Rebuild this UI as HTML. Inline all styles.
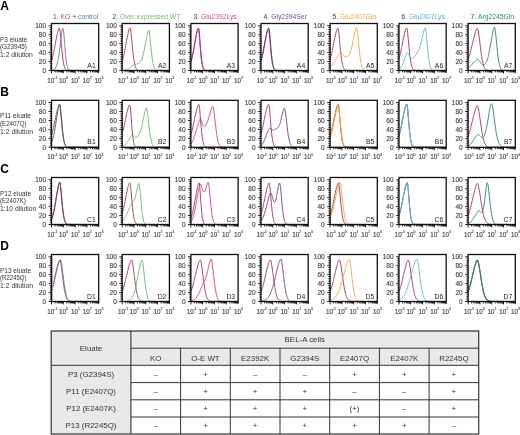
<!DOCTYPE html>
<html><head><meta charset="utf-8"><style>
html,body{margin:0;padding:0;background:#fff;}
body{width:520px;height:435px;overflow:hidden;position:relative;}
.e{stroke:#444;stroke-width:0.14px;fill:#444;}
svg{position:absolute;left:0;top:0;font-family:"Liberation Sans",sans-serif;will-change:transform;}
</style></head><body>
<svg width="520" height="435" viewBox="0 0 520 435">
<text x="0.2" y="10.0" font-size="12" font-weight="bold" fill="#000">A</text>
<text x="0" y="41.50" font-size="6.6" fill="#333" textLength="27.2" lengthAdjust="spacingAndGlyphs">P3 eluate</text>
<text x="0" y="49.10" font-size="6.6" fill="#333" textLength="26.8" lengthAdjust="spacingAndGlyphs">(G23945)</text>
<text x="0" y="56.70" font-size="6.6" fill="#333" textLength="32.9" lengthAdjust="spacingAndGlyphs">1:2 dilution</text>
<text x="0.2" y="95.7" font-size="12" font-weight="bold" fill="#000">B</text>
<text x="0" y="118.30" font-size="6.6" fill="#333" textLength="31.0" lengthAdjust="spacingAndGlyphs">P11 eluate</text>
<text x="0" y="125.90" font-size="6.6" fill="#333" textLength="26.6" lengthAdjust="spacingAndGlyphs">(E2407Q)</text>
<text x="0" y="133.50" font-size="6.6" fill="#333" textLength="33.1" lengthAdjust="spacingAndGlyphs">1:2 dilution</text>
<text x="0.2" y="173.0" font-size="12" font-weight="bold" fill="#000">C</text>
<text x="0" y="195.50" font-size="6.6" fill="#333" textLength="31.0" lengthAdjust="spacingAndGlyphs">P12 eluate</text>
<text x="0" y="203.10" font-size="6.6" fill="#333" textLength="25.8" lengthAdjust="spacingAndGlyphs">(E2407K)</text>
<text x="0" y="210.70" font-size="6.6" fill="#333" textLength="36.2" lengthAdjust="spacingAndGlyphs">1:10 dilution</text>
<text x="0.2" y="250.1" font-size="12" font-weight="bold" fill="#000">D</text>
<text x="0" y="272.50" font-size="6.6" fill="#333" textLength="31.0" lengthAdjust="spacingAndGlyphs">P13 eluate</text>
<text x="0" y="280.10" font-size="6.6" fill="#333" textLength="26.6" lengthAdjust="spacingAndGlyphs">(R2245Q)</text>
<text x="0" y="287.70" font-size="6.6" fill="#333" textLength="33.1" lengthAdjust="spacingAndGlyphs">1:2 dilution</text>
<text x="75.70" y="18.9" font-size="6.75" text-anchor="middle"><tspan fill="#444">1.&#160;</tspan><tspan fill="#d0405f">KO</tspan><tspan fill="#555">&#160;+&#160;</tspan><tspan fill="#5a7db0">control</tspan></text>
<text x="146.40" y="18.9" font-size="6.75" text-anchor="middle"><tspan fill="#444">2.&#160;</tspan><tspan fill="#6cbf6a">Over-expressed&#160;WT</tspan></text>
<text x="215.10" y="18.9" font-size="6.75" text-anchor="middle"><tspan fill="#444">3.&#160;</tspan><tspan fill="#e0409a">Glu2392Lys</tspan></text>
<text x="285.20" y="18.9" font-size="6.75" text-anchor="middle"><tspan fill="#444">4.&#160;</tspan><tspan fill="#7a4a9c">Gly2394Ser</tspan></text>
<text x="354.30" y="18.9" font-size="6.75" text-anchor="middle"><tspan fill="#444">5.&#160;</tspan><tspan fill="#f0a43c">Glu2407Gln</tspan></text>
<text x="423.20" y="18.9" font-size="6.75" text-anchor="middle"><tspan fill="#444">6.&#160;</tspan><tspan fill="#5ab0dc">Glu2407Lys</tspan></text>
<text x="492.30" y="18.9" font-size="6.75" text-anchor="middle"><tspan fill="#444">7.&#160;</tspan><tspan fill="#2f8a6c">Arg2245Gln</tspan></text>
<path d="M51.5,60.9 L51.8,59.9 L52.1,58.9 L52.4,57.8 L52.7,56.6 L53.0,55.4 L53.3,54.1 L53.6,52.8 L53.9,51.4 L54.2,49.9 L54.5,48.4 L54.7,46.9 L55.0,45.4 L55.3,43.8 L55.6,42.2 L55.9,40.7 L56.2,39.1 L56.5,37.6 L56.8,36.1 L57.1,34.7 L57.4,33.4 L57.7,32.1 L58.0,31.0 L58.3,30.0 L58.6,29.2 L58.9,28.6 L59.2,28.2 L59.5,28.1 L59.8,29.0 L60.1,30.9 L60.4,33.3 L60.6,36.3 L60.9,39.4 L61.2,42.7 L61.5,46.1 L61.8,49.3 L62.1,52.3 L62.4,55.1 L62.7,57.7 L63.0,59.9 L63.3,61.9 L63.6,63.6 L63.9,65.0 L64.2,66.2 L64.5,67.1 L64.8,67.9 L65.1,68.5 L65.4,69.0 L65.7,69.4 L66.0,69.7 L66.2,69.9 L66.5,70.1 L66.8,70.2 L67.1,70.3 L67.4,70.4 L67.7,70.4 L68.0,70.4 L98.7,70.5" fill="none" stroke="#a82e58" stroke-width="0.9" stroke-linejoin="round"/>
<path d="M51.5,70.4 L51.8,70.4 L52.1,70.4 L52.4,70.3 L52.7,70.2 L53.0,70.2 L53.3,70.1 L53.6,70.0 L53.9,69.8 L54.2,69.6 L54.5,69.4 L54.7,69.2 L55.0,68.8 L55.3,68.5 L55.6,68.0 L55.9,67.5 L56.2,66.8 L56.5,66.1 L56.8,65.2 L57.1,64.2 L57.4,63.1 L57.7,61.8 L58.0,60.4 L58.3,58.8 L58.6,57.0 L58.9,55.1 L59.2,53.1 L59.5,50.9 L59.8,48.6 L60.1,46.2 L60.4,43.8 L60.6,41.3 L60.9,38.9 L61.2,36.5 L61.5,34.3 L61.8,32.3 L62.1,30.6 L62.4,29.2 L62.7,28.3 L63.0,28.1 L63.3,29.3 L63.6,31.5 L63.9,34.5 L64.2,38.0 L64.5,41.7 L64.8,45.5 L65.1,49.2 L65.4,52.6 L65.7,55.7 L66.0,58.5 L66.2,60.9 L66.5,63.0 L66.8,64.7 L67.1,66.1 L67.4,67.2 L67.7,68.0 L68.0,68.7 L68.3,69.2 L68.6,69.6 L68.9,69.9 L69.2,70.1 L69.5,70.2 L69.8,70.3 L70.1,70.4 L70.4,70.4 L70.7,70.4 L98.7,70.5" fill="none" stroke="#5d7f9c" stroke-width="0.9" stroke-linejoin="round"/>
<rect x="51.50" y="23.50" width="47.20" height="47.00" fill="none" stroke="#111" stroke-width="1.3"/>
<path d="M48.60,70.50H51.50M49.90,68.71H51.50M49.90,66.92H51.50M49.90,65.14H51.50M49.90,63.35H51.50M48.60,61.56H51.50M49.90,59.77H51.50M49.90,57.98H51.50M49.90,56.20H51.50M49.90,54.41H51.50M48.60,52.62H51.50M49.90,50.83H51.50M49.90,49.04H51.50M49.90,47.26H51.50M49.90,45.47H51.50M48.60,43.68H51.50M49.90,41.89H51.50M49.90,40.10H51.50M49.90,38.32H51.50M49.90,36.53H51.50M48.60,34.74H51.50M49.90,32.95H51.50M49.90,31.16H51.50M49.90,29.38H51.50M49.90,27.59H51.50M48.60,25.80H51.50M51.50,70.50V73.40M55.05,70.50V72.40M57.13,70.50V72.40M58.60,70.50V72.40M59.75,70.50V72.40M60.68,70.50V72.40M61.47,70.50V72.40M62.16,70.50V72.40M62.76,70.50V72.40M63.30,70.50V73.40M66.85,70.50V72.40M68.93,70.50V72.40M70.40,70.50V72.40M71.55,70.50V72.40M72.48,70.50V72.40M73.27,70.50V72.40M73.96,70.50V72.40M74.56,70.50V72.40M75.10,70.50V73.40M78.65,70.50V72.40M80.73,70.50V72.40M82.20,70.50V72.40M83.35,70.50V72.40M84.28,70.50V72.40M85.07,70.50V72.40M85.76,70.50V72.40M86.36,70.50V72.40M86.90,70.50V73.40M90.45,70.50V72.40M92.53,70.50V72.40M94.00,70.50V72.40M95.15,70.50V72.40M96.08,70.50V72.40M96.87,70.50V72.40M97.56,70.50V72.40M98.16,70.50V72.40M98.70,70.50V73.10" stroke="#111" stroke-width="0.95" fill="none"/>
<text x="46.10" y="72.80" font-size="6.5" text-anchor="end" fill="#333" class="e">0</text>
<text x="46.10" y="63.86" font-size="6.5" text-anchor="end" fill="#333" class="e">20</text>
<text x="46.10" y="54.92" font-size="6.5" text-anchor="end" fill="#333" class="e">40</text>
<text x="46.10" y="45.98" font-size="6.5" text-anchor="end" fill="#333" class="e">60</text>
<text x="46.10" y="37.04" font-size="6.5" text-anchor="end" fill="#333" class="e">80</text>
<text x="46.10" y="28.10" font-size="6.5" text-anchor="end" fill="#333" class="e">100</text>
<text x="47.30" y="82.50" font-size="6.3" fill="#333" class="e">10<tspan font-size="3.4" dy="-3.2">-1</tspan></text>
<text x="59.10" y="82.50" font-size="6.3" fill="#333" class="e">10<tspan font-size="3.4" dy="-3.2">0</tspan></text>
<text x="70.90" y="82.50" font-size="6.3" fill="#333" class="e">10<tspan font-size="3.4" dy="-3.2">1</tspan></text>
<text x="82.70" y="82.50" font-size="6.3" fill="#333" class="e">10<tspan font-size="3.4" dy="-3.2">2</tspan></text>
<text x="94.50" y="82.50" font-size="6.3" fill="#333" class="e">10<tspan font-size="3.4" dy="-3.2">3</tspan></text>
<text x="95.70" y="67.50" font-size="6.8" text-anchor="end" fill="#222">A1</text>
<path d="M122.2,60.9 L122.5,59.9 L122.8,58.9 L123.1,57.8 L123.4,56.6 L123.7,55.4 L124.0,54.1 L124.3,52.8 L124.6,51.4 L124.9,49.9 L125.2,48.4 L125.4,46.9 L125.7,45.4 L126.0,43.8 L126.3,42.2 L126.6,40.7 L126.9,39.1 L127.2,37.6 L127.5,36.1 L127.8,34.7 L128.1,33.4 L128.4,32.1 L128.7,31.0 L129.0,30.0 L129.3,29.2 L129.6,28.6 L129.9,28.2 L130.2,28.1 L130.5,28.9 L130.8,30.6 L131.1,32.9 L131.3,35.5 L131.6,38.5 L131.9,41.6 L132.2,44.7 L132.5,47.8 L132.8,50.8 L133.1,53.6 L133.4,56.1 L133.7,58.4 L134.0,60.5 L134.3,62.3 L134.6,63.8 L134.9,65.1 L135.2,66.2 L135.5,67.1 L135.8,67.9 L136.1,68.5 L136.4,68.9 L136.7,69.3 L136.9,69.6 L137.2,69.8 L137.5,70.0 L137.8,70.1 L138.1,70.2 L138.4,70.3 L138.7,70.4 L139.0,70.4 L169.4,70.5" fill="none" stroke="#a82e58" stroke-width="0.9" stroke-linejoin="round"/>
<path d="M122.2,70.4 L122.5,70.4 L122.8,70.4 L123.1,70.3 L123.4,70.3 L123.7,70.3 L124.0,70.2 L124.3,70.2 L124.6,70.2 L124.9,70.1 L125.2,70.0 L125.4,70.0 L125.7,69.9 L126.0,69.8 L126.3,69.7 L126.6,69.6 L126.9,69.5 L127.2,69.4 L127.5,69.3 L127.8,69.1 L128.1,69.0 L128.4,68.8 L128.7,68.7 L129.0,68.5 L129.3,68.3 L129.6,68.1 L129.9,67.8 L130.2,67.6 L130.5,67.4 L130.8,67.1 L131.1,66.9 L131.3,66.6 L131.6,66.4 L131.9,66.1 L132.2,65.9 L132.5,65.6 L132.8,65.4 L133.1,65.2 L133.4,64.9 L133.7,64.7 L134.0,64.5 L134.3,64.4 L134.6,64.2 L134.9,64.1 L135.2,64.1 L135.5,64.0 L135.8,64.0 L136.1,64.0 L136.4,64.0 L136.7,63.9 L136.9,63.9 L137.2,63.9 L137.5,63.8 L137.8,63.8 L138.1,63.7 L138.4,63.6 L138.7,63.5 L139.0,63.3 L139.3,63.1 L139.6,62.8 L139.9,62.6 L140.2,62.2 L140.5,61.8 L140.8,61.3 L141.1,60.8 L141.4,60.2 L141.7,59.5 L142.0,58.8 L142.3,57.9 L142.6,57.0 L142.8,56.0 L143.1,54.9 L143.4,53.7 L143.7,52.5 L144.0,51.1 L144.3,49.7 L144.6,48.2 L144.9,46.7 L145.2,45.1 L145.5,43.5 L145.8,41.9 L146.1,40.3 L146.4,38.7 L146.7,37.2 L147.0,35.7 L147.3,34.4 L147.6,33.2 L147.9,32.1 L148.2,31.3 L148.5,30.7 L148.8,30.3 L149.0,30.7 L149.3,32.0 L149.6,34.0 L149.9,36.5 L150.2,39.3 L150.5,42.4 L150.8,45.5 L151.1,48.5 L151.4,51.5 L151.7,54.2 L152.0,56.7 L152.3,59.0 L152.6,61.0 L152.9,62.7 L153.2,64.2 L153.5,65.5 L153.8,66.5 L154.1,67.3 L154.4,68.0 L154.7,68.6 L154.9,69.0 L155.2,69.3 L155.5,69.6 L155.8,69.8 L156.1,69.9 L156.4,70.1 L156.7,70.1 L157.0,70.2 L157.3,70.3 L157.6,70.3 L157.9,70.3 L158.2,70.4 L158.5,70.4 L158.8,70.4 L169.4,70.5" fill="none" stroke="#62b868" stroke-width="0.9" stroke-linejoin="round"/>
<rect x="122.20" y="23.50" width="47.20" height="47.00" fill="none" stroke="#111" stroke-width="1.3"/>
<path d="M119.30,70.50H122.20M120.60,68.71H122.20M120.60,66.92H122.20M120.60,65.14H122.20M120.60,63.35H122.20M119.30,61.56H122.20M120.60,59.77H122.20M120.60,57.98H122.20M120.60,56.20H122.20M120.60,54.41H122.20M119.30,52.62H122.20M120.60,50.83H122.20M120.60,49.04H122.20M120.60,47.26H122.20M120.60,45.47H122.20M119.30,43.68H122.20M120.60,41.89H122.20M120.60,40.10H122.20M120.60,38.32H122.20M120.60,36.53H122.20M119.30,34.74H122.20M120.60,32.95H122.20M120.60,31.16H122.20M120.60,29.38H122.20M120.60,27.59H122.20M119.30,25.80H122.20M122.20,70.50V73.40M125.75,70.50V72.40M127.83,70.50V72.40M129.30,70.50V72.40M130.45,70.50V72.40M131.38,70.50V72.40M132.17,70.50V72.40M132.86,70.50V72.40M133.46,70.50V72.40M134.00,70.50V73.40M137.55,70.50V72.40M139.63,70.50V72.40M141.10,70.50V72.40M142.25,70.50V72.40M143.18,70.50V72.40M143.97,70.50V72.40M144.66,70.50V72.40M145.26,70.50V72.40M145.80,70.50V73.40M149.35,70.50V72.40M151.43,70.50V72.40M152.90,70.50V72.40M154.05,70.50V72.40M154.98,70.50V72.40M155.77,70.50V72.40M156.46,70.50V72.40M157.06,70.50V72.40M157.60,70.50V73.40M161.15,70.50V72.40M163.23,70.50V72.40M164.70,70.50V72.40M165.85,70.50V72.40M166.78,70.50V72.40M167.57,70.50V72.40M168.26,70.50V72.40M168.86,70.50V72.40M169.40,70.50V73.10" stroke="#111" stroke-width="0.95" fill="none"/>
<text x="116.80" y="72.80" font-size="6.5" text-anchor="end" fill="#333" class="e">0</text>
<text x="116.80" y="63.86" font-size="6.5" text-anchor="end" fill="#333" class="e">20</text>
<text x="116.80" y="54.92" font-size="6.5" text-anchor="end" fill="#333" class="e">40</text>
<text x="116.80" y="45.98" font-size="6.5" text-anchor="end" fill="#333" class="e">60</text>
<text x="116.80" y="37.04" font-size="6.5" text-anchor="end" fill="#333" class="e">80</text>
<text x="116.80" y="28.10" font-size="6.5" text-anchor="end" fill="#333" class="e">100</text>
<text x="118.00" y="82.50" font-size="6.3" fill="#333" class="e">10<tspan font-size="3.4" dy="-3.2">-1</tspan></text>
<text x="129.80" y="82.50" font-size="6.3" fill="#333" class="e">10<tspan font-size="3.4" dy="-3.2">0</tspan></text>
<text x="141.60" y="82.50" font-size="6.3" fill="#333" class="e">10<tspan font-size="3.4" dy="-3.2">1</tspan></text>
<text x="153.40" y="82.50" font-size="6.3" fill="#333" class="e">10<tspan font-size="3.4" dy="-3.2">2</tspan></text>
<text x="165.20" y="82.50" font-size="6.3" fill="#333" class="e">10<tspan font-size="3.4" dy="-3.2">3</tspan></text>
<text x="166.40" y="67.50" font-size="6.8" text-anchor="end" fill="#222">A2</text>
<path d="M190.9,61.2 L191.2,60.2 L191.5,59.1 L191.8,57.9 L192.1,56.6 L192.4,55.3 L192.7,53.9 L193.0,52.4 L193.3,50.9 L193.6,49.3 L193.8,47.7 L194.1,46.0 L194.4,44.3 L194.7,42.6 L195.0,40.9 L195.3,39.3 L195.6,37.6 L195.9,36.1 L196.2,34.6 L196.5,33.2 L196.8,31.9 L197.1,30.8 L197.4,29.9 L197.7,29.1 L198.0,28.6 L198.3,28.5 L198.6,29.7 L198.9,32.0 L199.2,34.9 L199.5,38.4 L199.8,42.0 L200.0,45.8 L200.3,49.4 L200.6,52.8 L200.9,55.9 L201.2,58.6 L201.5,61.0 L201.8,63.1 L202.1,64.7 L202.4,66.1 L202.7,67.2 L203.0,68.1 L203.3,68.7 L203.6,69.2 L203.9,69.6 L204.2,69.9 L204.5,70.1 L204.8,70.2 L205.1,70.3 L205.4,70.4 L205.7,70.4 L205.9,70.4 L238.1,70.5" fill="none" stroke="#d8348c" stroke-width="0.9" stroke-linejoin="round"/>
<path d="M190.9,62.2 L191.2,61.3 L191.5,60.3 L191.8,59.2 L192.1,58.0 L192.4,56.7 L192.7,55.4 L193.0,54.0 L193.3,52.5 L193.6,51.0 L193.8,49.4 L194.1,47.8 L194.4,46.1 L194.7,44.4 L195.0,42.7 L195.3,41.0 L195.6,39.3 L195.9,37.6 L196.2,36.0 L196.5,34.5 L196.8,33.1 L197.1,31.7 L197.4,30.6 L197.7,29.6 L198.0,28.8 L198.3,28.3 L198.6,28.0 L198.9,28.9 L199.2,31.0 L199.5,33.9 L199.8,37.3 L200.0,41.0 L200.3,44.7 L200.6,48.4 L200.9,51.9 L201.2,55.1 L201.5,58.0 L201.8,60.5 L202.1,62.6 L202.4,64.4 L202.7,65.8 L203.0,67.0 L203.3,67.9 L203.6,68.6 L203.9,69.1 L204.2,69.5 L204.5,69.8 L204.8,70.0 L205.1,70.2 L205.4,70.3 L205.7,70.4 L205.9,70.4 L206.2,70.4 L238.1,70.5" fill="none" stroke="#9a2862" stroke-width="0.9" stroke-linejoin="round"/>
<rect x="190.90" y="23.50" width="47.20" height="47.00" fill="none" stroke="#111" stroke-width="1.3"/>
<path d="M188.00,70.50H190.90M189.30,68.71H190.90M189.30,66.92H190.90M189.30,65.14H190.90M189.30,63.35H190.90M188.00,61.56H190.90M189.30,59.77H190.90M189.30,57.98H190.90M189.30,56.20H190.90M189.30,54.41H190.90M188.00,52.62H190.90M189.30,50.83H190.90M189.30,49.04H190.90M189.30,47.26H190.90M189.30,45.47H190.90M188.00,43.68H190.90M189.30,41.89H190.90M189.30,40.10H190.90M189.30,38.32H190.90M189.30,36.53H190.90M188.00,34.74H190.90M189.30,32.95H190.90M189.30,31.16H190.90M189.30,29.38H190.90M189.30,27.59H190.90M188.00,25.80H190.90M190.90,70.50V73.40M194.45,70.50V72.40M196.53,70.50V72.40M198.00,70.50V72.40M199.15,70.50V72.40M200.08,70.50V72.40M200.87,70.50V72.40M201.56,70.50V72.40M202.16,70.50V72.40M202.70,70.50V73.40M206.25,70.50V72.40M208.33,70.50V72.40M209.80,70.50V72.40M210.95,70.50V72.40M211.88,70.50V72.40M212.67,70.50V72.40M213.36,70.50V72.40M213.96,70.50V72.40M214.50,70.50V73.40M218.05,70.50V72.40M220.13,70.50V72.40M221.60,70.50V72.40M222.75,70.50V72.40M223.68,70.50V72.40M224.47,70.50V72.40M225.16,70.50V72.40M225.76,70.50V72.40M226.30,70.50V73.40M229.85,70.50V72.40M231.93,70.50V72.40M233.40,70.50V72.40M234.55,70.50V72.40M235.48,70.50V72.40M236.27,70.50V72.40M236.96,70.50V72.40M237.56,70.50V72.40M238.10,70.50V73.10" stroke="#111" stroke-width="0.95" fill="none"/>
<text x="185.50" y="72.80" font-size="6.5" text-anchor="end" fill="#333" class="e">0</text>
<text x="185.50" y="63.86" font-size="6.5" text-anchor="end" fill="#333" class="e">20</text>
<text x="185.50" y="54.92" font-size="6.5" text-anchor="end" fill="#333" class="e">40</text>
<text x="185.50" y="45.98" font-size="6.5" text-anchor="end" fill="#333" class="e">60</text>
<text x="185.50" y="37.04" font-size="6.5" text-anchor="end" fill="#333" class="e">80</text>
<text x="185.50" y="28.10" font-size="6.5" text-anchor="end" fill="#333" class="e">100</text>
<text x="186.70" y="82.50" font-size="6.3" fill="#333" class="e">10<tspan font-size="3.4" dy="-3.2">-1</tspan></text>
<text x="198.50" y="82.50" font-size="6.3" fill="#333" class="e">10<tspan font-size="3.4" dy="-3.2">0</tspan></text>
<text x="210.30" y="82.50" font-size="6.3" fill="#333" class="e">10<tspan font-size="3.4" dy="-3.2">1</tspan></text>
<text x="222.10" y="82.50" font-size="6.3" fill="#333" class="e">10<tspan font-size="3.4" dy="-3.2">2</tspan></text>
<text x="233.90" y="82.50" font-size="6.3" fill="#333" class="e">10<tspan font-size="3.4" dy="-3.2">3</tspan></text>
<text x="235.10" y="67.50" font-size="6.8" text-anchor="end" fill="#222">A3</text>
<path d="M261.0,60.1 L261.3,59.1 L261.6,58.0 L261.9,56.8 L262.2,55.6 L262.5,54.2 L262.8,52.9 L263.1,51.5 L263.4,50.0 L263.7,48.5 L263.9,46.9 L264.2,45.3 L264.5,43.7 L264.8,42.1 L265.1,40.5 L265.4,39.0 L265.7,37.4 L266.0,36.0 L266.3,34.6 L266.6,33.2 L266.9,32.0 L267.2,31.0 L267.5,30.0 L267.8,29.3 L268.1,28.8 L268.4,28.5 L268.7,29.0 L269.0,30.7 L269.3,33.1 L269.6,36.1 L269.9,39.4 L270.1,42.9 L270.4,46.4 L270.7,49.8 L271.0,52.9 L271.3,55.9 L271.6,58.5 L271.9,60.7 L272.2,62.7 L272.5,64.3 L272.8,65.7 L273.1,66.8 L273.4,67.7 L273.7,68.4 L274.0,68.9 L274.3,69.4 L274.6,69.7 L274.9,69.9 L275.2,70.1 L275.5,70.2 L275.8,70.3 L276.0,70.4 L276.3,70.4 L276.6,70.4 L308.2,70.5" fill="none" stroke="#6b3f8c" stroke-width="0.9" stroke-linejoin="round"/>
<path d="M261.0,61.2 L261.3,60.2 L261.6,59.2 L261.9,58.1 L262.2,56.9 L262.5,55.6 L262.8,54.3 L263.1,53.0 L263.4,51.5 L263.7,50.1 L263.9,48.5 L264.2,47.0 L264.5,45.4 L264.8,43.8 L265.1,42.2 L265.4,40.5 L265.7,39.0 L266.0,37.4 L266.3,35.9 L266.6,34.5 L266.9,33.1 L267.2,31.9 L267.5,30.7 L267.8,29.8 L268.1,29.0 L268.4,28.4 L268.7,28.1 L269.0,28.4 L269.3,29.9 L269.6,32.2 L269.9,35.1 L270.1,38.4 L270.4,41.9 L270.7,45.4 L271.0,48.9 L271.3,52.1 L271.6,55.1 L271.9,57.8 L272.2,60.2 L272.5,62.2 L272.8,64.0 L273.1,65.4 L273.4,66.6 L273.7,67.5 L274.0,68.2 L274.3,68.8 L274.6,69.3 L274.9,69.6 L275.2,69.9 L275.5,70.1 L275.8,70.2 L276.0,70.3 L276.3,70.4 L276.6,70.4 L276.9,70.4 L308.2,70.5" fill="none" stroke="#74304f" stroke-width="0.9" stroke-linejoin="round"/>
<rect x="261.00" y="23.50" width="47.20" height="47.00" fill="none" stroke="#111" stroke-width="1.3"/>
<path d="M258.10,70.50H261.00M259.40,68.71H261.00M259.40,66.92H261.00M259.40,65.14H261.00M259.40,63.35H261.00M258.10,61.56H261.00M259.40,59.77H261.00M259.40,57.98H261.00M259.40,56.20H261.00M259.40,54.41H261.00M258.10,52.62H261.00M259.40,50.83H261.00M259.40,49.04H261.00M259.40,47.26H261.00M259.40,45.47H261.00M258.10,43.68H261.00M259.40,41.89H261.00M259.40,40.10H261.00M259.40,38.32H261.00M259.40,36.53H261.00M258.10,34.74H261.00M259.40,32.95H261.00M259.40,31.16H261.00M259.40,29.38H261.00M259.40,27.59H261.00M258.10,25.80H261.00M261.00,70.50V73.40M264.55,70.50V72.40M266.63,70.50V72.40M268.10,70.50V72.40M269.25,70.50V72.40M270.18,70.50V72.40M270.97,70.50V72.40M271.66,70.50V72.40M272.26,70.50V72.40M272.80,70.50V73.40M276.35,70.50V72.40M278.43,70.50V72.40M279.90,70.50V72.40M281.05,70.50V72.40M281.98,70.50V72.40M282.77,70.50V72.40M283.46,70.50V72.40M284.06,70.50V72.40M284.60,70.50V73.40M288.15,70.50V72.40M290.23,70.50V72.40M291.70,70.50V72.40M292.85,70.50V72.40M293.78,70.50V72.40M294.57,70.50V72.40M295.26,70.50V72.40M295.86,70.50V72.40M296.40,70.50V73.40M299.95,70.50V72.40M302.03,70.50V72.40M303.50,70.50V72.40M304.65,70.50V72.40M305.58,70.50V72.40M306.37,70.50V72.40M307.06,70.50V72.40M307.66,70.50V72.40M308.20,70.50V73.10" stroke="#111" stroke-width="0.95" fill="none"/>
<text x="255.60" y="72.80" font-size="6.5" text-anchor="end" fill="#333" class="e">0</text>
<text x="255.60" y="63.86" font-size="6.5" text-anchor="end" fill="#333" class="e">20</text>
<text x="255.60" y="54.92" font-size="6.5" text-anchor="end" fill="#333" class="e">40</text>
<text x="255.60" y="45.98" font-size="6.5" text-anchor="end" fill="#333" class="e">60</text>
<text x="255.60" y="37.04" font-size="6.5" text-anchor="end" fill="#333" class="e">80</text>
<text x="255.60" y="28.10" font-size="6.5" text-anchor="end" fill="#333" class="e">100</text>
<text x="256.80" y="82.50" font-size="6.3" fill="#333" class="e">10<tspan font-size="3.4" dy="-3.2">-1</tspan></text>
<text x="268.60" y="82.50" font-size="6.3" fill="#333" class="e">10<tspan font-size="3.4" dy="-3.2">0</tspan></text>
<text x="280.40" y="82.50" font-size="6.3" fill="#333" class="e">10<tspan font-size="3.4" dy="-3.2">1</tspan></text>
<text x="292.20" y="82.50" font-size="6.3" fill="#333" class="e">10<tspan font-size="3.4" dy="-3.2">2</tspan></text>
<text x="304.00" y="82.50" font-size="6.3" fill="#333" class="e">10<tspan font-size="3.4" dy="-3.2">3</tspan></text>
<text x="305.20" y="67.50" font-size="6.8" text-anchor="end" fill="#222">A4</text>
<path d="M330.1,59.1 L330.4,58.1 L330.7,57.0 L331.0,55.8 L331.3,54.7 L331.6,53.4 L331.9,52.1 L332.2,50.8 L332.5,49.4 L332.8,48.0 L333.1,46.5 L333.3,45.0 L333.6,43.6 L333.9,42.1 L334.2,40.6 L334.5,39.1 L334.8,37.7 L335.1,36.3 L335.4,34.9 L335.7,33.7 L336.0,32.5 L336.3,31.4 L336.6,30.4 L336.9,29.6 L337.2,28.9 L337.5,28.4 L337.8,28.1 L338.1,28.3 L338.4,29.5 L338.7,31.5 L339.0,33.9 L339.2,36.7 L339.5,39.7 L339.8,42.9 L340.1,46.0 L340.4,49.0 L340.7,51.9 L341.0,54.6 L341.3,57.1 L341.6,59.3 L341.9,61.2 L342.2,62.9 L342.5,64.4 L342.8,65.6 L343.1,66.6 L343.4,67.4 L343.7,68.1 L344.0,68.7 L344.3,69.1 L344.6,69.5 L344.9,69.7 L345.1,69.9 L345.4,70.1 L345.7,70.2 L346.0,70.3 L346.3,70.3 L346.6,70.4 L346.9,70.4 L377.3,70.5" fill="none" stroke="#a82e58" stroke-width="0.9" stroke-linejoin="round"/>
<path d="M330.1,67.3 L330.4,67.0 L330.7,66.7 L331.0,66.5 L331.3,66.1 L331.6,65.8 L331.9,65.5 L332.2,65.1 L332.5,64.7 L332.8,64.3 L333.1,63.9 L333.3,63.5 L333.6,63.1 L333.9,62.6 L334.2,62.1 L334.5,61.7 L334.8,61.2 L335.1,60.7 L335.4,60.2 L335.7,59.6 L336.0,59.1 L336.3,58.6 L336.6,58.1 L336.9,57.5 L337.2,57.0 L337.5,56.5 L337.8,56.0 L338.1,55.5 L338.4,55.0 L338.7,54.5 L339.0,54.1 L339.2,53.7 L339.5,53.3 L339.8,52.9 L340.1,52.6 L340.4,52.5 L340.7,52.5 L341.0,52.6 L341.3,52.8 L341.6,53.1 L341.9,53.4 L342.2,53.8 L342.5,54.2 L342.8,54.6 L343.1,55.0 L343.4,55.4 L343.7,55.7 L344.0,56.0 L344.3,56.3 L344.6,56.6 L344.9,56.8 L345.1,56.9 L345.4,57.0 L345.7,57.1 L346.0,57.1 L346.3,57.0 L346.6,57.0 L346.9,56.9 L347.2,56.7 L347.5,56.6 L347.8,56.4 L348.1,56.1 L348.4,55.9 L348.7,55.5 L349.0,55.1 L349.3,54.6 L349.6,54.1 L349.9,53.4 L350.2,52.7 L350.5,51.9 L350.8,51.0 L351.0,50.0 L351.3,48.9 L351.6,47.8 L351.9,46.5 L352.2,45.2 L352.5,43.8 L352.8,42.3 L353.1,40.8 L353.4,39.3 L353.7,37.8 L354.0,36.3 L354.3,34.8 L354.6,33.3 L354.9,32.0 L355.2,30.8 L355.5,29.7 L355.8,28.8 L356.1,28.1 L356.4,27.6 L356.7,27.5 L356.9,28.4 L357.2,30.0 L357.5,32.2 L357.8,34.9 L358.1,37.8 L358.4,40.9 L358.7,44.0 L359.0,47.1 L359.3,50.1 L359.6,52.9 L359.9,55.5 L360.2,57.9 L360.5,60.0 L360.8,61.8 L361.1,63.4 L361.4,64.7 L361.7,65.9 L362.0,66.8 L362.3,67.6 L362.6,68.2 L362.8,68.7 L363.1,69.1 L363.4,69.5 L363.7,69.7 L364.0,69.9 L364.3,70.1 L364.6,70.2 L364.9,70.2 L365.2,70.3 L365.5,70.4 L365.8,70.4 L366.1,70.4 L377.3,70.5" fill="none" stroke="#f2a43a" stroke-width="0.9" stroke-linejoin="round"/>
<rect x="330.10" y="23.50" width="47.20" height="47.00" fill="none" stroke="#111" stroke-width="1.3"/>
<path d="M327.20,70.50H330.10M328.50,68.71H330.10M328.50,66.92H330.10M328.50,65.14H330.10M328.50,63.35H330.10M327.20,61.56H330.10M328.50,59.77H330.10M328.50,57.98H330.10M328.50,56.20H330.10M328.50,54.41H330.10M327.20,52.62H330.10M328.50,50.83H330.10M328.50,49.04H330.10M328.50,47.26H330.10M328.50,45.47H330.10M327.20,43.68H330.10M328.50,41.89H330.10M328.50,40.10H330.10M328.50,38.32H330.10M328.50,36.53H330.10M327.20,34.74H330.10M328.50,32.95H330.10M328.50,31.16H330.10M328.50,29.38H330.10M328.50,27.59H330.10M327.20,25.80H330.10M330.10,70.50V73.40M333.65,70.50V72.40M335.73,70.50V72.40M337.20,70.50V72.40M338.35,70.50V72.40M339.28,70.50V72.40M340.07,70.50V72.40M340.76,70.50V72.40M341.36,70.50V72.40M341.90,70.50V73.40M345.45,70.50V72.40M347.53,70.50V72.40M349.00,70.50V72.40M350.15,70.50V72.40M351.08,70.50V72.40M351.87,70.50V72.40M352.56,70.50V72.40M353.16,70.50V72.40M353.70,70.50V73.40M357.25,70.50V72.40M359.33,70.50V72.40M360.80,70.50V72.40M361.95,70.50V72.40M362.88,70.50V72.40M363.67,70.50V72.40M364.36,70.50V72.40M364.96,70.50V72.40M365.50,70.50V73.40M369.05,70.50V72.40M371.13,70.50V72.40M372.60,70.50V72.40M373.75,70.50V72.40M374.68,70.50V72.40M375.47,70.50V72.40M376.16,70.50V72.40M376.76,70.50V72.40M377.30,70.50V73.10" stroke="#111" stroke-width="0.95" fill="none"/>
<text x="324.70" y="72.80" font-size="6.5" text-anchor="end" fill="#333" class="e">0</text>
<text x="324.70" y="63.86" font-size="6.5" text-anchor="end" fill="#333" class="e">20</text>
<text x="324.70" y="54.92" font-size="6.5" text-anchor="end" fill="#333" class="e">40</text>
<text x="324.70" y="45.98" font-size="6.5" text-anchor="end" fill="#333" class="e">60</text>
<text x="324.70" y="37.04" font-size="6.5" text-anchor="end" fill="#333" class="e">80</text>
<text x="324.70" y="28.10" font-size="6.5" text-anchor="end" fill="#333" class="e">100</text>
<text x="325.90" y="82.50" font-size="6.3" fill="#333" class="e">10<tspan font-size="3.4" dy="-3.2">-1</tspan></text>
<text x="337.70" y="82.50" font-size="6.3" fill="#333" class="e">10<tspan font-size="3.4" dy="-3.2">0</tspan></text>
<text x="349.50" y="82.50" font-size="6.3" fill="#333" class="e">10<tspan font-size="3.4" dy="-3.2">1</tspan></text>
<text x="361.30" y="82.50" font-size="6.3" fill="#333" class="e">10<tspan font-size="3.4" dy="-3.2">2</tspan></text>
<text x="373.10" y="82.50" font-size="6.3" fill="#333" class="e">10<tspan font-size="3.4" dy="-3.2">3</tspan></text>
<text x="374.30" y="67.50" font-size="6.8" text-anchor="end" fill="#222">A5</text>
<path d="M399.0,58.7 L399.3,57.6 L399.6,56.5 L399.9,55.4 L400.2,54.2 L400.5,52.9 L400.8,51.6 L401.1,50.2 L401.4,48.8 L401.7,47.4 L401.9,45.9 L402.2,44.4 L402.5,43.0 L402.8,41.5 L403.1,40.0 L403.4,38.5 L403.7,37.1 L404.0,35.7 L404.3,34.4 L404.6,33.2 L404.9,32.0 L405.2,31.0 L405.5,30.0 L405.8,29.3 L406.1,28.6 L406.4,28.2 L406.7,28.0 L407.0,28.7 L407.3,30.2 L407.6,32.4 L407.9,35.0 L408.1,37.9 L408.4,41.0 L408.7,44.1 L409.0,47.2 L409.3,50.2 L409.6,53.0 L409.9,55.6 L410.2,58.0 L410.5,60.1 L410.8,61.9 L411.1,63.5 L411.4,64.9 L411.7,66.0 L412.0,67.0 L412.3,67.7 L412.6,68.4 L412.9,68.9 L413.2,69.3 L413.5,69.6 L413.8,69.8 L414.0,70.0 L414.3,70.1 L414.6,70.2 L414.9,70.3 L415.2,70.4 L415.5,70.4 L415.8,70.4 L446.2,70.5" fill="none" stroke="#a82e58" stroke-width="0.9" stroke-linejoin="round"/>
<path d="M399.0,69.4 L399.3,69.2 L399.6,69.0 L399.9,68.7 L400.2,68.4 L400.5,68.1 L400.8,67.8 L401.1,67.4 L401.4,66.9 L401.7,66.4 L401.9,65.9 L402.2,65.3 L402.5,64.7 L402.8,64.0 L403.1,63.2 L403.4,62.5 L403.7,61.6 L404.0,60.8 L404.3,59.9 L404.6,59.0 L404.9,58.2 L405.2,57.3 L405.5,56.4 L405.8,55.6 L406.1,54.9 L406.4,54.2 L406.7,53.6 L407.0,53.1 L407.3,52.8 L407.6,52.8 L407.9,53.0 L408.1,53.3 L408.4,53.8 L408.7,54.3 L409.0,54.8 L409.3,55.4 L409.6,55.9 L409.9,56.5 L410.2,56.9 L410.5,57.3 L410.8,57.7 L411.1,58.0 L411.4,58.2 L411.7,58.3 L412.0,58.4 L412.3,58.4 L412.6,58.3 L412.9,58.2 L413.2,58.0 L413.5,57.8 L413.8,57.5 L414.0,57.2 L414.3,56.9 L414.6,56.5 L414.9,56.1 L415.2,55.7 L415.5,55.3 L415.8,54.8 L416.1,54.3 L416.4,53.8 L416.7,53.3 L417.0,52.8 L417.3,52.3 L417.6,51.9 L417.9,51.4 L418.2,50.8 L418.5,50.3 L418.8,49.7 L419.1,49.0 L419.4,48.3 L419.6,47.4 L419.9,46.6 L420.2,45.6 L420.5,44.6 L420.8,43.5 L421.1,42.3 L421.4,41.1 L421.7,39.8 L422.0,38.5 L422.3,37.2 L422.6,35.8 L422.9,34.5 L423.2,33.3 L423.5,32.1 L423.8,31.0 L424.1,30.0 L424.4,29.2 L424.7,28.5 L425.0,28.1 L425.3,28.0 L425.6,28.7 L425.8,30.4 L426.1,32.7 L426.4,35.5 L426.7,38.6 L427.0,41.8 L427.3,45.1 L427.6,48.3 L427.9,51.4 L428.2,54.2 L428.5,56.8 L428.8,59.2 L429.1,61.2 L429.4,63.0 L429.7,64.4 L430.0,65.7 L430.3,66.7 L430.6,67.6 L430.9,68.2 L431.2,68.8 L431.4,69.2 L431.7,69.5 L432.0,69.8 L432.3,70.0 L432.6,70.1 L432.9,70.2 L433.2,70.3 L433.5,70.3 L433.8,70.4 L434.1,70.4 L446.2,70.5" fill="none" stroke="#5ab0dc" stroke-width="0.9" stroke-linejoin="round"/>
<rect x="399.00" y="23.50" width="47.20" height="47.00" fill="none" stroke="#111" stroke-width="1.3"/>
<path d="M396.10,70.50H399.00M397.40,68.71H399.00M397.40,66.92H399.00M397.40,65.14H399.00M397.40,63.35H399.00M396.10,61.56H399.00M397.40,59.77H399.00M397.40,57.98H399.00M397.40,56.20H399.00M397.40,54.41H399.00M396.10,52.62H399.00M397.40,50.83H399.00M397.40,49.04H399.00M397.40,47.26H399.00M397.40,45.47H399.00M396.10,43.68H399.00M397.40,41.89H399.00M397.40,40.10H399.00M397.40,38.32H399.00M397.40,36.53H399.00M396.10,34.74H399.00M397.40,32.95H399.00M397.40,31.16H399.00M397.40,29.38H399.00M397.40,27.59H399.00M396.10,25.80H399.00M399.00,70.50V73.40M402.55,70.50V72.40M404.63,70.50V72.40M406.10,70.50V72.40M407.25,70.50V72.40M408.18,70.50V72.40M408.97,70.50V72.40M409.66,70.50V72.40M410.26,70.50V72.40M410.80,70.50V73.40M414.35,70.50V72.40M416.43,70.50V72.40M417.90,70.50V72.40M419.05,70.50V72.40M419.98,70.50V72.40M420.77,70.50V72.40M421.46,70.50V72.40M422.06,70.50V72.40M422.60,70.50V73.40M426.15,70.50V72.40M428.23,70.50V72.40M429.70,70.50V72.40M430.85,70.50V72.40M431.78,70.50V72.40M432.57,70.50V72.40M433.26,70.50V72.40M433.86,70.50V72.40M434.40,70.50V73.40M437.95,70.50V72.40M440.03,70.50V72.40M441.50,70.50V72.40M442.65,70.50V72.40M443.58,70.50V72.40M444.37,70.50V72.40M445.06,70.50V72.40M445.66,70.50V72.40M446.20,70.50V73.10" stroke="#111" stroke-width="0.95" fill="none"/>
<text x="393.60" y="72.80" font-size="6.5" text-anchor="end" fill="#333" class="e">0</text>
<text x="393.60" y="63.86" font-size="6.5" text-anchor="end" fill="#333" class="e">20</text>
<text x="393.60" y="54.92" font-size="6.5" text-anchor="end" fill="#333" class="e">40</text>
<text x="393.60" y="45.98" font-size="6.5" text-anchor="end" fill="#333" class="e">60</text>
<text x="393.60" y="37.04" font-size="6.5" text-anchor="end" fill="#333" class="e">80</text>
<text x="393.60" y="28.10" font-size="6.5" text-anchor="end" fill="#333" class="e">100</text>
<text x="394.80" y="82.50" font-size="6.3" fill="#333" class="e">10<tspan font-size="3.4" dy="-3.2">-1</tspan></text>
<text x="406.60" y="82.50" font-size="6.3" fill="#333" class="e">10<tspan font-size="3.4" dy="-3.2">0</tspan></text>
<text x="418.40" y="82.50" font-size="6.3" fill="#333" class="e">10<tspan font-size="3.4" dy="-3.2">1</tspan></text>
<text x="430.20" y="82.50" font-size="6.3" fill="#333" class="e">10<tspan font-size="3.4" dy="-3.2">2</tspan></text>
<text x="442.00" y="82.50" font-size="6.3" fill="#333" class="e">10<tspan font-size="3.4" dy="-3.2">3</tspan></text>
<text x="443.20" y="67.50" font-size="6.8" text-anchor="end" fill="#222">A6</text>
<path d="M468.1,59.5 L468.4,58.6 L468.7,57.8 L469.0,56.8 L469.3,55.9 L469.6,54.9 L469.9,53.9 L470.2,52.8 L470.5,51.7 L470.8,50.5 L471.1,49.4 L471.3,48.2 L471.6,47.0 L471.9,45.8 L472.2,44.5 L472.5,43.3 L472.8,42.0 L473.1,40.8 L473.4,39.6 L473.7,38.4 L474.0,37.2 L474.3,36.0 L474.6,34.9 L474.9,33.9 L475.2,32.9 L475.5,32.0 L475.8,31.1 L476.1,30.4 L476.4,29.7 L476.7,29.2 L477.0,28.8 L477.2,28.5 L477.5,28.6 L477.8,29.3 L478.1,30.4 L478.4,32.0 L478.7,33.9 L479.0,36.0 L479.3,38.3 L479.6,40.6 L479.9,43.1 L480.2,45.5 L480.5,47.9 L480.8,50.2 L481.1,52.4 L481.4,54.5 L481.7,56.4 L482.0,58.2 L482.3,59.9 L482.6,61.4 L482.9,62.7 L483.1,63.9 L483.4,64.9 L483.7,65.8 L484.0,66.6 L484.3,67.3 L484.6,67.8 L484.9,68.3 L485.2,68.7 L485.5,69.1 L485.8,69.3 L486.1,69.6 L486.4,69.8 L486.7,69.9 L487.0,70.0 L487.3,70.1 L487.6,70.2 L487.9,70.3 L488.2,70.3 L488.5,70.4 L488.8,70.4 L515.3,70.5" fill="none" stroke="#a82e58" stroke-width="0.9" stroke-linejoin="round"/>
<path d="M468.1,67.9 L468.4,67.7 L468.7,67.4 L469.0,67.2 L469.3,67.0 L469.6,66.7 L469.9,66.5 L470.2,66.2 L470.5,65.9 L470.8,65.6 L471.1,65.3 L471.3,65.0 L471.6,64.7 L471.9,64.4 L472.2,64.1 L472.5,63.8 L472.8,63.4 L473.1,63.1 L473.4,62.8 L473.7,62.4 L474.0,62.1 L474.3,61.8 L474.6,61.5 L474.9,61.2 L475.2,60.9 L475.5,60.6 L475.8,60.3 L476.1,60.0 L476.4,59.8 L476.7,59.6 L477.0,59.4 L477.2,59.3 L477.5,59.2 L477.8,59.2 L478.1,59.4 L478.4,59.7 L478.7,60.0 L479.0,60.5 L479.3,60.9 L479.6,61.3 L479.9,61.8 L480.2,62.3 L480.5,62.7 L480.8,63.1 L481.1,63.5 L481.4,63.8 L481.7,64.1 L482.0,64.3 L482.3,64.5 L482.6,64.7 L482.9,64.8 L483.1,64.8 L483.4,64.8 L483.7,64.8 L484.0,64.7 L484.3,64.5 L484.6,64.4 L484.9,64.1 L485.2,63.8 L485.5,63.4 L485.8,63.0 L486.1,62.5 L486.4,61.9 L486.7,61.2 L487.0,60.5 L487.3,59.7 L487.6,58.8 L487.9,57.8 L488.2,56.7 L488.5,55.5 L488.8,54.3 L489.0,52.9 L489.3,51.5 L489.6,50.0 L489.9,48.4 L490.2,46.8 L490.5,45.1 L490.8,43.4 L491.1,41.7 L491.4,39.9 L491.7,38.2 L492.0,36.5 L492.3,34.9 L492.6,33.3 L492.9,31.9 L493.2,30.6 L493.5,29.4 L493.8,28.5 L494.1,27.8 L494.4,27.3 L494.7,27.4 L494.9,28.4 L495.2,30.2 L495.5,32.5 L495.8,35.2 L496.1,38.1 L496.4,41.2 L496.7,44.3 L497.0,47.4 L497.3,50.3 L497.6,53.1 L497.9,55.6 L498.2,57.9 L498.5,60.0 L498.8,61.8 L499.1,63.4 L499.4,64.7 L499.7,65.9 L500.0,66.8 L500.3,67.6 L500.6,68.2 L500.8,68.7 L501.1,69.1 L501.4,69.5 L501.7,69.7 L502.0,69.9 L502.3,70.1 L502.6,70.2 L502.9,70.3 L503.2,70.3 L503.5,70.4 L503.8,70.4 L515.3,70.5" fill="none" stroke="#2c7e66" stroke-width="0.9" stroke-linejoin="round"/>
<rect x="468.10" y="23.50" width="47.20" height="47.00" fill="none" stroke="#111" stroke-width="1.3"/>
<path d="M465.20,70.50H468.10M466.50,68.71H468.10M466.50,66.92H468.10M466.50,65.14H468.10M466.50,63.35H468.10M465.20,61.56H468.10M466.50,59.77H468.10M466.50,57.98H468.10M466.50,56.20H468.10M466.50,54.41H468.10M465.20,52.62H468.10M466.50,50.83H468.10M466.50,49.04H468.10M466.50,47.26H468.10M466.50,45.47H468.10M465.20,43.68H468.10M466.50,41.89H468.10M466.50,40.10H468.10M466.50,38.32H468.10M466.50,36.53H468.10M465.20,34.74H468.10M466.50,32.95H468.10M466.50,31.16H468.10M466.50,29.38H468.10M466.50,27.59H468.10M465.20,25.80H468.10M468.10,70.50V73.40M471.65,70.50V72.40M473.73,70.50V72.40M475.20,70.50V72.40M476.35,70.50V72.40M477.28,70.50V72.40M478.07,70.50V72.40M478.76,70.50V72.40M479.36,70.50V72.40M479.90,70.50V73.40M483.45,70.50V72.40M485.53,70.50V72.40M487.00,70.50V72.40M488.15,70.50V72.40M489.08,70.50V72.40M489.87,70.50V72.40M490.56,70.50V72.40M491.16,70.50V72.40M491.70,70.50V73.40M495.25,70.50V72.40M497.33,70.50V72.40M498.80,70.50V72.40M499.95,70.50V72.40M500.88,70.50V72.40M501.67,70.50V72.40M502.36,70.50V72.40M502.96,70.50V72.40M503.50,70.50V73.40M507.05,70.50V72.40M509.13,70.50V72.40M510.60,70.50V72.40M511.75,70.50V72.40M512.68,70.50V72.40M513.47,70.50V72.40M514.16,70.50V72.40M514.76,70.50V72.40M515.30,70.50V73.10" stroke="#111" stroke-width="0.95" fill="none"/>
<text x="462.70" y="72.80" font-size="6.5" text-anchor="end" fill="#333" class="e">0</text>
<text x="462.70" y="63.86" font-size="6.5" text-anchor="end" fill="#333" class="e">20</text>
<text x="462.70" y="54.92" font-size="6.5" text-anchor="end" fill="#333" class="e">40</text>
<text x="462.70" y="45.98" font-size="6.5" text-anchor="end" fill="#333" class="e">60</text>
<text x="462.70" y="37.04" font-size="6.5" text-anchor="end" fill="#333" class="e">80</text>
<text x="462.70" y="28.10" font-size="6.5" text-anchor="end" fill="#333" class="e">100</text>
<text x="463.90" y="82.50" font-size="6.3" fill="#333" class="e">10<tspan font-size="3.4" dy="-3.2">-1</tspan></text>
<text x="475.70" y="82.50" font-size="6.3" fill="#333" class="e">10<tspan font-size="3.4" dy="-3.2">0</tspan></text>
<text x="487.50" y="82.50" font-size="6.3" fill="#333" class="e">10<tspan font-size="3.4" dy="-3.2">1</tspan></text>
<text x="499.30" y="82.50" font-size="6.3" fill="#333" class="e">10<tspan font-size="3.4" dy="-3.2">2</tspan></text>
<text x="511.10" y="82.50" font-size="6.3" fill="#333" class="e">10<tspan font-size="3.4" dy="-3.2">3</tspan></text>
<text x="512.30" y="67.50" font-size="6.8" text-anchor="end" fill="#222">A7</text>
<path d="M51.5,135.3 L51.8,134.3 L52.1,133.3 L52.4,132.2 L52.7,131.0 L53.0,129.8 L53.3,128.6 L53.6,127.3 L53.9,126.0 L54.2,124.6 L54.5,123.2 L54.7,121.8 L55.0,120.4 L55.3,119.0 L55.6,117.6 L55.9,116.2 L56.2,114.8 L56.5,113.5 L56.8,112.2 L57.1,110.9 L57.4,109.8 L57.7,108.7 L58.0,107.7 L58.3,106.8 L58.6,106.1 L58.9,105.5 L59.2,105.1 L59.5,104.8 L59.8,105.3 L60.1,106.9 L60.4,109.1 L60.6,111.9 L60.9,114.9 L61.2,118.2 L61.5,121.5 L61.8,124.8 L62.1,127.9 L62.4,130.8 L62.7,133.5 L63.0,135.9 L63.3,137.9 L63.6,139.7 L63.9,141.3 L64.2,142.5 L64.5,143.6 L64.8,144.4 L65.1,145.1 L65.4,145.6 L65.7,146.1 L66.0,146.4 L66.2,146.6 L66.5,146.8 L66.8,147.0 L67.1,147.1 L67.4,147.1 L67.7,147.2 L68.0,147.2 L98.7,147.3" fill="none" stroke="#a82e58" stroke-width="0.9" stroke-linejoin="round"/>
<path d="M51.5,142.5 L51.8,141.8 L52.1,141.0 L52.4,140.2 L52.7,139.2 L53.0,138.2 L53.3,137.1 L53.6,135.8 L53.9,134.5 L54.2,133.1 L54.5,131.6 L54.7,130.0 L55.0,128.3 L55.3,126.6 L55.6,124.8 L55.9,122.9 L56.2,121.0 L56.5,119.1 L56.8,117.2 L57.1,115.3 L57.4,113.4 L57.7,111.6 L58.0,109.9 L58.3,108.4 L58.6,107.0 L58.9,105.8 L59.2,104.9 L59.5,104.2 L59.8,103.9 L60.1,104.7 L60.4,106.4 L60.6,108.8 L60.9,111.7 L61.2,114.9 L61.5,118.3 L61.8,121.7 L62.1,125.0 L62.4,128.1 L62.7,131.1 L63.0,133.7 L63.3,136.1 L63.6,138.1 L63.9,139.9 L64.2,141.4 L64.5,142.7 L64.8,143.7 L65.1,144.5 L65.4,145.2 L65.7,145.7 L66.0,146.1 L66.2,146.4 L66.5,146.7 L66.8,146.8 L67.1,147.0 L67.4,147.1 L67.7,147.1 L68.0,147.2 L68.3,147.2 L98.7,147.3" fill="none" stroke="#3d5a62" stroke-width="0.9" stroke-linejoin="round"/>
<rect x="51.50" y="100.30" width="47.20" height="47.00" fill="none" stroke="#111" stroke-width="1.3"/>
<path d="M48.60,147.30H51.50M49.90,145.51H51.50M49.90,143.72H51.50M49.90,141.94H51.50M49.90,140.15H51.50M48.60,138.36H51.50M49.90,136.57H51.50M49.90,134.78H51.50M49.90,133.00H51.50M49.90,131.21H51.50M48.60,129.42H51.50M49.90,127.63H51.50M49.90,125.84H51.50M49.90,124.06H51.50M49.90,122.27H51.50M48.60,120.48H51.50M49.90,118.69H51.50M49.90,116.90H51.50M49.90,115.12H51.50M49.90,113.33H51.50M48.60,111.54H51.50M49.90,109.75H51.50M49.90,107.96H51.50M49.90,106.18H51.50M49.90,104.39H51.50M48.60,102.60H51.50M51.50,147.30V150.20M55.05,147.30V149.20M57.13,147.30V149.20M58.60,147.30V149.20M59.75,147.30V149.20M60.68,147.30V149.20M61.47,147.30V149.20M62.16,147.30V149.20M62.76,147.30V149.20M63.30,147.30V150.20M66.85,147.30V149.20M68.93,147.30V149.20M70.40,147.30V149.20M71.55,147.30V149.20M72.48,147.30V149.20M73.27,147.30V149.20M73.96,147.30V149.20M74.56,147.30V149.20M75.10,147.30V150.20M78.65,147.30V149.20M80.73,147.30V149.20M82.20,147.30V149.20M83.35,147.30V149.20M84.28,147.30V149.20M85.07,147.30V149.20M85.76,147.30V149.20M86.36,147.30V149.20M86.90,147.30V150.20M90.45,147.30V149.20M92.53,147.30V149.20M94.00,147.30V149.20M95.15,147.30V149.20M96.08,147.30V149.20M96.87,147.30V149.20M97.56,147.30V149.20M98.16,147.30V149.20M98.70,147.30V149.90" stroke="#111" stroke-width="0.95" fill="none"/>
<text x="46.10" y="149.60" font-size="6.5" text-anchor="end" fill="#333" class="e">0</text>
<text x="46.10" y="140.66" font-size="6.5" text-anchor="end" fill="#333" class="e">20</text>
<text x="46.10" y="131.72" font-size="6.5" text-anchor="end" fill="#333" class="e">40</text>
<text x="46.10" y="122.78" font-size="6.5" text-anchor="end" fill="#333" class="e">60</text>
<text x="46.10" y="113.84" font-size="6.5" text-anchor="end" fill="#333" class="e">80</text>
<text x="46.10" y="104.90" font-size="6.5" text-anchor="end" fill="#333" class="e">100</text>
<text x="47.30" y="159.30" font-size="6.3" fill="#333" class="e">10<tspan font-size="3.4" dy="-3.2">-1</tspan></text>
<text x="59.10" y="159.30" font-size="6.3" fill="#333" class="e">10<tspan font-size="3.4" dy="-3.2">0</tspan></text>
<text x="70.90" y="159.30" font-size="6.3" fill="#333" class="e">10<tspan font-size="3.4" dy="-3.2">1</tspan></text>
<text x="82.70" y="159.30" font-size="6.3" fill="#333" class="e">10<tspan font-size="3.4" dy="-3.2">2</tspan></text>
<text x="94.50" y="159.30" font-size="6.3" fill="#333" class="e">10<tspan font-size="3.4" dy="-3.2">3</tspan></text>
<text x="95.70" y="144.30" font-size="6.8" text-anchor="end" fill="#222">B1</text>
<path d="M122.2,133.7 L122.5,132.6 L122.8,131.5 L123.1,130.3 L123.4,129.1 L123.7,127.8 L124.0,126.5 L124.3,125.1 L124.6,123.8 L124.9,122.4 L125.2,121.0 L125.4,119.6 L125.7,118.2 L126.0,116.7 L126.3,115.4 L126.6,114.0 L126.9,112.7 L127.2,111.4 L127.5,110.2 L127.8,109.1 L128.1,108.1 L128.4,107.2 L128.7,106.4 L129.0,105.7 L129.3,105.2 L129.6,104.9 L129.9,105.0 L130.2,106.6 L130.5,109.1 L130.8,112.4 L131.1,116.1 L131.3,120.0 L131.6,123.9 L131.9,127.6 L132.2,131.0 L132.5,134.0 L132.8,136.7 L133.1,139.0 L133.4,140.9 L133.7,142.4 L134.0,143.7 L134.3,144.6 L134.6,145.4 L134.9,145.9 L135.2,146.3 L135.5,146.6 L135.8,146.8 L136.1,147.0 L136.4,147.1 L136.7,147.2 L136.9,147.2 L137.2,147.2 L169.4,147.3" fill="none" stroke="#a82e58" stroke-width="0.9" stroke-linejoin="round"/>
<path d="M122.2,146.7 L122.5,146.6 L122.8,146.4 L123.1,146.3 L123.4,146.2 L123.7,146.0 L124.0,145.8 L124.3,145.6 L124.6,145.4 L124.9,145.1 L125.2,144.9 L125.4,144.6 L125.7,144.2 L126.0,143.9 L126.3,143.5 L126.6,143.1 L126.9,142.7 L127.2,142.3 L127.5,141.8 L127.8,141.3 L128.1,140.8 L128.4,140.3 L128.7,139.8 L129.0,139.3 L129.3,138.8 L129.6,138.3 L129.9,137.8 L130.2,137.3 L130.5,136.9 L130.8,136.5 L131.1,136.1 L131.3,135.8 L131.6,135.6 L131.9,135.5 L132.2,135.5 L132.5,135.5 L132.8,135.7 L133.1,135.8 L133.4,136.0 L133.7,136.3 L134.0,136.5 L134.3,136.7 L134.6,136.9 L134.9,137.1 L135.2,137.2 L135.5,137.4 L135.8,137.4 L136.1,137.5 L136.4,137.4 L136.7,137.4 L136.9,137.3 L137.2,137.1 L137.5,136.9 L137.8,136.6 L138.1,136.2 L138.4,135.8 L138.7,135.4 L139.0,134.9 L139.3,134.4 L139.6,133.8 L139.9,133.1 L140.2,132.4 L140.5,131.5 L140.8,130.6 L141.1,129.6 L141.4,128.5 L141.7,127.3 L142.0,126.0 L142.3,124.7 L142.6,123.3 L142.8,121.8 L143.1,120.3 L143.4,118.8 L143.7,117.3 L144.0,115.7 L144.3,114.3 L144.6,112.9 L144.9,111.6 L145.2,110.5 L145.5,109.5 L145.8,108.8 L146.1,108.3 L146.4,108.2 L146.7,108.9 L147.0,110.1 L147.3,111.9 L147.6,113.9 L147.9,116.3 L148.2,118.7 L148.5,121.3 L148.8,123.9 L149.0,126.4 L149.3,128.9 L149.6,131.2 L149.9,133.3 L150.2,135.3 L150.5,137.1 L150.8,138.7 L151.1,140.1 L151.4,141.3 L151.7,142.4 L152.0,143.3 L152.3,144.1 L152.6,144.7 L152.9,145.2 L153.2,145.7 L153.5,146.0 L153.8,146.3 L154.1,146.5 L154.4,146.7 L154.7,146.8 L154.9,147.0 L155.2,147.0 L155.5,147.1 L155.8,147.2 L156.1,147.2 L156.4,147.2 L169.4,147.3" fill="none" stroke="#62b868" stroke-width="0.9" stroke-linejoin="round"/>
<rect x="122.20" y="100.30" width="47.20" height="47.00" fill="none" stroke="#111" stroke-width="1.3"/>
<path d="M119.30,147.30H122.20M120.60,145.51H122.20M120.60,143.72H122.20M120.60,141.94H122.20M120.60,140.15H122.20M119.30,138.36H122.20M120.60,136.57H122.20M120.60,134.78H122.20M120.60,133.00H122.20M120.60,131.21H122.20M119.30,129.42H122.20M120.60,127.63H122.20M120.60,125.84H122.20M120.60,124.06H122.20M120.60,122.27H122.20M119.30,120.48H122.20M120.60,118.69H122.20M120.60,116.90H122.20M120.60,115.12H122.20M120.60,113.33H122.20M119.30,111.54H122.20M120.60,109.75H122.20M120.60,107.96H122.20M120.60,106.18H122.20M120.60,104.39H122.20M119.30,102.60H122.20M122.20,147.30V150.20M125.75,147.30V149.20M127.83,147.30V149.20M129.30,147.30V149.20M130.45,147.30V149.20M131.38,147.30V149.20M132.17,147.30V149.20M132.86,147.30V149.20M133.46,147.30V149.20M134.00,147.30V150.20M137.55,147.30V149.20M139.63,147.30V149.20M141.10,147.30V149.20M142.25,147.30V149.20M143.18,147.30V149.20M143.97,147.30V149.20M144.66,147.30V149.20M145.26,147.30V149.20M145.80,147.30V150.20M149.35,147.30V149.20M151.43,147.30V149.20M152.90,147.30V149.20M154.05,147.30V149.20M154.98,147.30V149.20M155.77,147.30V149.20M156.46,147.30V149.20M157.06,147.30V149.20M157.60,147.30V150.20M161.15,147.30V149.20M163.23,147.30V149.20M164.70,147.30V149.20M165.85,147.30V149.20M166.78,147.30V149.20M167.57,147.30V149.20M168.26,147.30V149.20M168.86,147.30V149.20M169.40,147.30V149.90" stroke="#111" stroke-width="0.95" fill="none"/>
<text x="116.80" y="149.60" font-size="6.5" text-anchor="end" fill="#333" class="e">0</text>
<text x="116.80" y="140.66" font-size="6.5" text-anchor="end" fill="#333" class="e">20</text>
<text x="116.80" y="131.72" font-size="6.5" text-anchor="end" fill="#333" class="e">40</text>
<text x="116.80" y="122.78" font-size="6.5" text-anchor="end" fill="#333" class="e">60</text>
<text x="116.80" y="113.84" font-size="6.5" text-anchor="end" fill="#333" class="e">80</text>
<text x="116.80" y="104.90" font-size="6.5" text-anchor="end" fill="#333" class="e">100</text>
<text x="118.00" y="159.30" font-size="6.3" fill="#333" class="e">10<tspan font-size="3.4" dy="-3.2">-1</tspan></text>
<text x="129.80" y="159.30" font-size="6.3" fill="#333" class="e">10<tspan font-size="3.4" dy="-3.2">0</tspan></text>
<text x="141.60" y="159.30" font-size="6.3" fill="#333" class="e">10<tspan font-size="3.4" dy="-3.2">1</tspan></text>
<text x="153.40" y="159.30" font-size="6.3" fill="#333" class="e">10<tspan font-size="3.4" dy="-3.2">2</tspan></text>
<text x="165.20" y="159.30" font-size="6.3" fill="#333" class="e">10<tspan font-size="3.4" dy="-3.2">3</tspan></text>
<text x="166.40" y="144.30" font-size="6.8" text-anchor="end" fill="#222">B2</text>
<path d="M190.9,134.8 L191.2,133.8 L191.5,132.7 L191.8,131.5 L192.1,130.4 L192.4,129.1 L192.7,127.9 L193.0,126.5 L193.3,125.2 L193.6,123.8 L193.8,122.4 L194.1,121.0 L194.4,119.6 L194.7,118.1 L195.0,116.7 L195.3,115.3 L195.6,113.9 L195.9,112.6 L196.2,111.3 L196.5,110.1 L196.8,108.9 L197.1,107.9 L197.4,106.9 L197.7,106.1 L198.0,105.4 L198.3,104.9 L198.6,104.5 L198.9,104.4 L199.2,105.5 L199.5,107.6 L199.8,110.3 L200.0,113.5 L200.3,117.0 L200.6,120.6 L200.9,124.1 L201.2,127.5 L201.5,130.6 L201.8,133.4 L202.1,136.0 L202.4,138.2 L202.7,140.0 L203.0,141.6 L203.3,142.9 L203.6,143.9 L203.9,144.7 L204.2,145.4 L204.5,145.9 L204.8,146.3 L205.1,146.6 L205.4,146.8 L205.7,146.9 L205.9,147.0 L206.2,147.1 L206.5,147.2 L206.8,147.2 L238.1,147.3" fill="none" stroke="#a82e58" stroke-width="0.9" stroke-linejoin="round"/>
<path d="M190.9,143.9 L191.2,143.5 L191.5,143.1 L191.8,142.6 L192.1,142.1 L192.4,141.5 L192.7,140.9 L193.0,140.3 L193.3,139.6 L193.6,138.9 L193.8,138.1 L194.1,137.3 L194.4,136.4 L194.7,135.5 L195.0,134.6 L195.3,133.7 L195.6,132.7 L195.9,131.7 L196.2,130.6 L196.5,129.6 L196.8,128.5 L197.1,127.5 L197.4,126.4 L197.7,125.4 L198.0,124.4 L198.3,123.4 L198.6,122.5 L198.9,121.6 L199.2,120.8 L199.5,120.0 L199.8,119.4 L200.0,118.9 L200.3,118.8 L200.6,119.1 L200.9,119.7 L201.2,120.4 L201.5,121.2 L201.8,122.1 L202.1,123.0 L202.4,123.9 L202.7,124.7 L203.0,125.4 L203.3,125.9 L203.6,126.3 L203.9,126.6 L204.2,126.7 L204.5,126.7 L204.8,126.5 L205.1,126.2 L205.4,125.8 L205.7,125.3 L205.9,124.8 L206.2,124.2 L206.5,123.6 L206.8,122.9 L207.1,122.3 L207.4,121.6 L207.7,120.8 L208.0,120.0 L208.3,119.1 L208.6,118.2 L208.9,117.2 L209.2,116.2 L209.5,115.1 L209.8,114.0 L210.1,113.0 L210.4,111.9 L210.7,110.8 L211.0,109.8 L211.3,108.9 L211.6,108.1 L211.8,107.4 L212.1,106.8 L212.4,106.4 L212.7,106.3 L213.0,106.5 L213.3,107.5 L213.6,109.0 L213.9,111.0 L214.2,113.3 L214.5,115.8 L214.8,118.4 L215.1,121.1 L215.4,123.8 L215.7,126.4 L216.0,128.9 L216.3,131.3 L216.6,133.4 L216.9,135.4 L217.2,137.2 L217.5,138.8 L217.7,140.2 L218.0,141.4 L218.3,142.5 L218.6,143.4 L218.9,144.1 L219.2,144.8 L219.5,145.3 L219.8,145.7 L220.1,146.1 L220.4,146.3 L220.7,146.6 L221.0,146.7 L221.3,146.9 L221.6,147.0 L221.9,147.1 L222.2,147.1 L222.5,147.2 L222.8,147.2 L223.1,147.2 L238.1,147.3" fill="none" stroke="#d8348c" stroke-width="0.9" stroke-linejoin="round"/>
<rect x="190.90" y="100.30" width="47.20" height="47.00" fill="none" stroke="#111" stroke-width="1.3"/>
<path d="M188.00,147.30H190.90M189.30,145.51H190.90M189.30,143.72H190.90M189.30,141.94H190.90M189.30,140.15H190.90M188.00,138.36H190.90M189.30,136.57H190.90M189.30,134.78H190.90M189.30,133.00H190.90M189.30,131.21H190.90M188.00,129.42H190.90M189.30,127.63H190.90M189.30,125.84H190.90M189.30,124.06H190.90M189.30,122.27H190.90M188.00,120.48H190.90M189.30,118.69H190.90M189.30,116.90H190.90M189.30,115.12H190.90M189.30,113.33H190.90M188.00,111.54H190.90M189.30,109.75H190.90M189.30,107.96H190.90M189.30,106.18H190.90M189.30,104.39H190.90M188.00,102.60H190.90M190.90,147.30V150.20M194.45,147.30V149.20M196.53,147.30V149.20M198.00,147.30V149.20M199.15,147.30V149.20M200.08,147.30V149.20M200.87,147.30V149.20M201.56,147.30V149.20M202.16,147.30V149.20M202.70,147.30V150.20M206.25,147.30V149.20M208.33,147.30V149.20M209.80,147.30V149.20M210.95,147.30V149.20M211.88,147.30V149.20M212.67,147.30V149.20M213.36,147.30V149.20M213.96,147.30V149.20M214.50,147.30V150.20M218.05,147.30V149.20M220.13,147.30V149.20M221.60,147.30V149.20M222.75,147.30V149.20M223.68,147.30V149.20M224.47,147.30V149.20M225.16,147.30V149.20M225.76,147.30V149.20M226.30,147.30V150.20M229.85,147.30V149.20M231.93,147.30V149.20M233.40,147.30V149.20M234.55,147.30V149.20M235.48,147.30V149.20M236.27,147.30V149.20M236.96,147.30V149.20M237.56,147.30V149.20M238.10,147.30V149.90" stroke="#111" stroke-width="0.95" fill="none"/>
<text x="185.50" y="149.60" font-size="6.5" text-anchor="end" fill="#333" class="e">0</text>
<text x="185.50" y="140.66" font-size="6.5" text-anchor="end" fill="#333" class="e">20</text>
<text x="185.50" y="131.72" font-size="6.5" text-anchor="end" fill="#333" class="e">40</text>
<text x="185.50" y="122.78" font-size="6.5" text-anchor="end" fill="#333" class="e">60</text>
<text x="185.50" y="113.84" font-size="6.5" text-anchor="end" fill="#333" class="e">80</text>
<text x="185.50" y="104.90" font-size="6.5" text-anchor="end" fill="#333" class="e">100</text>
<text x="186.70" y="159.30" font-size="6.3" fill="#333" class="e">10<tspan font-size="3.4" dy="-3.2">-1</tspan></text>
<text x="198.50" y="159.30" font-size="6.3" fill="#333" class="e">10<tspan font-size="3.4" dy="-3.2">0</tspan></text>
<text x="210.30" y="159.30" font-size="6.3" fill="#333" class="e">10<tspan font-size="3.4" dy="-3.2">1</tspan></text>
<text x="222.10" y="159.30" font-size="6.3" fill="#333" class="e">10<tspan font-size="3.4" dy="-3.2">2</tspan></text>
<text x="233.90" y="159.30" font-size="6.3" fill="#333" class="e">10<tspan font-size="3.4" dy="-3.2">3</tspan></text>
<text x="235.10" y="144.30" font-size="6.8" text-anchor="end" fill="#222">B3</text>
<path d="M261.0,134.0 L261.3,132.9 L261.6,131.8 L261.9,130.6 L262.2,129.4 L262.5,128.1 L262.8,126.8 L263.1,125.5 L263.4,124.1 L263.7,122.7 L263.9,121.3 L264.2,119.8 L264.5,118.4 L264.8,117.0 L265.1,115.6 L265.4,114.2 L265.7,112.9 L266.0,111.6 L266.3,110.3 L266.6,109.2 L266.9,108.1 L267.2,107.1 L267.5,106.2 L267.8,105.5 L268.1,104.9 L268.4,104.6 L268.7,104.4 L269.0,105.2 L269.3,107.1 L269.6,109.7 L269.9,112.9 L270.1,116.3 L270.4,119.8 L270.7,123.4 L271.0,126.8 L271.3,130.0 L271.6,132.9 L271.9,135.5 L272.2,137.7 L272.5,139.7 L272.8,141.3 L273.1,142.6 L273.4,143.7 L273.7,144.6 L274.0,145.3 L274.3,145.8 L274.6,146.2 L274.9,146.5 L275.2,146.7 L275.5,146.9 L275.8,147.0 L276.0,147.1 L276.3,147.2 L276.6,147.2 L308.2,147.3" fill="none" stroke="#a82e58" stroke-width="0.9" stroke-linejoin="round"/>
<path d="M261.0,145.4 L261.3,145.1 L261.6,144.8 L261.9,144.5 L262.2,144.1 L262.5,143.7 L262.8,143.3 L263.1,142.8 L263.4,142.3 L263.7,141.7 L263.9,141.1 L264.2,140.5 L264.5,139.8 L264.8,139.1 L265.1,138.4 L265.4,137.6 L265.7,136.8 L266.0,136.1 L266.3,135.3 L266.6,134.5 L266.9,133.7 L267.2,132.9 L267.5,132.1 L267.8,131.4 L268.1,130.8 L268.4,130.2 L268.7,129.6 L269.0,129.2 L269.3,128.9 L269.6,128.7 L269.9,128.7 L270.1,128.7 L270.4,128.8 L270.7,128.9 L271.0,129.0 L271.3,129.2 L271.6,129.3 L271.9,129.5 L272.2,129.6 L272.5,129.7 L272.8,129.8 L273.1,129.9 L273.4,129.9 L273.7,129.9 L274.0,129.9 L274.3,129.8 L274.6,129.7 L274.9,129.5 L275.2,129.4 L275.5,129.2 L275.8,129.0 L276.0,128.8 L276.3,128.6 L276.6,128.5 L276.9,128.4 L277.2,128.2 L277.5,128.0 L277.8,127.8 L278.1,127.5 L278.4,127.1 L278.7,126.7 L279.0,126.1 L279.3,125.4 L279.6,124.7 L279.9,123.8 L280.2,122.9 L280.5,121.8 L280.8,120.7 L281.1,119.5 L281.4,118.3 L281.6,117.0 L281.9,115.7 L282.2,114.4 L282.5,113.1 L282.8,111.9 L283.1,110.8 L283.4,109.9 L283.7,109.1 L284.0,108.5 L284.3,108.3 L284.6,108.4 L284.9,109.4 L285.2,110.9 L285.5,112.8 L285.8,115.0 L286.1,117.4 L286.4,120.0 L286.7,122.5 L287.0,125.1 L287.3,127.6 L287.6,130.0 L287.8,132.2 L288.1,134.3 L288.4,136.2 L288.7,137.9 L289.0,139.4 L289.3,140.7 L289.6,141.9 L289.9,142.9 L290.2,143.7 L290.5,144.4 L290.8,145.0 L291.1,145.5 L291.4,145.9 L291.7,146.2 L292.0,146.4 L292.3,146.6 L292.6,146.8 L292.9,146.9 L293.2,147.0 L293.4,147.1 L293.7,147.1 L294.0,147.2 L294.3,147.2 L308.2,147.3" fill="none" stroke="#6b3f8c" stroke-width="0.9" stroke-linejoin="round"/>
<rect x="261.00" y="100.30" width="47.20" height="47.00" fill="none" stroke="#111" stroke-width="1.3"/>
<path d="M258.10,147.30H261.00M259.40,145.51H261.00M259.40,143.72H261.00M259.40,141.94H261.00M259.40,140.15H261.00M258.10,138.36H261.00M259.40,136.57H261.00M259.40,134.78H261.00M259.40,133.00H261.00M259.40,131.21H261.00M258.10,129.42H261.00M259.40,127.63H261.00M259.40,125.84H261.00M259.40,124.06H261.00M259.40,122.27H261.00M258.10,120.48H261.00M259.40,118.69H261.00M259.40,116.90H261.00M259.40,115.12H261.00M259.40,113.33H261.00M258.10,111.54H261.00M259.40,109.75H261.00M259.40,107.96H261.00M259.40,106.18H261.00M259.40,104.39H261.00M258.10,102.60H261.00M261.00,147.30V150.20M264.55,147.30V149.20M266.63,147.30V149.20M268.10,147.30V149.20M269.25,147.30V149.20M270.18,147.30V149.20M270.97,147.30V149.20M271.66,147.30V149.20M272.26,147.30V149.20M272.80,147.30V150.20M276.35,147.30V149.20M278.43,147.30V149.20M279.90,147.30V149.20M281.05,147.30V149.20M281.98,147.30V149.20M282.77,147.30V149.20M283.46,147.30V149.20M284.06,147.30V149.20M284.60,147.30V150.20M288.15,147.30V149.20M290.23,147.30V149.20M291.70,147.30V149.20M292.85,147.30V149.20M293.78,147.30V149.20M294.57,147.30V149.20M295.26,147.30V149.20M295.86,147.30V149.20M296.40,147.30V150.20M299.95,147.30V149.20M302.03,147.30V149.20M303.50,147.30V149.20M304.65,147.30V149.20M305.58,147.30V149.20M306.37,147.30V149.20M307.06,147.30V149.20M307.66,147.30V149.20M308.20,147.30V149.90" stroke="#111" stroke-width="0.95" fill="none"/>
<text x="255.60" y="149.60" font-size="6.5" text-anchor="end" fill="#333" class="e">0</text>
<text x="255.60" y="140.66" font-size="6.5" text-anchor="end" fill="#333" class="e">20</text>
<text x="255.60" y="131.72" font-size="6.5" text-anchor="end" fill="#333" class="e">40</text>
<text x="255.60" y="122.78" font-size="6.5" text-anchor="end" fill="#333" class="e">60</text>
<text x="255.60" y="113.84" font-size="6.5" text-anchor="end" fill="#333" class="e">80</text>
<text x="255.60" y="104.90" font-size="6.5" text-anchor="end" fill="#333" class="e">100</text>
<text x="256.80" y="159.30" font-size="6.3" fill="#333" class="e">10<tspan font-size="3.4" dy="-3.2">-1</tspan></text>
<text x="268.60" y="159.30" font-size="6.3" fill="#333" class="e">10<tspan font-size="3.4" dy="-3.2">0</tspan></text>
<text x="280.40" y="159.30" font-size="6.3" fill="#333" class="e">10<tspan font-size="3.4" dy="-3.2">1</tspan></text>
<text x="292.20" y="159.30" font-size="6.3" fill="#333" class="e">10<tspan font-size="3.4" dy="-3.2">2</tspan></text>
<text x="304.00" y="159.30" font-size="6.3" fill="#333" class="e">10<tspan font-size="3.4" dy="-3.2">3</tspan></text>
<text x="305.20" y="144.30" font-size="6.8" text-anchor="end" fill="#222">B4</text>
<path d="M330.1,135.6 L330.4,134.6 L330.7,133.5 L331.0,132.5 L331.3,131.3 L331.6,130.1 L331.9,128.9 L332.2,127.6 L332.5,126.3 L332.8,124.9 L333.1,123.5 L333.3,122.1 L333.6,120.7 L333.9,119.3 L334.2,117.8 L334.5,116.4 L334.8,115.0 L335.1,113.7 L335.4,112.3 L335.7,111.0 L336.0,109.8 L336.3,108.7 L336.6,107.7 L336.9,106.7 L337.2,105.9 L337.5,105.3 L337.8,104.8 L338.1,104.5 L338.4,104.6 L338.7,105.9 L339.0,108.1 L339.2,110.9 L339.5,114.2 L339.8,117.7 L340.1,121.3 L340.4,124.8 L340.7,128.1 L341.0,131.2 L341.3,134.0 L341.6,136.4 L341.9,138.6 L342.2,140.4 L342.5,141.9 L342.8,143.1 L343.1,144.1 L343.4,144.9 L343.7,145.5 L344.0,146.0 L344.3,146.3 L344.6,146.6 L344.9,146.8 L345.1,147.0 L345.4,147.1 L345.7,147.1 L346.0,147.2 L346.3,147.2 L377.3,147.3" fill="none" stroke="#a82e58" stroke-width="0.9" stroke-linejoin="round"/>
<path d="M330.1,137.4 L330.4,136.4 L330.7,135.5 L331.0,134.4 L331.3,133.3 L331.6,132.2 L331.9,131.0 L332.2,129.7 L332.5,128.5 L332.8,127.1 L333.1,125.8 L333.3,124.4 L333.6,122.9 L333.9,121.5 L334.2,120.1 L334.5,118.6 L334.8,117.2 L335.1,115.8 L335.4,114.4 L335.7,113.1 L336.0,111.9 L336.3,110.7 L336.6,109.6 L336.9,108.6 L337.2,107.8 L337.5,107.1 L337.8,106.6 L338.1,106.2 L338.4,106.3 L338.7,107.4 L339.0,109.4 L339.2,111.9 L339.5,114.7 L339.8,117.9 L340.1,121.1 L340.4,124.3 L340.7,127.4 L341.0,130.3 L341.3,132.9 L341.6,135.3 L341.9,137.5 L342.2,139.3 L342.5,140.9 L342.8,142.2 L343.1,143.3 L343.4,144.2 L343.7,144.9 L344.0,145.5 L344.3,146.0 L344.6,146.3 L344.9,146.6 L345.1,146.8 L345.4,146.9 L345.7,147.0 L346.0,147.1 L346.3,147.2 L346.6,147.2 L377.3,147.3" fill="none" stroke="#f2a43a" stroke-width="1.15" stroke-linejoin="round"/>
<rect x="330.10" y="100.30" width="47.20" height="47.00" fill="none" stroke="#111" stroke-width="1.3"/>
<path d="M327.20,147.30H330.10M328.50,145.51H330.10M328.50,143.72H330.10M328.50,141.94H330.10M328.50,140.15H330.10M327.20,138.36H330.10M328.50,136.57H330.10M328.50,134.78H330.10M328.50,133.00H330.10M328.50,131.21H330.10M327.20,129.42H330.10M328.50,127.63H330.10M328.50,125.84H330.10M328.50,124.06H330.10M328.50,122.27H330.10M327.20,120.48H330.10M328.50,118.69H330.10M328.50,116.90H330.10M328.50,115.12H330.10M328.50,113.33H330.10M327.20,111.54H330.10M328.50,109.75H330.10M328.50,107.96H330.10M328.50,106.18H330.10M328.50,104.39H330.10M327.20,102.60H330.10M330.10,147.30V150.20M333.65,147.30V149.20M335.73,147.30V149.20M337.20,147.30V149.20M338.35,147.30V149.20M339.28,147.30V149.20M340.07,147.30V149.20M340.76,147.30V149.20M341.36,147.30V149.20M341.90,147.30V150.20M345.45,147.30V149.20M347.53,147.30V149.20M349.00,147.30V149.20M350.15,147.30V149.20M351.08,147.30V149.20M351.87,147.30V149.20M352.56,147.30V149.20M353.16,147.30V149.20M353.70,147.30V150.20M357.25,147.30V149.20M359.33,147.30V149.20M360.80,147.30V149.20M361.95,147.30V149.20M362.88,147.30V149.20M363.67,147.30V149.20M364.36,147.30V149.20M364.96,147.30V149.20M365.50,147.30V150.20M369.05,147.30V149.20M371.13,147.30V149.20M372.60,147.30V149.20M373.75,147.30V149.20M374.68,147.30V149.20M375.47,147.30V149.20M376.16,147.30V149.20M376.76,147.30V149.20M377.30,147.30V149.90" stroke="#111" stroke-width="0.95" fill="none"/>
<text x="324.70" y="149.60" font-size="6.5" text-anchor="end" fill="#333" class="e">0</text>
<text x="324.70" y="140.66" font-size="6.5" text-anchor="end" fill="#333" class="e">20</text>
<text x="324.70" y="131.72" font-size="6.5" text-anchor="end" fill="#333" class="e">40</text>
<text x="324.70" y="122.78" font-size="6.5" text-anchor="end" fill="#333" class="e">60</text>
<text x="324.70" y="113.84" font-size="6.5" text-anchor="end" fill="#333" class="e">80</text>
<text x="324.70" y="104.90" font-size="6.5" text-anchor="end" fill="#333" class="e">100</text>
<text x="325.90" y="159.30" font-size="6.3" fill="#333" class="e">10<tspan font-size="3.4" dy="-3.2">-1</tspan></text>
<text x="337.70" y="159.30" font-size="6.3" fill="#333" class="e">10<tspan font-size="3.4" dy="-3.2">0</tspan></text>
<text x="349.50" y="159.30" font-size="6.3" fill="#333" class="e">10<tspan font-size="3.4" dy="-3.2">1</tspan></text>
<text x="361.30" y="159.30" font-size="6.3" fill="#333" class="e">10<tspan font-size="3.4" dy="-3.2">2</tspan></text>
<text x="373.10" y="159.30" font-size="6.3" fill="#333" class="e">10<tspan font-size="3.4" dy="-3.2">3</tspan></text>
<text x="374.30" y="144.30" font-size="6.8" text-anchor="end" fill="#222">B5</text>
<path d="M399.0,135.6 L399.3,134.6 L399.6,133.5 L399.9,132.3 L400.2,131.1 L400.5,129.8 L400.8,128.5 L401.1,127.1 L401.4,125.7 L401.7,124.3 L401.9,122.8 L402.2,121.3 L402.5,119.8 L402.8,118.3 L403.1,116.7 L403.4,115.3 L403.7,113.8 L404.0,112.4 L404.3,111.0 L404.6,109.7 L404.9,108.5 L405.2,107.3 L405.5,106.3 L405.8,105.5 L406.1,104.8 L406.4,104.3 L406.7,104.0 L407.0,104.3 L407.3,105.8 L407.6,108.2 L407.9,111.2 L408.1,114.5 L408.4,118.1 L408.7,121.7 L409.0,125.2 L409.3,128.6 L409.6,131.6 L409.9,134.4 L410.2,136.8 L410.5,138.9 L410.8,140.6 L411.1,142.1 L411.4,143.3 L411.7,144.2 L412.0,145.0 L412.3,145.6 L412.6,146.0 L412.9,146.4 L413.2,146.7 L413.5,146.8 L413.8,147.0 L414.0,147.1 L414.3,147.1 L414.6,147.2 L414.9,147.2 L446.2,147.3" fill="none" stroke="#a82e58" stroke-width="0.9" stroke-linejoin="round"/>
<path d="M399.0,135.8 L399.3,134.7 L399.6,133.6 L399.9,132.5 L400.2,131.3 L400.5,130.0 L400.8,128.7 L401.1,127.4 L401.4,126.0 L401.7,124.5 L401.9,123.1 L402.2,121.6 L402.5,120.1 L402.8,118.6 L403.1,117.1 L403.4,115.6 L403.7,114.1 L404.0,112.7 L404.3,111.4 L404.6,110.1 L404.9,108.9 L405.2,107.8 L405.5,106.8 L405.8,105.9 L406.1,105.2 L406.4,104.7 L406.7,104.4 L407.0,104.7 L407.3,106.2 L407.6,108.6 L407.9,111.6 L408.1,114.9 L408.4,118.4 L408.7,122.0 L409.0,125.5 L409.3,128.7 L409.6,131.8 L409.9,134.5 L410.2,136.9 L410.5,138.9 L410.8,140.7 L411.1,142.1 L411.4,143.3 L411.7,144.3 L412.0,145.0 L412.3,145.6 L412.6,146.1 L412.9,146.4 L413.2,146.7 L413.5,146.8 L413.8,147.0 L414.0,147.1 L414.3,147.2 L414.6,147.2 L414.9,147.2 L446.2,147.3" fill="none" stroke="#5ab0dc" stroke-width="1.15" stroke-linejoin="round"/>
<rect x="399.00" y="100.30" width="47.20" height="47.00" fill="none" stroke="#111" stroke-width="1.3"/>
<path d="M396.10,147.30H399.00M397.40,145.51H399.00M397.40,143.72H399.00M397.40,141.94H399.00M397.40,140.15H399.00M396.10,138.36H399.00M397.40,136.57H399.00M397.40,134.78H399.00M397.40,133.00H399.00M397.40,131.21H399.00M396.10,129.42H399.00M397.40,127.63H399.00M397.40,125.84H399.00M397.40,124.06H399.00M397.40,122.27H399.00M396.10,120.48H399.00M397.40,118.69H399.00M397.40,116.90H399.00M397.40,115.12H399.00M397.40,113.33H399.00M396.10,111.54H399.00M397.40,109.75H399.00M397.40,107.96H399.00M397.40,106.18H399.00M397.40,104.39H399.00M396.10,102.60H399.00M399.00,147.30V150.20M402.55,147.30V149.20M404.63,147.30V149.20M406.10,147.30V149.20M407.25,147.30V149.20M408.18,147.30V149.20M408.97,147.30V149.20M409.66,147.30V149.20M410.26,147.30V149.20M410.80,147.30V150.20M414.35,147.30V149.20M416.43,147.30V149.20M417.90,147.30V149.20M419.05,147.30V149.20M419.98,147.30V149.20M420.77,147.30V149.20M421.46,147.30V149.20M422.06,147.30V149.20M422.60,147.30V150.20M426.15,147.30V149.20M428.23,147.30V149.20M429.70,147.30V149.20M430.85,147.30V149.20M431.78,147.30V149.20M432.57,147.30V149.20M433.26,147.30V149.20M433.86,147.30V149.20M434.40,147.30V150.20M437.95,147.30V149.20M440.03,147.30V149.20M441.50,147.30V149.20M442.65,147.30V149.20M443.58,147.30V149.20M444.37,147.30V149.20M445.06,147.30V149.20M445.66,147.30V149.20M446.20,147.30V149.90" stroke="#111" stroke-width="0.95" fill="none"/>
<text x="393.60" y="149.60" font-size="6.5" text-anchor="end" fill="#333" class="e">0</text>
<text x="393.60" y="140.66" font-size="6.5" text-anchor="end" fill="#333" class="e">20</text>
<text x="393.60" y="131.72" font-size="6.5" text-anchor="end" fill="#333" class="e">40</text>
<text x="393.60" y="122.78" font-size="6.5" text-anchor="end" fill="#333" class="e">60</text>
<text x="393.60" y="113.84" font-size="6.5" text-anchor="end" fill="#333" class="e">80</text>
<text x="393.60" y="104.90" font-size="6.5" text-anchor="end" fill="#333" class="e">100</text>
<text x="394.80" y="159.30" font-size="6.3" fill="#333" class="e">10<tspan font-size="3.4" dy="-3.2">-1</tspan></text>
<text x="406.60" y="159.30" font-size="6.3" fill="#333" class="e">10<tspan font-size="3.4" dy="-3.2">0</tspan></text>
<text x="418.40" y="159.30" font-size="6.3" fill="#333" class="e">10<tspan font-size="3.4" dy="-3.2">1</tspan></text>
<text x="430.20" y="159.30" font-size="6.3" fill="#333" class="e">10<tspan font-size="3.4" dy="-3.2">2</tspan></text>
<text x="442.00" y="159.30" font-size="6.3" fill="#333" class="e">10<tspan font-size="3.4" dy="-3.2">3</tspan></text>
<text x="443.20" y="144.30" font-size="6.8" text-anchor="end" fill="#222">B6</text>
<path d="M468.1,136.4 L468.4,135.6 L468.7,134.7 L469.0,133.8 L469.3,132.8 L469.6,131.9 L469.9,130.8 L470.2,129.8 L470.5,128.7 L470.8,127.6 L471.1,126.4 L471.3,125.2 L471.6,124.0 L471.9,122.8 L472.2,121.6 L472.5,120.4 L472.8,119.1 L473.1,117.9 L473.4,116.7 L473.7,115.5 L474.0,114.3 L474.3,113.2 L474.6,112.1 L474.9,111.1 L475.2,110.1 L475.5,109.2 L475.8,108.3 L476.1,107.6 L476.4,107.0 L476.7,106.4 L477.0,106.0 L477.2,105.8 L477.5,105.8 L477.8,106.3 L478.1,107.3 L478.4,108.6 L478.7,110.1 L479.0,111.8 L479.3,113.7 L479.6,115.7 L479.9,117.8 L480.2,120.0 L480.5,122.1 L480.8,124.2 L481.1,126.2 L481.4,128.2 L481.7,130.1 L482.0,131.9 L482.3,133.6 L482.6,135.2 L482.9,136.6 L483.1,137.9 L483.4,139.1 L483.7,140.2 L484.0,141.2 L484.3,142.0 L484.6,142.8 L484.9,143.5 L485.2,144.1 L485.5,144.6 L485.8,145.0 L486.1,145.4 L486.4,145.7 L486.7,146.0 L487.0,146.2 L487.3,146.4 L487.6,146.6 L487.9,146.7 L488.2,146.8 L488.5,146.9 L488.8,147.0 L489.0,147.1 L489.3,147.1 L489.6,147.1 L489.9,147.2 L490.2,147.2 L515.3,147.3" fill="none" stroke="#a82e58" stroke-width="0.9" stroke-linejoin="round"/>
<path d="M468.1,146.0 L468.4,145.9 L468.7,145.7 L469.0,145.5 L469.3,145.3 L469.6,145.1 L469.9,144.8 L470.2,144.6 L470.5,144.3 L470.8,144.0 L471.1,143.7 L471.3,143.3 L471.6,143.0 L471.9,142.6 L472.2,142.2 L472.5,141.8 L472.8,141.3 L473.1,140.9 L473.4,140.4 L473.7,140.0 L474.0,139.5 L474.3,139.0 L474.6,138.5 L474.9,138.0 L475.2,137.6 L475.5,137.1 L475.8,136.7 L476.1,136.2 L476.4,135.8 L476.7,135.5 L477.0,135.1 L477.2,134.8 L477.5,134.6 L477.8,134.4 L478.1,134.4 L478.4,134.5 L478.7,134.7 L479.0,134.9 L479.3,135.2 L479.6,135.5 L479.9,135.8 L480.2,136.2 L480.5,136.5 L480.8,136.8 L481.1,137.1 L481.4,137.3 L481.7,137.4 L482.0,137.5 L482.3,137.5 L482.6,137.5 L482.9,137.4 L483.1,137.2 L483.4,136.9 L483.7,136.5 L484.0,136.1 L484.3,135.5 L484.6,134.8 L484.9,134.0 L485.2,133.1 L485.5,132.0 L485.8,130.9 L486.1,129.6 L486.4,128.3 L486.7,126.8 L487.0,125.3 L487.3,123.6 L487.6,121.9 L487.9,120.2 L488.2,118.4 L488.5,116.6 L488.8,114.8 L489.0,113.0 L489.3,111.3 L489.6,109.7 L489.9,108.2 L490.2,106.8 L490.5,105.6 L490.8,104.7 L491.1,104.0 L491.4,103.7 L491.7,104.0 L492.0,104.7 L492.3,105.9 L492.6,107.4 L492.9,109.1 L493.2,111.0 L493.5,113.0 L493.8,115.2 L494.1,117.4 L494.4,119.6 L494.7,121.8 L494.9,124.0 L495.2,126.1 L495.5,128.2 L495.8,130.1 L496.1,131.9 L496.4,133.7 L496.7,135.2 L497.0,136.7 L497.3,138.0 L497.6,139.2 L497.9,140.3 L498.2,141.3 L498.5,142.1 L498.8,142.9 L499.1,143.6 L499.4,144.1 L499.7,144.6 L500.0,145.1 L500.3,145.5 L500.6,145.8 L500.8,146.0 L501.1,146.3 L501.4,146.5 L501.7,146.6 L502.0,146.7 L502.3,146.8 L502.6,146.9 L502.9,147.0 L503.2,147.1 L503.5,147.1 L503.8,147.2 L504.1,147.2 L504.4,147.2 L515.3,147.3" fill="none" stroke="#2c7e66" stroke-width="0.9" stroke-linejoin="round"/>
<rect x="468.10" y="100.30" width="47.20" height="47.00" fill="none" stroke="#111" stroke-width="1.3"/>
<path d="M465.20,147.30H468.10M466.50,145.51H468.10M466.50,143.72H468.10M466.50,141.94H468.10M466.50,140.15H468.10M465.20,138.36H468.10M466.50,136.57H468.10M466.50,134.78H468.10M466.50,133.00H468.10M466.50,131.21H468.10M465.20,129.42H468.10M466.50,127.63H468.10M466.50,125.84H468.10M466.50,124.06H468.10M466.50,122.27H468.10M465.20,120.48H468.10M466.50,118.69H468.10M466.50,116.90H468.10M466.50,115.12H468.10M466.50,113.33H468.10M465.20,111.54H468.10M466.50,109.75H468.10M466.50,107.96H468.10M466.50,106.18H468.10M466.50,104.39H468.10M465.20,102.60H468.10M468.10,147.30V150.20M471.65,147.30V149.20M473.73,147.30V149.20M475.20,147.30V149.20M476.35,147.30V149.20M477.28,147.30V149.20M478.07,147.30V149.20M478.76,147.30V149.20M479.36,147.30V149.20M479.90,147.30V150.20M483.45,147.30V149.20M485.53,147.30V149.20M487.00,147.30V149.20M488.15,147.30V149.20M489.08,147.30V149.20M489.87,147.30V149.20M490.56,147.30V149.20M491.16,147.30V149.20M491.70,147.30V150.20M495.25,147.30V149.20M497.33,147.30V149.20M498.80,147.30V149.20M499.95,147.30V149.20M500.88,147.30V149.20M501.67,147.30V149.20M502.36,147.30V149.20M502.96,147.30V149.20M503.50,147.30V150.20M507.05,147.30V149.20M509.13,147.30V149.20M510.60,147.30V149.20M511.75,147.30V149.20M512.68,147.30V149.20M513.47,147.30V149.20M514.16,147.30V149.20M514.76,147.30V149.20M515.30,147.30V149.90" stroke="#111" stroke-width="0.95" fill="none"/>
<text x="462.70" y="149.60" font-size="6.5" text-anchor="end" fill="#333" class="e">0</text>
<text x="462.70" y="140.66" font-size="6.5" text-anchor="end" fill="#333" class="e">20</text>
<text x="462.70" y="131.72" font-size="6.5" text-anchor="end" fill="#333" class="e">40</text>
<text x="462.70" y="122.78" font-size="6.5" text-anchor="end" fill="#333" class="e">60</text>
<text x="462.70" y="113.84" font-size="6.5" text-anchor="end" fill="#333" class="e">80</text>
<text x="462.70" y="104.90" font-size="6.5" text-anchor="end" fill="#333" class="e">100</text>
<text x="463.90" y="159.30" font-size="6.3" fill="#333" class="e">10<tspan font-size="3.4" dy="-3.2">-1</tspan></text>
<text x="475.70" y="159.30" font-size="6.3" fill="#333" class="e">10<tspan font-size="3.4" dy="-3.2">0</tspan></text>
<text x="487.50" y="159.30" font-size="6.3" fill="#333" class="e">10<tspan font-size="3.4" dy="-3.2">1</tspan></text>
<text x="499.30" y="159.30" font-size="6.3" fill="#333" class="e">10<tspan font-size="3.4" dy="-3.2">2</tspan></text>
<text x="511.10" y="159.30" font-size="6.3" fill="#333" class="e">10<tspan font-size="3.4" dy="-3.2">3</tspan></text>
<text x="512.30" y="144.30" font-size="6.8" text-anchor="end" fill="#222">B7</text>
<path d="M51.5,219.5 L51.8,218.8 L52.1,218.1 L52.4,217.2 L52.7,216.3 L53.0,215.3 L53.3,214.2 L53.6,213.0 L53.9,211.8 L54.2,210.4 L54.5,209.0 L54.7,207.5 L55.0,205.9 L55.3,204.3 L55.6,202.6 L55.9,200.8 L56.2,199.0 L56.5,197.2 L56.8,195.4 L57.1,193.6 L57.4,191.9 L57.7,190.2 L58.0,188.6 L58.3,187.1 L58.6,185.8 L58.9,184.6 L59.2,183.7 L59.5,182.9 L59.8,182.5 L60.1,182.8 L60.4,184.1 L60.6,186.2 L60.9,188.8 L61.2,191.9 L61.5,195.1 L61.8,198.4 L62.1,201.6 L62.4,204.7 L62.7,207.7 L63.0,210.3 L63.3,212.7 L63.6,214.9 L63.9,216.7 L64.2,218.2 L64.5,219.5 L64.8,220.6 L65.1,221.5 L65.4,222.2 L65.7,222.8 L66.0,223.2 L66.2,223.5 L66.5,223.8 L66.8,224.0 L67.1,224.1 L67.4,224.2 L67.7,224.3 L68.0,224.4 L68.3,224.4 L98.7,224.5" fill="none" stroke="#4a4048" stroke-width="0.9" stroke-linejoin="round"/>
<path d="M51.5,218.9 L51.8,218.2 L52.1,217.3 L52.4,216.4 L52.7,215.4 L53.0,214.3 L53.3,213.2 L53.6,211.9 L53.9,210.6 L54.2,209.1 L54.5,207.6 L54.7,206.0 L55.0,204.4 L55.3,202.7 L55.6,200.9 L55.9,199.1 L56.2,197.3 L56.5,195.5 L56.8,193.6 L57.1,191.9 L57.4,190.2 L57.7,188.5 L58.0,187.0 L58.3,185.6 L58.6,184.4 L58.9,183.4 L59.2,182.6 L59.5,182.1 L59.8,182.2 L60.1,183.4 L60.4,185.3 L60.6,187.9 L60.9,190.9 L61.2,194.1 L61.5,197.4 L61.8,200.7 L62.1,203.9 L62.4,206.9 L62.7,209.7 L63.0,212.1 L63.3,214.3 L63.6,216.3 L63.9,217.9 L64.2,219.3 L64.5,220.4 L64.8,221.3 L65.1,222.1 L65.4,222.6 L65.7,223.1 L66.0,223.5 L66.2,223.7 L66.5,224.0 L66.8,224.1 L67.1,224.2 L67.4,224.3 L67.7,224.4 L68.0,224.4 L68.3,224.4 L98.7,224.5" fill="none" stroke="#9a2c52" stroke-width="0.9" stroke-linejoin="round"/>
<rect x="51.50" y="177.50" width="47.20" height="47.00" fill="none" stroke="#111" stroke-width="1.3"/>
<path d="M48.60,224.50H51.50M49.90,222.71H51.50M49.90,220.92H51.50M49.90,219.14H51.50M49.90,217.35H51.50M48.60,215.56H51.50M49.90,213.77H51.50M49.90,211.98H51.50M49.90,210.20H51.50M49.90,208.41H51.50M48.60,206.62H51.50M49.90,204.83H51.50M49.90,203.04H51.50M49.90,201.26H51.50M49.90,199.47H51.50M48.60,197.68H51.50M49.90,195.89H51.50M49.90,194.10H51.50M49.90,192.32H51.50M49.90,190.53H51.50M48.60,188.74H51.50M49.90,186.95H51.50M49.90,185.16H51.50M49.90,183.38H51.50M49.90,181.59H51.50M48.60,179.80H51.50M51.50,224.50V227.40M55.05,224.50V226.40M57.13,224.50V226.40M58.60,224.50V226.40M59.75,224.50V226.40M60.68,224.50V226.40M61.47,224.50V226.40M62.16,224.50V226.40M62.76,224.50V226.40M63.30,224.50V227.40M66.85,224.50V226.40M68.93,224.50V226.40M70.40,224.50V226.40M71.55,224.50V226.40M72.48,224.50V226.40M73.27,224.50V226.40M73.96,224.50V226.40M74.56,224.50V226.40M75.10,224.50V227.40M78.65,224.50V226.40M80.73,224.50V226.40M82.20,224.50V226.40M83.35,224.50V226.40M84.28,224.50V226.40M85.07,224.50V226.40M85.76,224.50V226.40M86.36,224.50V226.40M86.90,224.50V227.40M90.45,224.50V226.40M92.53,224.50V226.40M94.00,224.50V226.40M95.15,224.50V226.40M96.08,224.50V226.40M96.87,224.50V226.40M97.56,224.50V226.40M98.16,224.50V226.40M98.70,224.50V227.10" stroke="#111" stroke-width="0.95" fill="none"/>
<text x="46.10" y="226.80" font-size="6.5" text-anchor="end" fill="#333" class="e">0</text>
<text x="46.10" y="217.86" font-size="6.5" text-anchor="end" fill="#333" class="e">20</text>
<text x="46.10" y="208.92" font-size="6.5" text-anchor="end" fill="#333" class="e">40</text>
<text x="46.10" y="199.98" font-size="6.5" text-anchor="end" fill="#333" class="e">60</text>
<text x="46.10" y="191.04" font-size="6.5" text-anchor="end" fill="#333" class="e">80</text>
<text x="46.10" y="182.10" font-size="6.5" text-anchor="end" fill="#333" class="e">100</text>
<text x="47.30" y="236.50" font-size="6.3" fill="#333" class="e">10<tspan font-size="3.4" dy="-3.2">-1</tspan></text>
<text x="59.10" y="236.50" font-size="6.3" fill="#333" class="e">10<tspan font-size="3.4" dy="-3.2">0</tspan></text>
<text x="70.90" y="236.50" font-size="6.3" fill="#333" class="e">10<tspan font-size="3.4" dy="-3.2">1</tspan></text>
<text x="82.70" y="236.50" font-size="6.3" fill="#333" class="e">10<tspan font-size="3.4" dy="-3.2">2</tspan></text>
<text x="94.50" y="236.50" font-size="6.3" fill="#333" class="e">10<tspan font-size="3.4" dy="-3.2">3</tspan></text>
<text x="95.70" y="221.50" font-size="6.8" text-anchor="end" fill="#222">C1</text>
<path d="M122.2,213.2 L122.5,212.2 L122.8,211.1 L123.1,209.9 L123.4,208.7 L123.7,207.5 L124.0,206.1 L124.3,204.8 L124.6,203.4 L124.9,201.9 L125.2,200.5 L125.4,199.0 L125.7,197.5 L126.0,196.0 L126.3,194.5 L126.6,193.0 L126.9,191.6 L127.2,190.2 L127.5,188.9 L127.8,187.7 L128.1,186.6 L128.4,185.5 L128.7,184.6 L129.0,183.9 L129.3,183.4 L129.6,183.0 L129.9,183.1 L130.2,184.2 L130.5,186.2 L130.8,188.7 L131.1,191.6 L131.3,194.7 L131.6,198.0 L131.9,201.2 L132.2,204.3 L132.5,207.3 L132.8,210.0 L133.1,212.4 L133.4,214.6 L133.7,216.4 L134.0,218.0 L134.3,219.4 L134.6,220.5 L134.9,221.4 L135.2,222.1 L135.5,222.7 L135.8,223.1 L136.1,223.5 L136.4,223.8 L136.7,224.0 L136.9,224.1 L137.2,224.2 L137.5,224.3 L137.8,224.4 L138.1,224.4 L138.4,224.4 L169.4,224.5" fill="none" stroke="#a82e58" stroke-width="0.9" stroke-linejoin="round"/>
<path d="M122.2,221.2 L122.5,220.9 L122.8,220.5 L123.1,220.2 L123.4,219.8 L123.7,219.4 L124.0,218.9 L124.3,218.5 L124.6,218.0 L124.9,217.5 L125.2,217.0 L125.4,216.5 L125.7,215.9 L126.0,215.3 L126.3,214.8 L126.6,214.2 L126.9,213.5 L127.2,212.9 L127.5,212.3 L127.8,211.6 L128.1,211.0 L128.4,210.3 L128.7,209.7 L129.0,209.0 L129.3,208.4 L129.6,207.7 L129.9,207.1 L130.2,206.4 L130.5,205.8 L130.8,205.1 L131.1,204.5 L131.3,203.8 L131.6,203.2 L131.9,202.8 L132.2,202.4 L132.5,202.1 L132.8,201.8 L133.1,201.6 L133.4,201.2 L133.7,200.8 L134.0,200.4 L134.3,199.8 L134.6,199.1 L134.9,198.3 L135.2,197.3 L135.5,196.2 L135.8,195.0 L136.1,193.8 L136.4,192.4 L136.7,191.0 L136.9,189.6 L137.2,188.2 L137.5,186.9 L137.8,185.8 L138.1,184.8 L138.4,184.0 L138.7,183.6 L139.0,183.7 L139.3,184.9 L139.6,187.0 L139.9,189.6 L140.2,192.6 L140.5,195.8 L140.8,199.1 L141.1,202.4 L141.4,205.5 L141.7,208.5 L142.0,211.1 L142.3,213.5 L142.6,215.6 L142.8,217.3 L143.1,218.8 L143.4,220.1 L143.7,221.1 L144.0,221.9 L144.3,222.5 L144.6,223.0 L144.9,223.4 L145.2,223.7 L145.5,223.9 L145.8,224.1 L146.1,224.2 L146.4,224.3 L146.7,224.4 L147.0,224.4 L147.3,224.4 L169.4,224.5" fill="none" stroke="#62b868" stroke-width="0.9" stroke-linejoin="round"/>
<rect x="122.20" y="177.50" width="47.20" height="47.00" fill="none" stroke="#111" stroke-width="1.3"/>
<path d="M119.30,224.50H122.20M120.60,222.71H122.20M120.60,220.92H122.20M120.60,219.14H122.20M120.60,217.35H122.20M119.30,215.56H122.20M120.60,213.77H122.20M120.60,211.98H122.20M120.60,210.20H122.20M120.60,208.41H122.20M119.30,206.62H122.20M120.60,204.83H122.20M120.60,203.04H122.20M120.60,201.26H122.20M120.60,199.47H122.20M119.30,197.68H122.20M120.60,195.89H122.20M120.60,194.10H122.20M120.60,192.32H122.20M120.60,190.53H122.20M119.30,188.74H122.20M120.60,186.95H122.20M120.60,185.16H122.20M120.60,183.38H122.20M120.60,181.59H122.20M119.30,179.80H122.20M122.20,224.50V227.40M125.75,224.50V226.40M127.83,224.50V226.40M129.30,224.50V226.40M130.45,224.50V226.40M131.38,224.50V226.40M132.17,224.50V226.40M132.86,224.50V226.40M133.46,224.50V226.40M134.00,224.50V227.40M137.55,224.50V226.40M139.63,224.50V226.40M141.10,224.50V226.40M142.25,224.50V226.40M143.18,224.50V226.40M143.97,224.50V226.40M144.66,224.50V226.40M145.26,224.50V226.40M145.80,224.50V227.40M149.35,224.50V226.40M151.43,224.50V226.40M152.90,224.50V226.40M154.05,224.50V226.40M154.98,224.50V226.40M155.77,224.50V226.40M156.46,224.50V226.40M157.06,224.50V226.40M157.60,224.50V227.40M161.15,224.50V226.40M163.23,224.50V226.40M164.70,224.50V226.40M165.85,224.50V226.40M166.78,224.50V226.40M167.57,224.50V226.40M168.26,224.50V226.40M168.86,224.50V226.40M169.40,224.50V227.10" stroke="#111" stroke-width="0.95" fill="none"/>
<text x="116.80" y="226.80" font-size="6.5" text-anchor="end" fill="#333" class="e">0</text>
<text x="116.80" y="217.86" font-size="6.5" text-anchor="end" fill="#333" class="e">20</text>
<text x="116.80" y="208.92" font-size="6.5" text-anchor="end" fill="#333" class="e">40</text>
<text x="116.80" y="199.98" font-size="6.5" text-anchor="end" fill="#333" class="e">60</text>
<text x="116.80" y="191.04" font-size="6.5" text-anchor="end" fill="#333" class="e">80</text>
<text x="116.80" y="182.10" font-size="6.5" text-anchor="end" fill="#333" class="e">100</text>
<text x="118.00" y="236.50" font-size="6.3" fill="#333" class="e">10<tspan font-size="3.4" dy="-3.2">-1</tspan></text>
<text x="129.80" y="236.50" font-size="6.3" fill="#333" class="e">10<tspan font-size="3.4" dy="-3.2">0</tspan></text>
<text x="141.60" y="236.50" font-size="6.3" fill="#333" class="e">10<tspan font-size="3.4" dy="-3.2">1</tspan></text>
<text x="153.40" y="236.50" font-size="6.3" fill="#333" class="e">10<tspan font-size="3.4" dy="-3.2">2</tspan></text>
<text x="165.20" y="236.50" font-size="6.3" fill="#333" class="e">10<tspan font-size="3.4" dy="-3.2">3</tspan></text>
<text x="166.40" y="221.50" font-size="6.8" text-anchor="end" fill="#222">C2</text>
<path d="M190.9,218.1 L191.2,217.3 L191.5,216.4 L191.8,215.5 L192.1,214.5 L192.4,213.4 L192.7,212.3 L193.0,211.0 L193.3,209.7 L193.6,208.4 L193.8,206.9 L194.1,205.4 L194.4,203.9 L194.7,202.3 L195.0,200.6 L195.3,199.0 L195.6,197.3 L195.9,195.6 L196.2,193.9 L196.5,192.3 L196.8,190.7 L197.1,189.2 L197.4,187.8 L197.7,186.6 L198.0,185.4 L198.3,184.5 L198.6,183.7 L198.9,183.2 L199.2,182.9 L199.5,184.1 L199.8,186.7 L200.0,190.2 L200.3,194.2 L200.6,198.4 L200.9,202.6 L201.2,206.6 L201.5,210.1 L201.8,213.2 L202.1,215.9 L202.4,218.0 L202.7,219.7 L203.0,221.0 L203.3,222.0 L203.6,222.8 L203.9,223.3 L204.2,223.7 L204.5,224.0 L204.8,224.2 L205.1,224.3 L205.4,224.4 L205.7,224.4 L238.1,224.5" fill="none" stroke="#a82e58" stroke-width="0.9" stroke-linejoin="round"/>
<path d="M190.9,221.8 L191.2,221.4 L191.5,220.9 L191.8,220.4 L192.1,219.8 L192.4,219.1 L192.7,218.4 L193.0,217.6 L193.3,216.7 L193.6,215.7 L193.8,214.7 L194.1,213.5 L194.4,212.3 L194.7,211.0 L195.0,209.6 L195.3,208.1 L195.6,206.6 L195.9,205.0 L196.2,203.3 L196.5,201.6 L196.8,199.9 L197.1,198.2 L197.4,196.4 L197.7,194.7 L198.0,193.1 L198.3,191.4 L198.6,189.9 L198.9,188.5 L199.2,187.2 L199.5,186.1 L199.8,185.2 L200.0,184.5 L200.3,184.3 L200.6,184.5 L200.9,185.0 L201.2,185.7 L201.5,186.6 L201.8,187.5 L202.1,188.4 L202.4,189.3 L202.7,190.1 L203.0,190.8 L203.3,191.4 L203.6,191.8 L203.9,192.0 L204.2,192.0 L204.5,191.8 L204.8,191.4 L205.1,190.8 L205.4,190.0 L205.7,189.1 L205.9,188.1 L206.2,187.0 L206.5,185.9 L206.8,184.9 L207.1,183.9 L207.4,183.1 L207.7,182.5 L208.0,182.2 L208.3,182.4 L208.6,183.6 L208.9,185.5 L209.2,188.0 L209.5,190.8 L209.8,193.8 L210.1,197.0 L210.4,200.1 L210.7,203.2 L211.0,206.1 L211.3,208.8 L211.6,211.3 L211.8,213.5 L212.1,215.4 L212.4,217.1 L212.7,218.6 L213.0,219.8 L213.3,220.8 L213.6,221.6 L213.9,222.3 L214.2,222.8 L214.5,223.2 L214.8,223.5 L215.1,223.8 L215.4,224.0 L215.7,224.1 L216.0,224.2 L216.3,224.3 L216.6,224.4 L216.9,224.4 L217.2,224.4 L238.1,224.5" fill="none" stroke="#d8348c" stroke-width="0.9" stroke-linejoin="round"/>
<rect x="190.90" y="177.50" width="47.20" height="47.00" fill="none" stroke="#111" stroke-width="1.3"/>
<path d="M188.00,224.50H190.90M189.30,222.71H190.90M189.30,220.92H190.90M189.30,219.14H190.90M189.30,217.35H190.90M188.00,215.56H190.90M189.30,213.77H190.90M189.30,211.98H190.90M189.30,210.20H190.90M189.30,208.41H190.90M188.00,206.62H190.90M189.30,204.83H190.90M189.30,203.04H190.90M189.30,201.26H190.90M189.30,199.47H190.90M188.00,197.68H190.90M189.30,195.89H190.90M189.30,194.10H190.90M189.30,192.32H190.90M189.30,190.53H190.90M188.00,188.74H190.90M189.30,186.95H190.90M189.30,185.16H190.90M189.30,183.38H190.90M189.30,181.59H190.90M188.00,179.80H190.90M190.90,224.50V227.40M194.45,224.50V226.40M196.53,224.50V226.40M198.00,224.50V226.40M199.15,224.50V226.40M200.08,224.50V226.40M200.87,224.50V226.40M201.56,224.50V226.40M202.16,224.50V226.40M202.70,224.50V227.40M206.25,224.50V226.40M208.33,224.50V226.40M209.80,224.50V226.40M210.95,224.50V226.40M211.88,224.50V226.40M212.67,224.50V226.40M213.36,224.50V226.40M213.96,224.50V226.40M214.50,224.50V227.40M218.05,224.50V226.40M220.13,224.50V226.40M221.60,224.50V226.40M222.75,224.50V226.40M223.68,224.50V226.40M224.47,224.50V226.40M225.16,224.50V226.40M225.76,224.50V226.40M226.30,224.50V227.40M229.85,224.50V226.40M231.93,224.50V226.40M233.40,224.50V226.40M234.55,224.50V226.40M235.48,224.50V226.40M236.27,224.50V226.40M236.96,224.50V226.40M237.56,224.50V226.40M238.10,224.50V227.10" stroke="#111" stroke-width="0.95" fill="none"/>
<text x="185.50" y="226.80" font-size="6.5" text-anchor="end" fill="#333" class="e">0</text>
<text x="185.50" y="217.86" font-size="6.5" text-anchor="end" fill="#333" class="e">20</text>
<text x="185.50" y="208.92" font-size="6.5" text-anchor="end" fill="#333" class="e">40</text>
<text x="185.50" y="199.98" font-size="6.5" text-anchor="end" fill="#333" class="e">60</text>
<text x="185.50" y="191.04" font-size="6.5" text-anchor="end" fill="#333" class="e">80</text>
<text x="185.50" y="182.10" font-size="6.5" text-anchor="end" fill="#333" class="e">100</text>
<text x="186.70" y="236.50" font-size="6.3" fill="#333" class="e">10<tspan font-size="3.4" dy="-3.2">-1</tspan></text>
<text x="198.50" y="236.50" font-size="6.3" fill="#333" class="e">10<tspan font-size="3.4" dy="-3.2">0</tspan></text>
<text x="210.30" y="236.50" font-size="6.3" fill="#333" class="e">10<tspan font-size="3.4" dy="-3.2">1</tspan></text>
<text x="222.10" y="236.50" font-size="6.3" fill="#333" class="e">10<tspan font-size="3.4" dy="-3.2">2</tspan></text>
<text x="233.90" y="236.50" font-size="6.3" fill="#333" class="e">10<tspan font-size="3.4" dy="-3.2">3</tspan></text>
<text x="235.10" y="221.50" font-size="6.8" text-anchor="end" fill="#222">C3</text>
<path d="M261.0,214.5 L261.3,213.5 L261.6,212.5 L261.9,211.5 L262.2,210.4 L262.5,209.2 L262.8,208.0 L263.1,206.8 L263.4,205.4 L263.7,204.1 L263.9,202.7 L264.2,201.3 L264.5,199.9 L264.8,198.4 L265.1,197.0 L265.4,195.5 L265.7,194.1 L266.0,192.6 L266.3,191.3 L266.6,189.9 L266.9,188.7 L267.2,187.5 L267.5,186.4 L267.8,185.4 L268.1,184.6 L268.4,183.9 L268.7,183.3 L269.0,183.0 L269.3,183.1 L269.6,184.4 L269.9,186.5 L270.1,189.3 L270.4,192.4 L270.7,195.8 L271.0,199.3 L271.3,202.7 L271.6,205.9 L271.9,208.9 L272.2,211.6 L272.5,214.0 L272.8,216.0 L273.1,217.8 L273.4,219.2 L273.7,220.4 L274.0,221.4 L274.3,222.2 L274.6,222.8 L274.9,223.2 L275.2,223.6 L275.5,223.8 L275.8,224.0 L276.0,224.2 L276.3,224.3 L276.6,224.3 L276.9,224.4 L277.2,224.4 L308.2,224.5" fill="none" stroke="#a82e58" stroke-width="0.9" stroke-linejoin="round"/>
<path d="M261.0,221.2 L261.3,220.8 L261.6,220.3 L261.9,219.8 L262.2,219.3 L262.5,218.7 L262.8,218.1 L263.1,217.4 L263.4,216.7 L263.7,215.9 L263.9,215.1 L264.2,214.2 L264.5,213.3 L264.8,212.3 L265.1,211.3 L265.4,210.3 L265.7,209.2 L266.0,208.1 L266.3,206.9 L266.6,205.8 L266.9,204.6 L267.2,203.4 L267.5,202.3 L267.8,201.1 L268.1,200.0 L268.4,198.9 L268.7,197.8 L269.0,196.8 L269.3,195.9 L269.6,195.1 L269.9,194.3 L270.1,193.7 L270.4,193.1 L270.7,192.8 L271.0,193.0 L271.3,193.5 L271.6,194.3 L271.9,195.2 L272.2,196.3 L272.5,197.4 L272.8,198.5 L273.1,199.5 L273.4,200.4 L273.7,201.2 L274.0,201.7 L274.3,202.1 L274.6,202.2 L274.9,202.1 L275.2,201.7 L275.5,201.1 L275.8,200.2 L276.0,199.1 L276.3,197.9 L276.6,196.4 L276.9,194.8 L277.2,193.2 L277.5,191.5 L277.8,189.8 L278.1,188.1 L278.4,186.6 L278.7,185.3 L279.0,184.1 L279.3,183.4 L279.6,183.0 L279.9,183.5 L280.2,185.1 L280.5,187.3 L280.8,190.0 L281.1,193.1 L281.4,196.3 L281.6,199.5 L281.9,202.7 L282.2,205.7 L282.5,208.5 L282.8,211.1 L283.1,213.4 L283.4,215.4 L283.7,217.2 L284.0,218.6 L284.3,219.9 L284.6,220.9 L284.9,221.7 L285.2,222.4 L285.5,222.9 L285.8,223.3 L286.1,223.6 L286.4,223.9 L286.7,224.0 L287.0,224.2 L287.3,224.3 L287.6,224.3 L287.8,224.4 L288.1,224.4 L308.2,224.5" fill="none" stroke="#6b3f8c" stroke-width="0.9" stroke-linejoin="round"/>
<rect x="261.00" y="177.50" width="47.20" height="47.00" fill="none" stroke="#111" stroke-width="1.3"/>
<path d="M258.10,224.50H261.00M259.40,222.71H261.00M259.40,220.92H261.00M259.40,219.14H261.00M259.40,217.35H261.00M258.10,215.56H261.00M259.40,213.77H261.00M259.40,211.98H261.00M259.40,210.20H261.00M259.40,208.41H261.00M258.10,206.62H261.00M259.40,204.83H261.00M259.40,203.04H261.00M259.40,201.26H261.00M259.40,199.47H261.00M258.10,197.68H261.00M259.40,195.89H261.00M259.40,194.10H261.00M259.40,192.32H261.00M259.40,190.53H261.00M258.10,188.74H261.00M259.40,186.95H261.00M259.40,185.16H261.00M259.40,183.38H261.00M259.40,181.59H261.00M258.10,179.80H261.00M261.00,224.50V227.40M264.55,224.50V226.40M266.63,224.50V226.40M268.10,224.50V226.40M269.25,224.50V226.40M270.18,224.50V226.40M270.97,224.50V226.40M271.66,224.50V226.40M272.26,224.50V226.40M272.80,224.50V227.40M276.35,224.50V226.40M278.43,224.50V226.40M279.90,224.50V226.40M281.05,224.50V226.40M281.98,224.50V226.40M282.77,224.50V226.40M283.46,224.50V226.40M284.06,224.50V226.40M284.60,224.50V227.40M288.15,224.50V226.40M290.23,224.50V226.40M291.70,224.50V226.40M292.85,224.50V226.40M293.78,224.50V226.40M294.57,224.50V226.40M295.26,224.50V226.40M295.86,224.50V226.40M296.40,224.50V227.40M299.95,224.50V226.40M302.03,224.50V226.40M303.50,224.50V226.40M304.65,224.50V226.40M305.58,224.50V226.40M306.37,224.50V226.40M307.06,224.50V226.40M307.66,224.50V226.40M308.20,224.50V227.10" stroke="#111" stroke-width="0.95" fill="none"/>
<text x="255.60" y="226.80" font-size="6.5" text-anchor="end" fill="#333" class="e">0</text>
<text x="255.60" y="217.86" font-size="6.5" text-anchor="end" fill="#333" class="e">20</text>
<text x="255.60" y="208.92" font-size="6.5" text-anchor="end" fill="#333" class="e">40</text>
<text x="255.60" y="199.98" font-size="6.5" text-anchor="end" fill="#333" class="e">60</text>
<text x="255.60" y="191.04" font-size="6.5" text-anchor="end" fill="#333" class="e">80</text>
<text x="255.60" y="182.10" font-size="6.5" text-anchor="end" fill="#333" class="e">100</text>
<text x="256.80" y="236.50" font-size="6.3" fill="#333" class="e">10<tspan font-size="3.4" dy="-3.2">-1</tspan></text>
<text x="268.60" y="236.50" font-size="6.3" fill="#333" class="e">10<tspan font-size="3.4" dy="-3.2">0</tspan></text>
<text x="280.40" y="236.50" font-size="6.3" fill="#333" class="e">10<tspan font-size="3.4" dy="-3.2">1</tspan></text>
<text x="292.20" y="236.50" font-size="6.3" fill="#333" class="e">10<tspan font-size="3.4" dy="-3.2">2</tspan></text>
<text x="304.00" y="236.50" font-size="6.3" fill="#333" class="e">10<tspan font-size="3.4" dy="-3.2">3</tspan></text>
<text x="305.20" y="221.50" font-size="6.8" text-anchor="end" fill="#222">C4</text>
<path d="M330.1,215.2 L330.4,214.3 L330.7,213.3 L331.0,212.3 L331.3,211.3 L331.6,210.2 L331.9,209.0 L332.2,207.8 L332.5,206.5 L332.8,205.2 L333.1,203.8 L333.3,202.4 L333.6,201.0 L333.9,199.6 L334.2,198.1 L334.5,196.7 L334.8,195.2 L335.1,193.8 L335.4,192.4 L335.7,191.0 L336.0,189.7 L336.3,188.4 L336.6,187.3 L336.9,186.2 L337.2,185.2 L337.5,184.4 L337.8,183.7 L338.1,183.2 L338.4,183.0 L338.7,183.2 L339.0,184.5 L339.2,186.6 L339.5,189.2 L339.8,192.2 L340.1,195.4 L340.4,198.6 L340.7,201.9 L341.0,204.9 L341.3,207.8 L341.6,210.5 L341.9,212.9 L342.2,215.0 L342.5,216.8 L342.8,218.3 L343.1,219.6 L343.4,220.7 L343.7,221.5 L344.0,222.2 L344.3,222.8 L344.6,223.2 L344.9,223.6 L345.1,223.8 L345.4,224.0 L345.7,224.1 L346.0,224.2 L346.3,224.3 L346.6,224.4 L346.9,224.4 L377.3,224.5" fill="none" stroke="#a82e58" stroke-width="0.9" stroke-linejoin="round"/>
<path d="M330.1,218.0 L330.4,217.4 L330.7,216.7 L331.0,215.9 L331.3,215.1 L331.6,214.3 L331.9,213.4 L332.2,212.5 L332.5,211.5 L332.8,210.4 L333.1,209.3 L333.3,208.1 L333.6,206.9 L333.9,205.7 L334.2,204.4 L334.5,203.1 L334.8,201.8 L335.1,200.4 L335.4,199.0 L335.7,197.6 L336.0,196.2 L336.3,194.8 L336.6,193.4 L336.9,192.1 L337.2,190.8 L337.5,189.5 L337.8,188.3 L338.1,187.1 L338.4,186.1 L338.7,185.1 L339.0,184.3 L339.2,183.6 L339.5,183.0 L339.8,182.6 L340.1,182.5 L340.4,183.1 L340.7,184.5 L341.0,186.4 L341.3,188.8 L341.6,191.5 L341.9,194.3 L342.2,197.2 L342.5,200.2 L342.8,203.0 L343.1,205.8 L343.4,208.3 L343.7,210.7 L344.0,212.8 L344.3,214.7 L344.6,216.4 L344.9,217.8 L345.1,219.1 L345.4,220.1 L345.7,221.0 L346.0,221.7 L346.3,222.3 L346.6,222.8 L346.9,223.2 L347.2,223.5 L347.5,223.7 L347.8,223.9 L348.1,224.1 L348.4,224.2 L348.7,224.3 L349.0,224.3 L349.3,224.4 L349.6,224.4 L377.3,224.5" fill="none" stroke="#f2a43a" stroke-width="0.9" stroke-linejoin="round"/>
<rect x="330.10" y="177.50" width="47.20" height="47.00" fill="none" stroke="#111" stroke-width="1.3"/>
<path d="M327.20,224.50H330.10M328.50,222.71H330.10M328.50,220.92H330.10M328.50,219.14H330.10M328.50,217.35H330.10M327.20,215.56H330.10M328.50,213.77H330.10M328.50,211.98H330.10M328.50,210.20H330.10M328.50,208.41H330.10M327.20,206.62H330.10M328.50,204.83H330.10M328.50,203.04H330.10M328.50,201.26H330.10M328.50,199.47H330.10M327.20,197.68H330.10M328.50,195.89H330.10M328.50,194.10H330.10M328.50,192.32H330.10M328.50,190.53H330.10M327.20,188.74H330.10M328.50,186.95H330.10M328.50,185.16H330.10M328.50,183.38H330.10M328.50,181.59H330.10M327.20,179.80H330.10M330.10,224.50V227.40M333.65,224.50V226.40M335.73,224.50V226.40M337.20,224.50V226.40M338.35,224.50V226.40M339.28,224.50V226.40M340.07,224.50V226.40M340.76,224.50V226.40M341.36,224.50V226.40M341.90,224.50V227.40M345.45,224.50V226.40M347.53,224.50V226.40M349.00,224.50V226.40M350.15,224.50V226.40M351.08,224.50V226.40M351.87,224.50V226.40M352.56,224.50V226.40M353.16,224.50V226.40M353.70,224.50V227.40M357.25,224.50V226.40M359.33,224.50V226.40M360.80,224.50V226.40M361.95,224.50V226.40M362.88,224.50V226.40M363.67,224.50V226.40M364.36,224.50V226.40M364.96,224.50V226.40M365.50,224.50V227.40M369.05,224.50V226.40M371.13,224.50V226.40M372.60,224.50V226.40M373.75,224.50V226.40M374.68,224.50V226.40M375.47,224.50V226.40M376.16,224.50V226.40M376.76,224.50V226.40M377.30,224.50V227.10" stroke="#111" stroke-width="0.95" fill="none"/>
<text x="324.70" y="226.80" font-size="6.5" text-anchor="end" fill="#333" class="e">0</text>
<text x="324.70" y="217.86" font-size="6.5" text-anchor="end" fill="#333" class="e">20</text>
<text x="324.70" y="208.92" font-size="6.5" text-anchor="end" fill="#333" class="e">40</text>
<text x="324.70" y="199.98" font-size="6.5" text-anchor="end" fill="#333" class="e">60</text>
<text x="324.70" y="191.04" font-size="6.5" text-anchor="end" fill="#333" class="e">80</text>
<text x="324.70" y="182.10" font-size="6.5" text-anchor="end" fill="#333" class="e">100</text>
<text x="325.90" y="236.50" font-size="6.3" fill="#333" class="e">10<tspan font-size="3.4" dy="-3.2">-1</tspan></text>
<text x="337.70" y="236.50" font-size="6.3" fill="#333" class="e">10<tspan font-size="3.4" dy="-3.2">0</tspan></text>
<text x="349.50" y="236.50" font-size="6.3" fill="#333" class="e">10<tspan font-size="3.4" dy="-3.2">1</tspan></text>
<text x="361.30" y="236.50" font-size="6.3" fill="#333" class="e">10<tspan font-size="3.4" dy="-3.2">2</tspan></text>
<text x="373.10" y="236.50" font-size="6.3" fill="#333" class="e">10<tspan font-size="3.4" dy="-3.2">3</tspan></text>
<text x="374.30" y="221.50" font-size="6.8" text-anchor="end" fill="#222">C5</text>
<path d="M399.0,215.4 L399.3,214.5 L399.6,213.5 L399.9,212.5 L400.2,211.4 L400.5,210.3 L400.8,209.1 L401.1,207.8 L401.4,206.5 L401.7,205.1 L401.9,203.7 L402.2,202.3 L402.5,200.8 L402.8,199.3 L403.1,197.8 L403.4,196.3 L403.7,194.8 L404.0,193.3 L404.3,191.8 L404.6,190.4 L404.9,189.1 L405.2,187.8 L405.5,186.6 L405.8,185.5 L406.1,184.6 L406.4,183.7 L406.7,183.1 L407.0,182.7 L407.3,182.5 L407.6,183.4 L407.9,185.4 L408.1,188.3 L408.4,191.6 L408.7,195.3 L409.0,199.0 L409.3,202.7 L409.6,206.1 L409.9,209.3 L410.2,212.1 L410.5,214.6 L410.8,216.7 L411.1,218.4 L411.4,219.9 L411.7,221.0 L412.0,221.9 L412.3,222.6 L412.6,223.1 L412.9,223.5 L413.2,223.8 L413.5,224.0 L413.8,224.2 L414.0,224.3 L414.3,224.4 L414.6,224.4 L414.9,224.4 L446.2,224.5" fill="none" stroke="#a82e58" stroke-width="0.9" stroke-linejoin="round"/>
<path d="M399.0,215.5 L399.3,214.6 L399.6,213.6 L399.9,212.6 L400.2,211.5 L400.5,210.4 L400.8,209.2 L401.1,208.0 L401.4,206.7 L401.7,205.3 L401.9,203.9 L402.2,202.5 L402.5,201.1 L402.8,199.6 L403.1,198.1 L403.4,196.6 L403.7,195.1 L404.0,193.6 L404.3,192.2 L404.6,190.8 L404.9,189.4 L405.2,188.2 L405.5,187.0 L405.8,185.9 L406.1,185.0 L406.4,184.2 L406.7,183.6 L407.0,183.1 L407.3,182.9 L407.6,183.8 L407.9,185.9 L408.1,188.7 L408.4,192.0 L408.7,195.6 L409.0,199.3 L409.3,202.9 L409.6,206.3 L409.9,209.5 L410.2,212.3 L410.5,214.7 L410.8,216.8 L411.1,218.5 L411.4,219.9 L411.7,221.0 L412.0,221.9 L412.3,222.6 L412.6,223.1 L412.9,223.5 L413.2,223.8 L413.5,224.0 L413.8,224.2 L414.0,224.3 L414.3,224.4 L414.6,224.4 L414.9,224.4 L446.2,224.5" fill="none" stroke="#5ab0dc" stroke-width="1.15" stroke-linejoin="round"/>
<rect x="399.00" y="177.50" width="47.20" height="47.00" fill="none" stroke="#111" stroke-width="1.3"/>
<path d="M396.10,224.50H399.00M397.40,222.71H399.00M397.40,220.92H399.00M397.40,219.14H399.00M397.40,217.35H399.00M396.10,215.56H399.00M397.40,213.77H399.00M397.40,211.98H399.00M397.40,210.20H399.00M397.40,208.41H399.00M396.10,206.62H399.00M397.40,204.83H399.00M397.40,203.04H399.00M397.40,201.26H399.00M397.40,199.47H399.00M396.10,197.68H399.00M397.40,195.89H399.00M397.40,194.10H399.00M397.40,192.32H399.00M397.40,190.53H399.00M396.10,188.74H399.00M397.40,186.95H399.00M397.40,185.16H399.00M397.40,183.38H399.00M397.40,181.59H399.00M396.10,179.80H399.00M399.00,224.50V227.40M402.55,224.50V226.40M404.63,224.50V226.40M406.10,224.50V226.40M407.25,224.50V226.40M408.18,224.50V226.40M408.97,224.50V226.40M409.66,224.50V226.40M410.26,224.50V226.40M410.80,224.50V227.40M414.35,224.50V226.40M416.43,224.50V226.40M417.90,224.50V226.40M419.05,224.50V226.40M419.98,224.50V226.40M420.77,224.50V226.40M421.46,224.50V226.40M422.06,224.50V226.40M422.60,224.50V227.40M426.15,224.50V226.40M428.23,224.50V226.40M429.70,224.50V226.40M430.85,224.50V226.40M431.78,224.50V226.40M432.57,224.50V226.40M433.26,224.50V226.40M433.86,224.50V226.40M434.40,224.50V227.40M437.95,224.50V226.40M440.03,224.50V226.40M441.50,224.50V226.40M442.65,224.50V226.40M443.58,224.50V226.40M444.37,224.50V226.40M445.06,224.50V226.40M445.66,224.50V226.40M446.20,224.50V227.10" stroke="#111" stroke-width="0.95" fill="none"/>
<text x="393.60" y="226.80" font-size="6.5" text-anchor="end" fill="#333" class="e">0</text>
<text x="393.60" y="217.86" font-size="6.5" text-anchor="end" fill="#333" class="e">20</text>
<text x="393.60" y="208.92" font-size="6.5" text-anchor="end" fill="#333" class="e">40</text>
<text x="393.60" y="199.98" font-size="6.5" text-anchor="end" fill="#333" class="e">60</text>
<text x="393.60" y="191.04" font-size="6.5" text-anchor="end" fill="#333" class="e">80</text>
<text x="393.60" y="182.10" font-size="6.5" text-anchor="end" fill="#333" class="e">100</text>
<text x="394.80" y="236.50" font-size="6.3" fill="#333" class="e">10<tspan font-size="3.4" dy="-3.2">-1</tspan></text>
<text x="406.60" y="236.50" font-size="6.3" fill="#333" class="e">10<tspan font-size="3.4" dy="-3.2">0</tspan></text>
<text x="418.40" y="236.50" font-size="6.3" fill="#333" class="e">10<tspan font-size="3.4" dy="-3.2">1</tspan></text>
<text x="430.20" y="236.50" font-size="6.3" fill="#333" class="e">10<tspan font-size="3.4" dy="-3.2">2</tspan></text>
<text x="442.00" y="236.50" font-size="6.3" fill="#333" class="e">10<tspan font-size="3.4" dy="-3.2">3</tspan></text>
<text x="443.20" y="221.50" font-size="6.8" text-anchor="end" fill="#222">C6</text>
<path d="M468.1,215.4 L468.4,214.6 L468.7,213.8 L469.0,212.9 L469.3,212.0 L469.6,211.0 L469.9,210.0 L470.2,209.0 L470.5,207.9 L470.8,206.7 L471.1,205.6 L471.3,204.4 L471.6,203.1 L471.9,201.9 L472.2,200.6 L472.5,199.3 L472.8,198.0 L473.1,196.7 L473.4,195.4 L473.7,194.1 L474.0,192.8 L474.3,191.6 L474.6,190.4 L474.9,189.3 L475.2,188.2 L475.5,187.2 L475.8,186.3 L476.1,185.5 L476.4,184.7 L476.7,184.2 L477.0,183.7 L477.2,183.4 L477.5,183.4 L477.8,183.9 L478.1,184.7 L478.4,185.9 L478.7,187.2 L479.0,188.7 L479.3,190.4 L479.6,192.2 L479.9,194.1 L480.2,196.0 L480.5,198.0 L480.8,199.9 L481.1,201.9 L481.4,203.8 L481.7,205.6 L482.0,207.3 L482.3,209.0 L482.6,210.5 L482.9,212.0 L483.1,213.4 L483.4,214.6 L483.7,215.8 L484.0,216.8 L484.3,217.8 L484.6,218.7 L484.9,219.4 L485.2,220.1 L485.5,220.7 L485.8,221.3 L486.1,221.8 L486.4,222.2 L486.7,222.5 L487.0,222.8 L487.3,223.1 L487.6,223.3 L487.9,223.5 L488.2,223.7 L488.5,223.8 L488.8,224.0 L489.0,224.1 L489.3,224.1 L489.6,224.2 L489.9,224.3 L490.2,224.3 L490.5,224.3 L490.8,224.4 L491.1,224.4 L515.3,224.5" fill="none" stroke="#a82e58" stroke-width="0.9" stroke-linejoin="round"/>
<path d="M468.1,223.5 L468.4,223.4 L468.7,223.2 L469.0,223.1 L469.3,222.9 L469.6,222.7 L469.9,222.5 L470.2,222.3 L470.5,222.0 L470.8,221.7 L471.1,221.5 L471.3,221.2 L471.6,220.8 L471.9,220.5 L472.2,220.1 L472.5,219.7 L472.8,219.3 L473.1,218.9 L473.4,218.5 L473.7,218.0 L474.0,217.5 L474.3,217.1 L474.6,216.6 L474.9,216.1 L475.2,215.6 L475.5,215.1 L475.8,214.6 L476.1,214.1 L476.4,213.6 L476.7,213.2 L477.0,212.7 L477.2,212.3 L477.5,211.9 L477.8,211.6 L478.1,211.3 L478.4,211.0 L478.7,210.8 L479.0,210.7 L479.3,210.7 L479.6,210.9 L479.9,211.2 L480.2,211.5 L480.5,211.9 L480.8,212.2 L481.1,212.4 L481.4,212.6 L481.7,212.6 L482.0,212.4 L482.3,212.1 L482.6,211.5 L482.9,210.7 L483.1,209.7 L483.4,208.3 L483.7,206.8 L484.0,204.9 L484.3,202.9 L484.6,200.7 L484.9,198.3 L485.2,195.8 L485.5,193.2 L485.8,190.8 L486.1,188.4 L486.4,186.3 L486.7,184.6 L487.0,183.3 L487.3,182.7 L487.6,183.1 L487.9,184.3 L488.2,186.0 L488.5,188.1 L488.8,190.5 L489.0,193.2 L489.3,195.9 L489.6,198.7 L489.9,201.4 L490.2,204.1 L490.5,206.6 L490.8,209.0 L491.1,211.2 L491.4,213.1 L491.7,214.9 L492.0,216.5 L492.3,217.8 L492.6,219.0 L492.9,220.0 L493.2,220.9 L493.5,221.6 L493.8,222.2 L494.1,222.7 L494.4,223.1 L494.7,223.4 L494.9,223.6 L495.2,223.8 L495.5,224.0 L495.8,224.1 L496.1,224.2 L496.4,224.3 L496.7,224.3 L497.0,224.4 L497.3,224.4 L515.3,224.5" fill="none" stroke="#2c7e66" stroke-width="0.9" stroke-linejoin="round"/>
<rect x="468.10" y="177.50" width="47.20" height="47.00" fill="none" stroke="#111" stroke-width="1.3"/>
<path d="M465.20,224.50H468.10M466.50,222.71H468.10M466.50,220.92H468.10M466.50,219.14H468.10M466.50,217.35H468.10M465.20,215.56H468.10M466.50,213.77H468.10M466.50,211.98H468.10M466.50,210.20H468.10M466.50,208.41H468.10M465.20,206.62H468.10M466.50,204.83H468.10M466.50,203.04H468.10M466.50,201.26H468.10M466.50,199.47H468.10M465.20,197.68H468.10M466.50,195.89H468.10M466.50,194.10H468.10M466.50,192.32H468.10M466.50,190.53H468.10M465.20,188.74H468.10M466.50,186.95H468.10M466.50,185.16H468.10M466.50,183.38H468.10M466.50,181.59H468.10M465.20,179.80H468.10M468.10,224.50V227.40M471.65,224.50V226.40M473.73,224.50V226.40M475.20,224.50V226.40M476.35,224.50V226.40M477.28,224.50V226.40M478.07,224.50V226.40M478.76,224.50V226.40M479.36,224.50V226.40M479.90,224.50V227.40M483.45,224.50V226.40M485.53,224.50V226.40M487.00,224.50V226.40M488.15,224.50V226.40M489.08,224.50V226.40M489.87,224.50V226.40M490.56,224.50V226.40M491.16,224.50V226.40M491.70,224.50V227.40M495.25,224.50V226.40M497.33,224.50V226.40M498.80,224.50V226.40M499.95,224.50V226.40M500.88,224.50V226.40M501.67,224.50V226.40M502.36,224.50V226.40M502.96,224.50V226.40M503.50,224.50V227.40M507.05,224.50V226.40M509.13,224.50V226.40M510.60,224.50V226.40M511.75,224.50V226.40M512.68,224.50V226.40M513.47,224.50V226.40M514.16,224.50V226.40M514.76,224.50V226.40M515.30,224.50V227.10" stroke="#111" stroke-width="0.95" fill="none"/>
<text x="462.70" y="226.80" font-size="6.5" text-anchor="end" fill="#333" class="e">0</text>
<text x="462.70" y="217.86" font-size="6.5" text-anchor="end" fill="#333" class="e">20</text>
<text x="462.70" y="208.92" font-size="6.5" text-anchor="end" fill="#333" class="e">40</text>
<text x="462.70" y="199.98" font-size="6.5" text-anchor="end" fill="#333" class="e">60</text>
<text x="462.70" y="191.04" font-size="6.5" text-anchor="end" fill="#333" class="e">80</text>
<text x="462.70" y="182.10" font-size="6.5" text-anchor="end" fill="#333" class="e">100</text>
<text x="463.90" y="236.50" font-size="6.3" fill="#333" class="e">10<tspan font-size="3.4" dy="-3.2">-1</tspan></text>
<text x="475.70" y="236.50" font-size="6.3" fill="#333" class="e">10<tspan font-size="3.4" dy="-3.2">0</tspan></text>
<text x="487.50" y="236.50" font-size="6.3" fill="#333" class="e">10<tspan font-size="3.4" dy="-3.2">1</tspan></text>
<text x="499.30" y="236.50" font-size="6.3" fill="#333" class="e">10<tspan font-size="3.4" dy="-3.2">2</tspan></text>
<text x="511.10" y="236.50" font-size="6.3" fill="#333" class="e">10<tspan font-size="3.4" dy="-3.2">3</tspan></text>
<text x="512.30" y="221.50" font-size="6.8" text-anchor="end" fill="#222">C7</text>
<path d="M51.5,290.0 L51.8,289.1 L52.1,288.1 L52.4,287.1 L52.7,286.0 L53.0,284.9 L53.3,283.8 L53.6,282.6 L53.9,281.4 L54.2,280.2 L54.5,278.9 L54.7,277.6 L55.0,276.3 L55.3,275.0 L55.6,273.6 L55.9,272.3 L56.2,271.0 L56.5,269.7 L56.8,268.5 L57.1,267.3 L57.4,266.1 L57.7,265.0 L58.0,264.0 L58.3,263.0 L58.6,262.2 L58.9,261.4 L59.2,260.8 L59.5,260.3 L59.8,260.0 L60.1,260.0 L60.4,260.6 L60.6,261.7 L60.9,263.3 L61.2,265.3 L61.5,267.4 L61.8,269.8 L62.1,272.3 L62.4,274.8 L62.7,277.3 L63.0,279.7 L63.3,282.1 L63.6,284.4 L63.9,286.5 L64.2,288.4 L64.5,290.2 L64.8,291.8 L65.1,293.2 L65.4,294.5 L65.7,295.6 L66.0,296.6 L66.2,297.5 L66.5,298.2 L66.8,298.8 L67.1,299.3 L67.4,299.7 L67.7,300.1 L68.0,300.4 L68.3,300.6 L68.6,300.8 L68.9,301.0 L69.2,301.1 L69.5,301.2 L69.8,301.2 L70.1,301.3 L70.4,301.4 L70.7,301.4 L71.0,301.4 L98.7,301.5" fill="none" stroke="#a82e58" stroke-width="0.9" stroke-linejoin="round"/>
<path d="M51.5,291.3 L51.8,290.4 L52.1,289.5 L52.4,288.5 L52.7,287.6 L53.0,286.5 L53.3,285.4 L53.6,284.3 L53.9,283.1 L54.2,281.9 L54.5,280.7 L54.7,279.4 L55.0,278.1 L55.3,276.8 L55.6,275.5 L55.9,274.1 L56.2,272.8 L56.5,271.5 L56.8,270.2 L57.1,268.9 L57.4,267.6 L57.7,266.4 L58.0,265.3 L58.3,264.2 L58.6,263.2 L58.9,262.3 L59.2,261.4 L59.5,260.7 L59.8,260.2 L60.1,259.8 L60.4,259.5 L60.6,259.7 L60.9,260.5 L61.2,261.7 L61.5,263.4 L61.8,265.3 L62.1,267.4 L62.4,269.7 L62.7,272.1 L63.0,274.6 L63.3,277.0 L63.6,279.4 L63.9,281.7 L64.2,283.8 L64.5,285.9 L64.8,287.8 L65.1,289.6 L65.4,291.2 L65.7,292.6 L66.0,293.9 L66.2,295.1 L66.5,296.1 L66.8,297.0 L67.1,297.7 L67.4,298.4 L67.7,298.9 L68.0,299.4 L68.3,299.8 L68.6,300.1 L68.9,300.4 L69.2,300.6 L69.5,300.8 L69.8,300.9 L70.1,301.1 L70.4,301.2 L70.7,301.2 L71.0,301.3 L71.3,301.3 L71.6,301.4 L71.9,301.4 L98.7,301.5" fill="none" stroke="#5d7f9c" stroke-width="0.9" stroke-linejoin="round"/>
<path d="M52.60,301.50V255.50" stroke="#e8a8c0" stroke-width="0.8"/>
<rect x="51.50" y="254.50" width="47.20" height="47.00" fill="none" stroke="#111" stroke-width="1.3"/>
<path d="M48.60,301.50H51.50M49.90,299.71H51.50M49.90,297.92H51.50M49.90,296.14H51.50M49.90,294.35H51.50M48.60,292.56H51.50M49.90,290.77H51.50M49.90,288.98H51.50M49.90,287.20H51.50M49.90,285.41H51.50M48.60,283.62H51.50M49.90,281.83H51.50M49.90,280.04H51.50M49.90,278.26H51.50M49.90,276.47H51.50M48.60,274.68H51.50M49.90,272.89H51.50M49.90,271.10H51.50M49.90,269.32H51.50M49.90,267.53H51.50M48.60,265.74H51.50M49.90,263.95H51.50M49.90,262.16H51.50M49.90,260.38H51.50M49.90,258.59H51.50M48.60,256.80H51.50M51.50,301.50V304.40M55.05,301.50V303.40M57.13,301.50V303.40M58.60,301.50V303.40M59.75,301.50V303.40M60.68,301.50V303.40M61.47,301.50V303.40M62.16,301.50V303.40M62.76,301.50V303.40M63.30,301.50V304.40M66.85,301.50V303.40M68.93,301.50V303.40M70.40,301.50V303.40M71.55,301.50V303.40M72.48,301.50V303.40M73.27,301.50V303.40M73.96,301.50V303.40M74.56,301.50V303.40M75.10,301.50V304.40M78.65,301.50V303.40M80.73,301.50V303.40M82.20,301.50V303.40M83.35,301.50V303.40M84.28,301.50V303.40M85.07,301.50V303.40M85.76,301.50V303.40M86.36,301.50V303.40M86.90,301.50V304.40M90.45,301.50V303.40M92.53,301.50V303.40M94.00,301.50V303.40M95.15,301.50V303.40M96.08,301.50V303.40M96.87,301.50V303.40M97.56,301.50V303.40M98.16,301.50V303.40M98.70,301.50V304.10" stroke="#111" stroke-width="0.95" fill="none"/>
<text x="46.10" y="303.80" font-size="6.5" text-anchor="end" fill="#333" class="e">0</text>
<text x="46.10" y="294.86" font-size="6.5" text-anchor="end" fill="#333" class="e">20</text>
<text x="46.10" y="285.92" font-size="6.5" text-anchor="end" fill="#333" class="e">40</text>
<text x="46.10" y="276.98" font-size="6.5" text-anchor="end" fill="#333" class="e">60</text>
<text x="46.10" y="268.04" font-size="6.5" text-anchor="end" fill="#333" class="e">80</text>
<text x="46.10" y="259.10" font-size="6.5" text-anchor="end" fill="#333" class="e">100</text>
<text x="47.30" y="313.50" font-size="6.3" fill="#333" class="e">10<tspan font-size="3.4" dy="-3.2">-1</tspan></text>
<text x="59.10" y="313.50" font-size="6.3" fill="#333" class="e">10<tspan font-size="3.4" dy="-3.2">0</tspan></text>
<text x="70.90" y="313.50" font-size="6.3" fill="#333" class="e">10<tspan font-size="3.4" dy="-3.2">1</tspan></text>
<text x="82.70" y="313.50" font-size="6.3" fill="#333" class="e">10<tspan font-size="3.4" dy="-3.2">2</tspan></text>
<text x="94.50" y="313.50" font-size="6.3" fill="#333" class="e">10<tspan font-size="3.4" dy="-3.2">3</tspan></text>
<text x="95.70" y="298.50" font-size="6.8" text-anchor="end" fill="#222">D1</text>
<path d="M122.2,291.5 L122.5,290.7 L122.8,289.8 L123.1,289.0 L123.4,288.0 L123.7,287.1 L124.0,286.0 L124.3,285.0 L124.6,283.9 L124.9,282.8 L125.2,281.6 L125.4,280.5 L125.7,279.3 L126.0,278.0 L126.3,276.8 L126.6,275.5 L126.9,274.3 L127.2,273.0 L127.5,271.8 L127.8,270.5 L128.1,269.3 L128.4,268.1 L128.7,267.0 L129.0,265.9 L129.3,264.8 L129.6,263.9 L129.9,263.0 L130.2,262.2 L130.5,261.5 L130.8,260.9 L131.1,260.4 L131.3,260.1 L131.6,259.9 L131.9,260.4 L132.2,261.3 L132.5,262.8 L132.8,264.5 L133.1,266.5 L133.4,268.7 L133.7,271.0 L134.0,273.4 L134.3,275.8 L134.6,278.2 L134.9,280.5 L135.2,282.7 L135.5,284.9 L135.8,286.8 L136.1,288.7 L136.4,290.4 L136.7,291.9 L136.9,293.3 L137.2,294.5 L137.5,295.6 L137.8,296.5 L138.1,297.3 L138.4,298.0 L138.7,298.6 L139.0,299.2 L139.3,299.6 L139.6,300.0 L139.9,300.3 L140.2,300.5 L140.5,300.7 L140.8,300.9 L141.1,301.0 L141.4,301.1 L141.7,301.2 L142.0,301.3 L142.3,301.3 L142.6,301.4 L142.8,301.4 L143.1,301.4 L169.4,301.5" fill="none" stroke="#a82e58" stroke-width="0.9" stroke-linejoin="round"/>
<path d="M122.2,301.5 L122.5,301.5 L122.8,301.5 L123.1,301.5 L123.4,301.5 L123.7,301.5 L124.0,301.4 L124.3,301.4 L124.6,301.4 L124.9,301.4 L125.2,301.4 L125.4,301.4 L125.7,301.3 L126.0,301.3 L126.3,301.3 L126.6,301.2 L126.9,301.2 L127.2,301.1 L127.5,301.0 L127.8,301.0 L128.1,300.9 L128.4,300.8 L128.7,300.6 L129.0,300.5 L129.3,300.4 L129.6,300.2 L129.9,300.0 L130.2,299.7 L130.5,299.5 L130.8,299.2 L131.1,298.9 L131.3,298.5 L131.6,298.1 L131.9,297.7 L132.2,297.2 L132.5,296.6 L132.8,296.1 L133.1,295.4 L133.4,294.7 L133.7,293.9 L134.0,293.1 L134.3,292.2 L134.6,291.2 L134.9,290.2 L135.2,289.1 L135.5,287.9 L135.8,286.7 L136.1,285.4 L136.4,284.1 L136.7,282.7 L136.9,281.2 L137.2,279.7 L137.5,278.2 L137.8,276.6 L138.1,275.0 L138.4,273.4 L138.7,271.9 L139.0,270.3 L139.3,268.8 L139.6,267.3 L139.9,265.9 L140.2,264.6 L140.5,263.4 L140.8,262.4 L141.1,261.5 L141.4,260.7 L141.7,260.2 L142.0,259.9 L142.3,260.3 L142.6,261.4 L142.8,263.1 L143.1,265.2 L143.4,267.6 L143.7,270.2 L144.0,273.0 L144.3,275.7 L144.6,278.5 L144.9,281.1 L145.2,283.6 L145.5,286.0 L145.8,288.2 L146.1,290.2 L146.4,291.9 L146.7,293.5 L147.0,294.8 L147.3,296.0 L147.6,297.0 L147.9,297.9 L148.2,298.6 L148.5,299.2 L148.8,299.7 L149.0,300.1 L149.3,300.4 L149.6,300.6 L149.9,300.8 L150.2,301.0 L150.5,301.1 L150.8,301.2 L151.1,301.3 L151.4,301.3 L151.7,301.4 L152.0,301.4 L169.4,301.5" fill="none" stroke="#62b868" stroke-width="0.9" stroke-linejoin="round"/>
<rect x="122.20" y="254.50" width="47.20" height="47.00" fill="none" stroke="#111" stroke-width="1.3"/>
<path d="M119.30,301.50H122.20M120.60,299.71H122.20M120.60,297.92H122.20M120.60,296.14H122.20M120.60,294.35H122.20M119.30,292.56H122.20M120.60,290.77H122.20M120.60,288.98H122.20M120.60,287.20H122.20M120.60,285.41H122.20M119.30,283.62H122.20M120.60,281.83H122.20M120.60,280.04H122.20M120.60,278.26H122.20M120.60,276.47H122.20M119.30,274.68H122.20M120.60,272.89H122.20M120.60,271.10H122.20M120.60,269.32H122.20M120.60,267.53H122.20M119.30,265.74H122.20M120.60,263.95H122.20M120.60,262.16H122.20M120.60,260.38H122.20M120.60,258.59H122.20M119.30,256.80H122.20M122.20,301.50V304.40M125.75,301.50V303.40M127.83,301.50V303.40M129.30,301.50V303.40M130.45,301.50V303.40M131.38,301.50V303.40M132.17,301.50V303.40M132.86,301.50V303.40M133.46,301.50V303.40M134.00,301.50V304.40M137.55,301.50V303.40M139.63,301.50V303.40M141.10,301.50V303.40M142.25,301.50V303.40M143.18,301.50V303.40M143.97,301.50V303.40M144.66,301.50V303.40M145.26,301.50V303.40M145.80,301.50V304.40M149.35,301.50V303.40M151.43,301.50V303.40M152.90,301.50V303.40M154.05,301.50V303.40M154.98,301.50V303.40M155.77,301.50V303.40M156.46,301.50V303.40M157.06,301.50V303.40M157.60,301.50V304.40M161.15,301.50V303.40M163.23,301.50V303.40M164.70,301.50V303.40M165.85,301.50V303.40M166.78,301.50V303.40M167.57,301.50V303.40M168.26,301.50V303.40M168.86,301.50V303.40M169.40,301.50V304.10" stroke="#111" stroke-width="0.95" fill="none"/>
<text x="116.80" y="303.80" font-size="6.5" text-anchor="end" fill="#333" class="e">0</text>
<text x="116.80" y="294.86" font-size="6.5" text-anchor="end" fill="#333" class="e">20</text>
<text x="116.80" y="285.92" font-size="6.5" text-anchor="end" fill="#333" class="e">40</text>
<text x="116.80" y="276.98" font-size="6.5" text-anchor="end" fill="#333" class="e">60</text>
<text x="116.80" y="268.04" font-size="6.5" text-anchor="end" fill="#333" class="e">80</text>
<text x="116.80" y="259.10" font-size="6.5" text-anchor="end" fill="#333" class="e">100</text>
<text x="118.00" y="313.50" font-size="6.3" fill="#333" class="e">10<tspan font-size="3.4" dy="-3.2">-1</tspan></text>
<text x="129.80" y="313.50" font-size="6.3" fill="#333" class="e">10<tspan font-size="3.4" dy="-3.2">0</tspan></text>
<text x="141.60" y="313.50" font-size="6.3" fill="#333" class="e">10<tspan font-size="3.4" dy="-3.2">1</tspan></text>
<text x="153.40" y="313.50" font-size="6.3" fill="#333" class="e">10<tspan font-size="3.4" dy="-3.2">2</tspan></text>
<text x="165.20" y="313.50" font-size="6.3" fill="#333" class="e">10<tspan font-size="3.4" dy="-3.2">3</tspan></text>
<text x="166.40" y="298.50" font-size="6.8" text-anchor="end" fill="#222">D2</text>
<path d="M190.9,291.5 L191.2,290.7 L191.5,289.8 L191.8,289.0 L192.1,288.0 L192.4,287.1 L192.7,286.0 L193.0,285.0 L193.3,283.9 L193.6,282.8 L193.8,281.6 L194.1,280.5 L194.4,279.3 L194.7,278.0 L195.0,276.8 L195.3,275.5 L195.6,274.3 L195.9,273.0 L196.2,271.8 L196.5,270.5 L196.8,269.3 L197.1,268.1 L197.4,267.0 L197.7,265.9 L198.0,264.8 L198.3,263.9 L198.6,263.0 L198.9,262.2 L199.2,261.5 L199.5,260.9 L199.8,260.4 L200.0,260.1 L200.3,259.9 L200.6,260.4 L200.9,261.3 L201.2,262.8 L201.5,264.5 L201.8,266.5 L202.1,268.7 L202.4,271.0 L202.7,273.4 L203.0,275.8 L203.3,278.2 L203.6,280.5 L203.9,282.7 L204.2,284.9 L204.5,286.8 L204.8,288.7 L205.1,290.4 L205.4,291.9 L205.7,293.3 L205.9,294.5 L206.2,295.6 L206.5,296.5 L206.8,297.3 L207.1,298.0 L207.4,298.6 L207.7,299.2 L208.0,299.6 L208.3,300.0 L208.6,300.3 L208.9,300.5 L209.2,300.7 L209.5,300.9 L209.8,301.0 L210.1,301.1 L210.4,301.2 L210.7,301.3 L211.0,301.3 L211.3,301.4 L211.6,301.4 L211.8,301.4 L238.1,301.5" fill="none" stroke="#a82e58" stroke-width="0.9" stroke-linejoin="round"/>
<path d="M190.9,301.0 L191.2,300.9 L191.5,300.9 L191.8,300.8 L192.1,300.7 L192.4,300.6 L192.7,300.4 L193.0,300.3 L193.3,300.1 L193.6,300.0 L193.8,299.8 L194.1,299.6 L194.4,299.4 L194.7,299.1 L195.0,298.8 L195.3,298.6 L195.6,298.3 L195.9,297.9 L196.2,297.6 L196.5,297.2 L196.8,296.8 L197.1,296.4 L197.4,295.9 L197.7,295.5 L198.0,295.0 L198.3,294.4 L198.6,293.9 L198.9,293.3 L199.2,292.7 L199.5,292.1 L199.8,291.5 L200.0,290.8 L200.3,290.2 L200.6,289.5 L200.9,288.8 L201.2,288.1 L201.5,287.3 L201.8,286.6 L202.1,285.9 L202.4,285.1 L202.7,284.4 L203.0,283.8 L203.3,283.2 L203.6,282.6 L203.9,282.1 L204.2,281.5 L204.5,281.0 L204.8,280.3 L205.1,279.7 L205.4,278.9 L205.7,278.1 L205.9,277.2 L206.2,276.3 L206.5,275.3 L206.8,274.1 L207.1,273.0 L207.4,271.8 L207.7,270.5 L208.0,269.2 L208.3,267.9 L208.6,266.6 L208.9,265.3 L209.2,264.0 L209.5,262.9 L209.8,261.8 L210.1,260.9 L210.4,260.1 L210.7,259.5 L211.0,259.1 L211.3,259.1 L211.6,259.8 L211.8,261.1 L212.1,262.9 L212.4,265.1 L212.7,267.5 L213.0,270.1 L213.3,272.7 L213.6,275.4 L213.9,278.1 L214.2,280.6 L214.5,283.1 L214.8,285.4 L215.1,287.5 L215.4,289.5 L215.7,291.2 L216.0,292.8 L216.3,294.2 L216.6,295.4 L216.9,296.5 L217.2,297.4 L217.5,298.1 L217.7,298.8 L218.0,299.3 L218.3,299.8 L218.6,300.1 L218.9,300.4 L219.2,300.7 L219.5,300.8 L219.8,301.0 L220.1,301.1 L220.4,301.2 L220.7,301.3 L221.0,301.3 L221.3,301.4 L221.6,301.4 L238.1,301.5" fill="none" stroke="#d8348c" stroke-width="0.9" stroke-linejoin="round"/>
<rect x="190.90" y="254.50" width="47.20" height="47.00" fill="none" stroke="#111" stroke-width="1.3"/>
<path d="M188.00,301.50H190.90M189.30,299.71H190.90M189.30,297.92H190.90M189.30,296.14H190.90M189.30,294.35H190.90M188.00,292.56H190.90M189.30,290.77H190.90M189.30,288.98H190.90M189.30,287.20H190.90M189.30,285.41H190.90M188.00,283.62H190.90M189.30,281.83H190.90M189.30,280.04H190.90M189.30,278.26H190.90M189.30,276.47H190.90M188.00,274.68H190.90M189.30,272.89H190.90M189.30,271.10H190.90M189.30,269.32H190.90M189.30,267.53H190.90M188.00,265.74H190.90M189.30,263.95H190.90M189.30,262.16H190.90M189.30,260.38H190.90M189.30,258.59H190.90M188.00,256.80H190.90M190.90,301.50V304.40M194.45,301.50V303.40M196.53,301.50V303.40M198.00,301.50V303.40M199.15,301.50V303.40M200.08,301.50V303.40M200.87,301.50V303.40M201.56,301.50V303.40M202.16,301.50V303.40M202.70,301.50V304.40M206.25,301.50V303.40M208.33,301.50V303.40M209.80,301.50V303.40M210.95,301.50V303.40M211.88,301.50V303.40M212.67,301.50V303.40M213.36,301.50V303.40M213.96,301.50V303.40M214.50,301.50V304.40M218.05,301.50V303.40M220.13,301.50V303.40M221.60,301.50V303.40M222.75,301.50V303.40M223.68,301.50V303.40M224.47,301.50V303.40M225.16,301.50V303.40M225.76,301.50V303.40M226.30,301.50V304.40M229.85,301.50V303.40M231.93,301.50V303.40M233.40,301.50V303.40M234.55,301.50V303.40M235.48,301.50V303.40M236.27,301.50V303.40M236.96,301.50V303.40M237.56,301.50V303.40M238.10,301.50V304.10" stroke="#111" stroke-width="0.95" fill="none"/>
<text x="185.50" y="303.80" font-size="6.5" text-anchor="end" fill="#333" class="e">0</text>
<text x="185.50" y="294.86" font-size="6.5" text-anchor="end" fill="#333" class="e">20</text>
<text x="185.50" y="285.92" font-size="6.5" text-anchor="end" fill="#333" class="e">40</text>
<text x="185.50" y="276.98" font-size="6.5" text-anchor="end" fill="#333" class="e">60</text>
<text x="185.50" y="268.04" font-size="6.5" text-anchor="end" fill="#333" class="e">80</text>
<text x="185.50" y="259.10" font-size="6.5" text-anchor="end" fill="#333" class="e">100</text>
<text x="186.70" y="313.50" font-size="6.3" fill="#333" class="e">10<tspan font-size="3.4" dy="-3.2">-1</tspan></text>
<text x="198.50" y="313.50" font-size="6.3" fill="#333" class="e">10<tspan font-size="3.4" dy="-3.2">0</tspan></text>
<text x="210.30" y="313.50" font-size="6.3" fill="#333" class="e">10<tspan font-size="3.4" dy="-3.2">1</tspan></text>
<text x="222.10" y="313.50" font-size="6.3" fill="#333" class="e">10<tspan font-size="3.4" dy="-3.2">2</tspan></text>
<text x="233.90" y="313.50" font-size="6.3" fill="#333" class="e">10<tspan font-size="3.4" dy="-3.2">3</tspan></text>
<text x="235.10" y="298.50" font-size="6.8" text-anchor="end" fill="#222">D3</text>
<path d="M261.0,292.1 L261.3,291.3 L261.6,290.4 L261.9,289.6 L262.2,288.6 L262.5,287.7 L262.8,286.7 L263.1,285.6 L263.4,284.5 L263.7,283.4 L263.9,282.2 L264.2,281.0 L264.5,279.8 L264.8,278.6 L265.1,277.3 L265.4,276.0 L265.7,274.7 L266.0,273.5 L266.3,272.2 L266.6,270.9 L266.9,269.6 L267.2,268.4 L267.5,267.2 L267.8,266.1 L268.1,265.0 L268.4,264.0 L268.7,263.1 L269.0,262.3 L269.3,261.5 L269.6,260.9 L269.9,260.4 L270.1,260.1 L270.4,259.9 L270.7,260.3 L271.0,261.2 L271.3,262.6 L271.6,264.2 L271.9,266.1 L272.2,268.1 L272.5,270.3 L272.8,272.6 L273.1,274.9 L273.4,277.2 L273.7,279.5 L274.0,281.6 L274.3,283.7 L274.6,285.7 L274.9,287.5 L275.2,289.3 L275.5,290.8 L275.8,292.2 L276.0,293.5 L276.3,294.7 L276.6,295.7 L276.9,296.6 L277.2,297.4 L277.5,298.0 L277.8,298.6 L278.1,299.1 L278.4,299.5 L278.7,299.9 L279.0,300.2 L279.3,300.4 L279.6,300.6 L279.9,300.8 L280.2,301.0 L280.5,301.1 L280.8,301.2 L281.1,301.2 L281.4,301.3 L281.6,301.3 L281.9,301.4 L282.2,301.4 L308.2,301.5" fill="none" stroke="#a82e58" stroke-width="0.9" stroke-linejoin="round"/>
<path d="M261.0,301.2 L261.3,301.2 L261.6,301.2 L261.9,301.1 L262.2,301.1 L262.5,301.0 L262.8,300.9 L263.1,300.9 L263.4,300.8 L263.7,300.7 L263.9,300.6 L264.2,300.5 L264.5,300.3 L264.8,300.2 L265.1,300.0 L265.4,299.9 L265.7,299.7 L266.0,299.5 L266.3,299.3 L266.6,299.0 L266.9,298.8 L267.2,298.5 L267.5,298.2 L267.8,297.8 L268.1,297.5 L268.4,297.1 L268.7,296.6 L269.0,296.2 L269.3,295.7 L269.6,295.1 L269.9,294.6 L270.1,294.0 L270.4,293.3 L270.7,292.7 L271.0,291.9 L271.3,291.2 L271.6,290.4 L271.9,289.5 L272.2,288.6 L272.5,287.7 L272.8,286.7 L273.1,285.7 L273.4,284.7 L273.7,283.6 L274.0,282.5 L274.3,281.3 L274.6,280.2 L274.9,279.0 L275.2,277.7 L275.5,276.5 L275.8,275.2 L276.0,274.0 L276.3,272.7 L276.6,271.5 L276.9,270.2 L277.2,269.0 L277.5,267.8 L277.8,266.7 L278.1,265.5 L278.4,264.5 L278.7,263.5 L279.0,262.5 L279.3,261.7 L279.6,260.9 L279.9,260.3 L280.2,259.7 L280.5,259.3 L280.8,259.1 L281.1,259.1 L281.4,259.9 L281.6,261.2 L281.9,262.9 L282.2,264.9 L282.5,267.2 L282.8,269.6 L283.1,272.1 L283.4,274.7 L283.7,277.3 L284.0,279.8 L284.3,282.2 L284.6,284.4 L284.9,286.5 L285.2,288.5 L285.5,290.3 L285.8,291.9 L286.1,293.3 L286.4,294.6 L286.7,295.7 L287.0,296.7 L287.3,297.5 L287.6,298.2 L287.8,298.8 L288.1,299.3 L288.4,299.8 L288.7,300.1 L289.0,300.4 L289.3,300.6 L289.6,300.8 L289.9,301.0 L290.2,301.1 L290.5,301.2 L290.8,301.3 L291.1,301.3 L291.4,301.4 L291.7,301.4 L292.0,301.4 L308.2,301.5" fill="none" stroke="#6b3f8c" stroke-width="0.9" stroke-linejoin="round"/>
<rect x="261.00" y="254.50" width="47.20" height="47.00" fill="none" stroke="#111" stroke-width="1.3"/>
<path d="M258.10,301.50H261.00M259.40,299.71H261.00M259.40,297.92H261.00M259.40,296.14H261.00M259.40,294.35H261.00M258.10,292.56H261.00M259.40,290.77H261.00M259.40,288.98H261.00M259.40,287.20H261.00M259.40,285.41H261.00M258.10,283.62H261.00M259.40,281.83H261.00M259.40,280.04H261.00M259.40,278.26H261.00M259.40,276.47H261.00M258.10,274.68H261.00M259.40,272.89H261.00M259.40,271.10H261.00M259.40,269.32H261.00M259.40,267.53H261.00M258.10,265.74H261.00M259.40,263.95H261.00M259.40,262.16H261.00M259.40,260.38H261.00M259.40,258.59H261.00M258.10,256.80H261.00M261.00,301.50V304.40M264.55,301.50V303.40M266.63,301.50V303.40M268.10,301.50V303.40M269.25,301.50V303.40M270.18,301.50V303.40M270.97,301.50V303.40M271.66,301.50V303.40M272.26,301.50V303.40M272.80,301.50V304.40M276.35,301.50V303.40M278.43,301.50V303.40M279.90,301.50V303.40M281.05,301.50V303.40M281.98,301.50V303.40M282.77,301.50V303.40M283.46,301.50V303.40M284.06,301.50V303.40M284.60,301.50V304.40M288.15,301.50V303.40M290.23,301.50V303.40M291.70,301.50V303.40M292.85,301.50V303.40M293.78,301.50V303.40M294.57,301.50V303.40M295.26,301.50V303.40M295.86,301.50V303.40M296.40,301.50V304.40M299.95,301.50V303.40M302.03,301.50V303.40M303.50,301.50V303.40M304.65,301.50V303.40M305.58,301.50V303.40M306.37,301.50V303.40M307.06,301.50V303.40M307.66,301.50V303.40M308.20,301.50V304.10" stroke="#111" stroke-width="0.95" fill="none"/>
<text x="255.60" y="303.80" font-size="6.5" text-anchor="end" fill="#333" class="e">0</text>
<text x="255.60" y="294.86" font-size="6.5" text-anchor="end" fill="#333" class="e">20</text>
<text x="255.60" y="285.92" font-size="6.5" text-anchor="end" fill="#333" class="e">40</text>
<text x="255.60" y="276.98" font-size="6.5" text-anchor="end" fill="#333" class="e">60</text>
<text x="255.60" y="268.04" font-size="6.5" text-anchor="end" fill="#333" class="e">80</text>
<text x="255.60" y="259.10" font-size="6.5" text-anchor="end" fill="#333" class="e">100</text>
<text x="256.80" y="313.50" font-size="6.3" fill="#333" class="e">10<tspan font-size="3.4" dy="-3.2">-1</tspan></text>
<text x="268.60" y="313.50" font-size="6.3" fill="#333" class="e">10<tspan font-size="3.4" dy="-3.2">0</tspan></text>
<text x="280.40" y="313.50" font-size="6.3" fill="#333" class="e">10<tspan font-size="3.4" dy="-3.2">1</tspan></text>
<text x="292.20" y="313.50" font-size="6.3" fill="#333" class="e">10<tspan font-size="3.4" dy="-3.2">2</tspan></text>
<text x="304.00" y="313.50" font-size="6.3" fill="#333" class="e">10<tspan font-size="3.4" dy="-3.2">3</tspan></text>
<text x="305.20" y="298.50" font-size="6.8" text-anchor="end" fill="#222">D4</text>
<path d="M330.1,291.7 L330.4,290.9 L330.7,290.1 L331.0,289.2 L331.3,288.3 L331.6,287.3 L331.9,286.2 L332.2,285.2 L332.5,284.1 L332.8,282.9 L333.1,281.8 L333.3,280.6 L333.6,279.3 L333.9,278.1 L334.2,276.8 L334.5,275.5 L334.8,274.2 L335.1,272.9 L335.4,271.7 L335.7,270.4 L336.0,269.2 L336.3,267.9 L336.6,266.8 L336.9,265.7 L337.2,264.6 L337.5,263.6 L337.8,262.7 L338.1,261.9 L338.4,261.3 L338.7,260.7 L339.0,260.3 L339.2,260.0 L339.5,260.0 L339.8,260.5 L340.1,261.5 L340.4,262.8 L340.7,264.3 L341.0,266.0 L341.3,267.9 L341.6,269.9 L341.9,272.0 L342.2,274.2 L342.5,276.3 L342.8,278.4 L343.1,280.4 L343.4,282.4 L343.7,284.3 L344.0,286.1 L344.3,287.8 L344.6,289.4 L344.9,290.8 L345.1,292.1 L345.4,293.3 L345.7,294.4 L346.0,295.4 L346.3,296.2 L346.6,297.0 L346.9,297.7 L347.2,298.3 L347.5,298.8 L347.8,299.2 L348.1,299.6 L348.4,299.9 L348.7,300.2 L349.0,300.4 L349.3,300.6 L349.6,300.8 L349.9,300.9 L350.2,301.0 L350.5,301.1 L350.8,301.2 L351.0,301.3 L351.3,301.3 L351.6,301.3 L351.9,301.4 L352.2,301.4 L377.3,301.5" fill="none" stroke="#a82e58" stroke-width="0.9" stroke-linejoin="round"/>
<path d="M330.1,300.7 L330.4,300.6 L330.7,300.5 L331.0,300.4 L331.3,300.3 L331.6,300.2 L331.9,300.0 L332.2,299.9 L332.5,299.7 L332.8,299.5 L333.1,299.3 L333.3,299.1 L333.6,298.9 L333.9,298.6 L334.2,298.3 L334.5,298.1 L334.8,297.7 L335.1,297.4 L335.4,297.1 L335.7,296.7 L336.0,296.3 L336.3,295.8 L336.6,295.4 L336.9,294.9 L337.2,294.4 L337.5,293.8 L337.8,293.2 L338.1,292.6 L338.4,291.9 L338.7,291.3 L339.0,290.5 L339.2,289.8 L339.5,289.0 L339.8,288.2 L340.1,287.4 L340.4,286.5 L340.7,285.6 L341.0,284.6 L341.3,283.7 L341.6,282.7 L341.9,281.6 L342.2,280.6 L342.5,279.5 L342.8,278.4 L343.1,277.3 L343.4,276.2 L343.7,275.1 L344.0,274.0 L344.3,272.9 L344.6,271.8 L344.9,270.7 L345.1,269.6 L345.4,268.5 L345.7,267.5 L346.0,266.4 L346.3,265.5 L346.6,264.5 L346.9,263.7 L347.2,262.9 L347.5,262.1 L347.8,261.4 L348.1,260.8 L348.4,260.3 L348.7,259.9 L349.0,259.6 L349.3,259.5 L349.6,259.8 L349.9,260.9 L350.2,262.4 L350.5,264.4 L350.8,266.7 L351.0,269.2 L351.3,271.8 L351.6,274.4 L351.9,277.1 L352.2,279.7 L352.5,282.2 L352.8,284.5 L353.1,286.7 L353.4,288.7 L353.7,290.6 L354.0,292.2 L354.3,293.7 L354.6,295.0 L354.9,296.1 L355.2,297.0 L355.5,297.9 L355.8,298.5 L356.1,299.1 L356.4,299.6 L356.7,300.0 L356.9,300.3 L357.2,300.6 L357.5,300.8 L357.8,300.9 L358.1,301.1 L358.4,301.2 L358.7,301.3 L359.0,301.3 L359.3,301.4 L359.6,301.4 L359.9,301.4 L377.3,301.5" fill="none" stroke="#f2a43a" stroke-width="0.9" stroke-linejoin="round"/>
<rect x="330.10" y="254.50" width="47.20" height="47.00" fill="none" stroke="#111" stroke-width="1.3"/>
<path d="M327.20,301.50H330.10M328.50,299.71H330.10M328.50,297.92H330.10M328.50,296.14H330.10M328.50,294.35H330.10M327.20,292.56H330.10M328.50,290.77H330.10M328.50,288.98H330.10M328.50,287.20H330.10M328.50,285.41H330.10M327.20,283.62H330.10M328.50,281.83H330.10M328.50,280.04H330.10M328.50,278.26H330.10M328.50,276.47H330.10M327.20,274.68H330.10M328.50,272.89H330.10M328.50,271.10H330.10M328.50,269.32H330.10M328.50,267.53H330.10M327.20,265.74H330.10M328.50,263.95H330.10M328.50,262.16H330.10M328.50,260.38H330.10M328.50,258.59H330.10M327.20,256.80H330.10M330.10,301.50V304.40M333.65,301.50V303.40M335.73,301.50V303.40M337.20,301.50V303.40M338.35,301.50V303.40M339.28,301.50V303.40M340.07,301.50V303.40M340.76,301.50V303.40M341.36,301.50V303.40M341.90,301.50V304.40M345.45,301.50V303.40M347.53,301.50V303.40M349.00,301.50V303.40M350.15,301.50V303.40M351.08,301.50V303.40M351.87,301.50V303.40M352.56,301.50V303.40M353.16,301.50V303.40M353.70,301.50V304.40M357.25,301.50V303.40M359.33,301.50V303.40M360.80,301.50V303.40M361.95,301.50V303.40M362.88,301.50V303.40M363.67,301.50V303.40M364.36,301.50V303.40M364.96,301.50V303.40M365.50,301.50V304.40M369.05,301.50V303.40M371.13,301.50V303.40M372.60,301.50V303.40M373.75,301.50V303.40M374.68,301.50V303.40M375.47,301.50V303.40M376.16,301.50V303.40M376.76,301.50V303.40M377.30,301.50V304.10" stroke="#111" stroke-width="0.95" fill="none"/>
<text x="324.70" y="303.80" font-size="6.5" text-anchor="end" fill="#333" class="e">0</text>
<text x="324.70" y="294.86" font-size="6.5" text-anchor="end" fill="#333" class="e">20</text>
<text x="324.70" y="285.92" font-size="6.5" text-anchor="end" fill="#333" class="e">40</text>
<text x="324.70" y="276.98" font-size="6.5" text-anchor="end" fill="#333" class="e">60</text>
<text x="324.70" y="268.04" font-size="6.5" text-anchor="end" fill="#333" class="e">80</text>
<text x="324.70" y="259.10" font-size="6.5" text-anchor="end" fill="#333" class="e">100</text>
<text x="325.90" y="313.50" font-size="6.3" fill="#333" class="e">10<tspan font-size="3.4" dy="-3.2">-1</tspan></text>
<text x="337.70" y="313.50" font-size="6.3" fill="#333" class="e">10<tspan font-size="3.4" dy="-3.2">0</tspan></text>
<text x="349.50" y="313.50" font-size="6.3" fill="#333" class="e">10<tspan font-size="3.4" dy="-3.2">1</tspan></text>
<text x="361.30" y="313.50" font-size="6.3" fill="#333" class="e">10<tspan font-size="3.4" dy="-3.2">2</tspan></text>
<text x="373.10" y="313.50" font-size="6.3" fill="#333" class="e">10<tspan font-size="3.4" dy="-3.2">3</tspan></text>
<text x="374.30" y="298.50" font-size="6.8" text-anchor="end" fill="#222">D5</text>
<path d="M399.0,291.7 L399.3,290.9 L399.6,290.1 L399.9,289.2 L400.2,288.3 L400.5,287.3 L400.8,286.2 L401.1,285.2 L401.4,284.1 L401.7,282.9 L401.9,281.8 L402.2,280.6 L402.5,279.3 L402.8,278.1 L403.1,276.8 L403.4,275.5 L403.7,274.2 L404.0,272.9 L404.3,271.7 L404.6,270.4 L404.9,269.2 L405.2,267.9 L405.5,266.8 L405.8,265.7 L406.1,264.6 L406.4,263.6 L406.7,262.7 L407.0,261.9 L407.3,261.3 L407.6,260.7 L407.9,260.3 L408.1,260.0 L408.4,260.0 L408.7,260.5 L409.0,261.5 L409.3,262.8 L409.6,264.3 L409.9,266.0 L410.2,267.9 L410.5,269.9 L410.8,272.0 L411.1,274.2 L411.4,276.3 L411.7,278.4 L412.0,280.4 L412.3,282.4 L412.6,284.3 L412.9,286.1 L413.2,287.8 L413.5,289.4 L413.8,290.8 L414.0,292.1 L414.3,293.3 L414.6,294.4 L414.9,295.4 L415.2,296.2 L415.5,297.0 L415.8,297.7 L416.1,298.3 L416.4,298.8 L416.7,299.2 L417.0,299.6 L417.3,299.9 L417.6,300.2 L417.9,300.4 L418.2,300.6 L418.5,300.8 L418.8,300.9 L419.1,301.0 L419.4,301.1 L419.6,301.2 L419.9,301.3 L420.2,301.3 L420.5,301.3 L420.8,301.4 L421.1,301.4 L446.2,301.5" fill="none" stroke="#a82e58" stroke-width="0.9" stroke-linejoin="round"/>
<path d="M399.0,300.2 L399.3,300.0 L399.6,299.9 L399.9,299.7 L400.2,299.5 L400.5,299.3 L400.8,299.1 L401.1,298.9 L401.4,298.6 L401.7,298.4 L401.9,298.1 L402.2,297.8 L402.5,297.4 L402.8,297.1 L403.1,296.7 L403.4,296.3 L403.7,295.9 L404.0,295.4 L404.3,294.9 L404.6,294.4 L404.9,293.8 L405.2,293.2 L405.5,292.6 L405.8,292.0 L406.1,291.3 L406.4,290.6 L406.7,289.8 L407.0,289.0 L407.3,288.2 L407.6,287.4 L407.9,286.5 L408.1,285.6 L408.4,284.6 L408.7,283.7 L409.0,282.7 L409.3,281.6 L409.6,280.6 L409.9,279.5 L410.2,278.4 L410.5,277.3 L410.8,276.2 L411.1,275.1 L411.4,273.9 L411.7,272.8 L412.0,271.7 L412.3,270.6 L412.6,269.5 L412.9,268.4 L413.2,267.3 L413.5,266.3 L413.8,265.3 L414.0,264.3 L414.3,263.4 L414.6,262.6 L414.9,261.8 L415.2,261.1 L415.5,260.5 L415.8,260.0 L416.1,259.6 L416.4,259.2 L416.7,259.1 L417.0,259.2 L417.3,259.9 L417.6,261.0 L417.9,262.4 L418.2,264.2 L418.5,266.1 L418.8,268.2 L419.1,270.3 L419.4,272.6 L419.6,274.8 L419.9,277.1 L420.2,279.3 L420.5,281.4 L420.8,283.5 L421.1,285.4 L421.4,287.2 L421.7,288.9 L422.0,290.4 L422.3,291.8 L422.6,293.1 L422.9,294.3 L423.2,295.3 L423.5,296.2 L423.8,297.0 L424.1,297.7 L424.4,298.3 L424.7,298.8 L425.0,299.3 L425.3,299.7 L425.6,300.0 L425.8,300.3 L426.1,300.5 L426.4,300.7 L426.7,300.8 L427.0,301.0 L427.3,301.1 L427.6,301.2 L427.9,301.2 L428.2,301.3 L428.5,301.3 L428.8,301.4 L429.1,301.4 L446.2,301.5" fill="none" stroke="#5ab0dc" stroke-width="0.9" stroke-linejoin="round"/>
<rect x="399.00" y="254.50" width="47.20" height="47.00" fill="none" stroke="#111" stroke-width="1.3"/>
<path d="M396.10,301.50H399.00M397.40,299.71H399.00M397.40,297.92H399.00M397.40,296.14H399.00M397.40,294.35H399.00M396.10,292.56H399.00M397.40,290.77H399.00M397.40,288.98H399.00M397.40,287.20H399.00M397.40,285.41H399.00M396.10,283.62H399.00M397.40,281.83H399.00M397.40,280.04H399.00M397.40,278.26H399.00M397.40,276.47H399.00M396.10,274.68H399.00M397.40,272.89H399.00M397.40,271.10H399.00M397.40,269.32H399.00M397.40,267.53H399.00M396.10,265.74H399.00M397.40,263.95H399.00M397.40,262.16H399.00M397.40,260.38H399.00M397.40,258.59H399.00M396.10,256.80H399.00M399.00,301.50V304.40M402.55,301.50V303.40M404.63,301.50V303.40M406.10,301.50V303.40M407.25,301.50V303.40M408.18,301.50V303.40M408.97,301.50V303.40M409.66,301.50V303.40M410.26,301.50V303.40M410.80,301.50V304.40M414.35,301.50V303.40M416.43,301.50V303.40M417.90,301.50V303.40M419.05,301.50V303.40M419.98,301.50V303.40M420.77,301.50V303.40M421.46,301.50V303.40M422.06,301.50V303.40M422.60,301.50V304.40M426.15,301.50V303.40M428.23,301.50V303.40M429.70,301.50V303.40M430.85,301.50V303.40M431.78,301.50V303.40M432.57,301.50V303.40M433.26,301.50V303.40M433.86,301.50V303.40M434.40,301.50V304.40M437.95,301.50V303.40M440.03,301.50V303.40M441.50,301.50V303.40M442.65,301.50V303.40M443.58,301.50V303.40M444.37,301.50V303.40M445.06,301.50V303.40M445.66,301.50V303.40M446.20,301.50V304.10" stroke="#111" stroke-width="0.95" fill="none"/>
<text x="393.60" y="303.80" font-size="6.5" text-anchor="end" fill="#333" class="e">0</text>
<text x="393.60" y="294.86" font-size="6.5" text-anchor="end" fill="#333" class="e">20</text>
<text x="393.60" y="285.92" font-size="6.5" text-anchor="end" fill="#333" class="e">40</text>
<text x="393.60" y="276.98" font-size="6.5" text-anchor="end" fill="#333" class="e">60</text>
<text x="393.60" y="268.04" font-size="6.5" text-anchor="end" fill="#333" class="e">80</text>
<text x="393.60" y="259.10" font-size="6.5" text-anchor="end" fill="#333" class="e">100</text>
<text x="394.80" y="313.50" font-size="6.3" fill="#333" class="e">10<tspan font-size="3.4" dy="-3.2">-1</tspan></text>
<text x="406.60" y="313.50" font-size="6.3" fill="#333" class="e">10<tspan font-size="3.4" dy="-3.2">0</tspan></text>
<text x="418.40" y="313.50" font-size="6.3" fill="#333" class="e">10<tspan font-size="3.4" dy="-3.2">1</tspan></text>
<text x="430.20" y="313.50" font-size="6.3" fill="#333" class="e">10<tspan font-size="3.4" dy="-3.2">2</tspan></text>
<text x="442.00" y="313.50" font-size="6.3" fill="#333" class="e">10<tspan font-size="3.4" dy="-3.2">3</tspan></text>
<text x="443.20" y="298.50" font-size="6.8" text-anchor="end" fill="#222">D6</text>
<path d="M468.1,291.7 L468.4,290.9 L468.7,290.1 L469.0,289.2 L469.3,288.3 L469.6,287.3 L469.9,286.2 L470.2,285.2 L470.5,284.1 L470.8,282.9 L471.1,281.8 L471.3,280.6 L471.6,279.3 L471.9,278.1 L472.2,276.8 L472.5,275.5 L472.8,274.2 L473.1,272.9 L473.4,271.7 L473.7,270.4 L474.0,269.2 L474.3,267.9 L474.6,266.8 L474.9,265.7 L475.2,264.6 L475.5,263.6 L475.8,262.7 L476.1,261.9 L476.4,261.3 L476.7,260.7 L477.0,260.3 L477.2,260.0 L477.5,260.0 L477.8,260.5 L478.1,261.3 L478.4,262.4 L478.7,263.8 L479.0,265.3 L479.3,267.0 L479.6,268.9 L479.9,270.8 L480.2,272.7 L480.5,274.7 L480.8,276.7 L481.1,278.6 L481.4,280.5 L481.7,282.4 L482.0,284.1 L482.3,285.8 L482.6,287.4 L482.9,288.9 L483.1,290.3 L483.4,291.5 L483.7,292.7 L484.0,293.8 L484.3,294.7 L484.6,295.6 L484.9,296.4 L485.2,297.1 L485.5,297.7 L485.8,298.2 L486.1,298.7 L486.4,299.1 L486.7,299.5 L487.0,299.8 L487.3,300.1 L487.6,300.3 L487.9,300.5 L488.2,300.7 L488.5,300.8 L488.8,300.9 L489.0,301.0 L489.3,301.1 L489.6,301.2 L489.9,301.3 L490.2,301.3 L490.5,301.3 L490.8,301.4 L491.1,301.4 L515.3,301.5" fill="none" stroke="#a82e58" stroke-width="0.9" stroke-linejoin="round"/>
<path d="M468.1,291.8 L468.4,291.1 L468.7,290.2 L469.0,289.3 L469.3,288.4 L469.6,287.4 L469.9,286.4 L470.2,285.4 L470.5,284.3 L470.8,283.1 L471.1,282.0 L471.3,280.8 L471.6,279.6 L471.9,278.3 L472.2,277.1 L472.5,275.8 L472.8,274.5 L473.1,273.2 L473.4,272.0 L473.7,270.7 L474.0,269.5 L474.3,268.3 L474.6,267.2 L474.9,266.1 L475.2,265.0 L475.5,264.0 L475.8,263.2 L476.1,262.4 L476.4,261.7 L476.7,261.1 L477.0,260.7 L477.2,260.4 L477.5,260.4 L477.8,260.9 L478.1,261.7 L478.4,262.9 L478.7,264.2 L479.0,265.7 L479.3,267.4 L479.6,269.2 L479.9,271.1 L480.2,273.0 L480.5,275.0 L480.8,276.9 L481.1,278.9 L481.4,280.8 L481.7,282.6 L482.0,284.3 L482.3,286.0 L482.6,287.5 L482.9,289.0 L483.1,290.4 L483.4,291.6 L483.7,292.8 L484.0,293.8 L484.3,294.8 L484.6,295.7 L484.9,296.4 L485.2,297.1 L485.5,297.7 L485.8,298.3 L486.1,298.8 L486.4,299.2 L486.7,299.5 L487.0,299.8 L487.3,300.1 L487.6,300.3 L487.9,300.5 L488.2,300.7 L488.5,300.8 L488.8,301.0 L489.0,301.1 L489.3,301.1 L489.6,301.2 L489.9,301.3 L490.2,301.3 L490.5,301.3 L490.8,301.4 L491.1,301.4 L515.3,301.5" fill="none" stroke="#2c7e66" stroke-width="1.15" stroke-linejoin="round"/>
<rect x="468.10" y="254.50" width="47.20" height="47.00" fill="none" stroke="#111" stroke-width="1.3"/>
<path d="M465.20,301.50H468.10M466.50,299.71H468.10M466.50,297.92H468.10M466.50,296.14H468.10M466.50,294.35H468.10M465.20,292.56H468.10M466.50,290.77H468.10M466.50,288.98H468.10M466.50,287.20H468.10M466.50,285.41H468.10M465.20,283.62H468.10M466.50,281.83H468.10M466.50,280.04H468.10M466.50,278.26H468.10M466.50,276.47H468.10M465.20,274.68H468.10M466.50,272.89H468.10M466.50,271.10H468.10M466.50,269.32H468.10M466.50,267.53H468.10M465.20,265.74H468.10M466.50,263.95H468.10M466.50,262.16H468.10M466.50,260.38H468.10M466.50,258.59H468.10M465.20,256.80H468.10M468.10,301.50V304.40M471.65,301.50V303.40M473.73,301.50V303.40M475.20,301.50V303.40M476.35,301.50V303.40M477.28,301.50V303.40M478.07,301.50V303.40M478.76,301.50V303.40M479.36,301.50V303.40M479.90,301.50V304.40M483.45,301.50V303.40M485.53,301.50V303.40M487.00,301.50V303.40M488.15,301.50V303.40M489.08,301.50V303.40M489.87,301.50V303.40M490.56,301.50V303.40M491.16,301.50V303.40M491.70,301.50V304.40M495.25,301.50V303.40M497.33,301.50V303.40M498.80,301.50V303.40M499.95,301.50V303.40M500.88,301.50V303.40M501.67,301.50V303.40M502.36,301.50V303.40M502.96,301.50V303.40M503.50,301.50V304.40M507.05,301.50V303.40M509.13,301.50V303.40M510.60,301.50V303.40M511.75,301.50V303.40M512.68,301.50V303.40M513.47,301.50V303.40M514.16,301.50V303.40M514.76,301.50V303.40M515.30,301.50V304.10" stroke="#111" stroke-width="0.95" fill="none"/>
<text x="462.70" y="303.80" font-size="6.5" text-anchor="end" fill="#333" class="e">0</text>
<text x="462.70" y="294.86" font-size="6.5" text-anchor="end" fill="#333" class="e">20</text>
<text x="462.70" y="285.92" font-size="6.5" text-anchor="end" fill="#333" class="e">40</text>
<text x="462.70" y="276.98" font-size="6.5" text-anchor="end" fill="#333" class="e">60</text>
<text x="462.70" y="268.04" font-size="6.5" text-anchor="end" fill="#333" class="e">80</text>
<text x="462.70" y="259.10" font-size="6.5" text-anchor="end" fill="#333" class="e">100</text>
<text x="463.90" y="313.50" font-size="6.3" fill="#333" class="e">10<tspan font-size="3.4" dy="-3.2">-1</tspan></text>
<text x="475.70" y="313.50" font-size="6.3" fill="#333" class="e">10<tspan font-size="3.4" dy="-3.2">0</tspan></text>
<text x="487.50" y="313.50" font-size="6.3" fill="#333" class="e">10<tspan font-size="3.4" dy="-3.2">1</tspan></text>
<text x="499.30" y="313.50" font-size="6.3" fill="#333" class="e">10<tspan font-size="3.4" dy="-3.2">2</tspan></text>
<text x="511.10" y="313.50" font-size="6.3" fill="#333" class="e">10<tspan font-size="3.4" dy="-3.2">3</tspan></text>
<text x="512.30" y="298.50" font-size="6.8" text-anchor="end" fill="#222">D7</text>
<rect x="51.2" y="331.0" width="427.50" height="34.30" fill="#e9e9eb"/>
<rect x="51.2" y="331.0" width="79.70" height="103.00" fill="#e9e9eb"/>
<path d="M130.9,348.2H478.7M51.2,365.3H478.7M130.9,382.6H478.7M130.9,399.8H478.7M130.9,417.0H478.7M180.60,348.2V434.0M230.30,348.2V434.0M280.00,348.2V434.0M329.70,348.2V434.0M379.40,348.2V434.0M429.10,348.2V434.0" stroke="#333" stroke-width="1.0" fill="none"/>
<path d="M130.9,331.0V434.0" stroke="#333" stroke-width="1.1" fill="none"/>
<rect x="51.2" y="331.0" width="427.50" height="103.00" fill="none" stroke="#333" stroke-width="1.2"/>
<text x="91.05" y="351.00" font-size="7.9" text-anchor="middle" fill="#333">Eluate</text>
<text x="304.80" y="342.45" font-size="7.9" text-anchor="middle" fill="#333">BEL-A cells</text>
<text x="155.75" y="360.65" font-size="7.9" text-anchor="middle" fill="#333">KO</text>
<text x="205.45" y="360.65" font-size="7.9" text-anchor="middle" fill="#333">O-E WT</text>
<text x="255.15" y="360.65" font-size="7.9" text-anchor="middle" fill="#333">E2392K</text>
<text x="304.85" y="360.65" font-size="7.9" text-anchor="middle" fill="#333">G2394S</text>
<text x="354.55" y="360.65" font-size="7.9" text-anchor="middle" fill="#333">E2407Q</text>
<text x="404.25" y="360.65" font-size="7.9" text-anchor="middle" fill="#333">E2407K</text>
<text x="453.90" y="360.65" font-size="7.9" text-anchor="middle" fill="#333">R2245Q</text>
<text x="91.05" y="376.80" font-size="7.9" text-anchor="middle" fill="#333">P3 (G2394S)</text>
<text x="155.75" y="376.80" font-size="7.9" text-anchor="middle" fill="#333">–</text>
<text x="205.45" y="376.80" font-size="7.9" text-anchor="middle" fill="#333">+</text>
<text x="255.15" y="376.80" font-size="7.9" text-anchor="middle" fill="#333">–</text>
<text x="304.85" y="376.80" font-size="7.9" text-anchor="middle" fill="#333">–</text>
<text x="354.55" y="376.80" font-size="7.9" text-anchor="middle" fill="#333">+</text>
<text x="404.25" y="376.80" font-size="7.9" text-anchor="middle" fill="#333">+</text>
<text x="453.90" y="376.80" font-size="7.9" text-anchor="middle" fill="#333">+</text>
<text x="91.05" y="394.05" font-size="7.9" text-anchor="middle" fill="#333">P11 (E2407Q)</text>
<text x="155.75" y="394.05" font-size="7.9" text-anchor="middle" fill="#333">–</text>
<text x="205.45" y="394.05" font-size="7.9" text-anchor="middle" fill="#333">+</text>
<text x="255.15" y="394.05" font-size="7.9" text-anchor="middle" fill="#333">+</text>
<text x="304.85" y="394.05" font-size="7.9" text-anchor="middle" fill="#333">+</text>
<text x="354.55" y="394.05" font-size="7.9" text-anchor="middle" fill="#333">–</text>
<text x="404.25" y="394.05" font-size="7.9" text-anchor="middle" fill="#333">–</text>
<text x="453.90" y="394.05" font-size="7.9" text-anchor="middle" fill="#333">+</text>
<text x="91.05" y="411.25" font-size="7.9" text-anchor="middle" fill="#333">P12 (E2407K)</text>
<text x="155.75" y="411.25" font-size="7.9" text-anchor="middle" fill="#333">–</text>
<text x="205.45" y="411.25" font-size="7.9" text-anchor="middle" fill="#333">+</text>
<text x="255.15" y="411.25" font-size="7.9" text-anchor="middle" fill="#333">+</text>
<text x="304.85" y="411.25" font-size="7.9" text-anchor="middle" fill="#333">+</text>
<text x="354.55" y="411.25" font-size="7.9" text-anchor="middle" fill="#333">(+)</text>
<text x="404.25" y="411.25" font-size="7.9" text-anchor="middle" fill="#333">–</text>
<text x="453.90" y="411.25" font-size="7.9" text-anchor="middle" fill="#333">+</text>
<text x="91.05" y="428.35" font-size="7.9" text-anchor="middle" fill="#333">P13 (R2245Q)</text>
<text x="155.75" y="428.35" font-size="7.9" text-anchor="middle" fill="#333">–</text>
<text x="205.45" y="428.35" font-size="7.9" text-anchor="middle" fill="#333">+</text>
<text x="255.15" y="428.35" font-size="7.9" text-anchor="middle" fill="#333">+</text>
<text x="304.85" y="428.35" font-size="7.9" text-anchor="middle" fill="#333">+</text>
<text x="354.55" y="428.35" font-size="7.9" text-anchor="middle" fill="#333">+</text>
<text x="404.25" y="428.35" font-size="7.9" text-anchor="middle" fill="#333">+</text>
<text x="453.90" y="428.35" font-size="7.9" text-anchor="middle" fill="#333">–</text>
</svg>
</body></html>
